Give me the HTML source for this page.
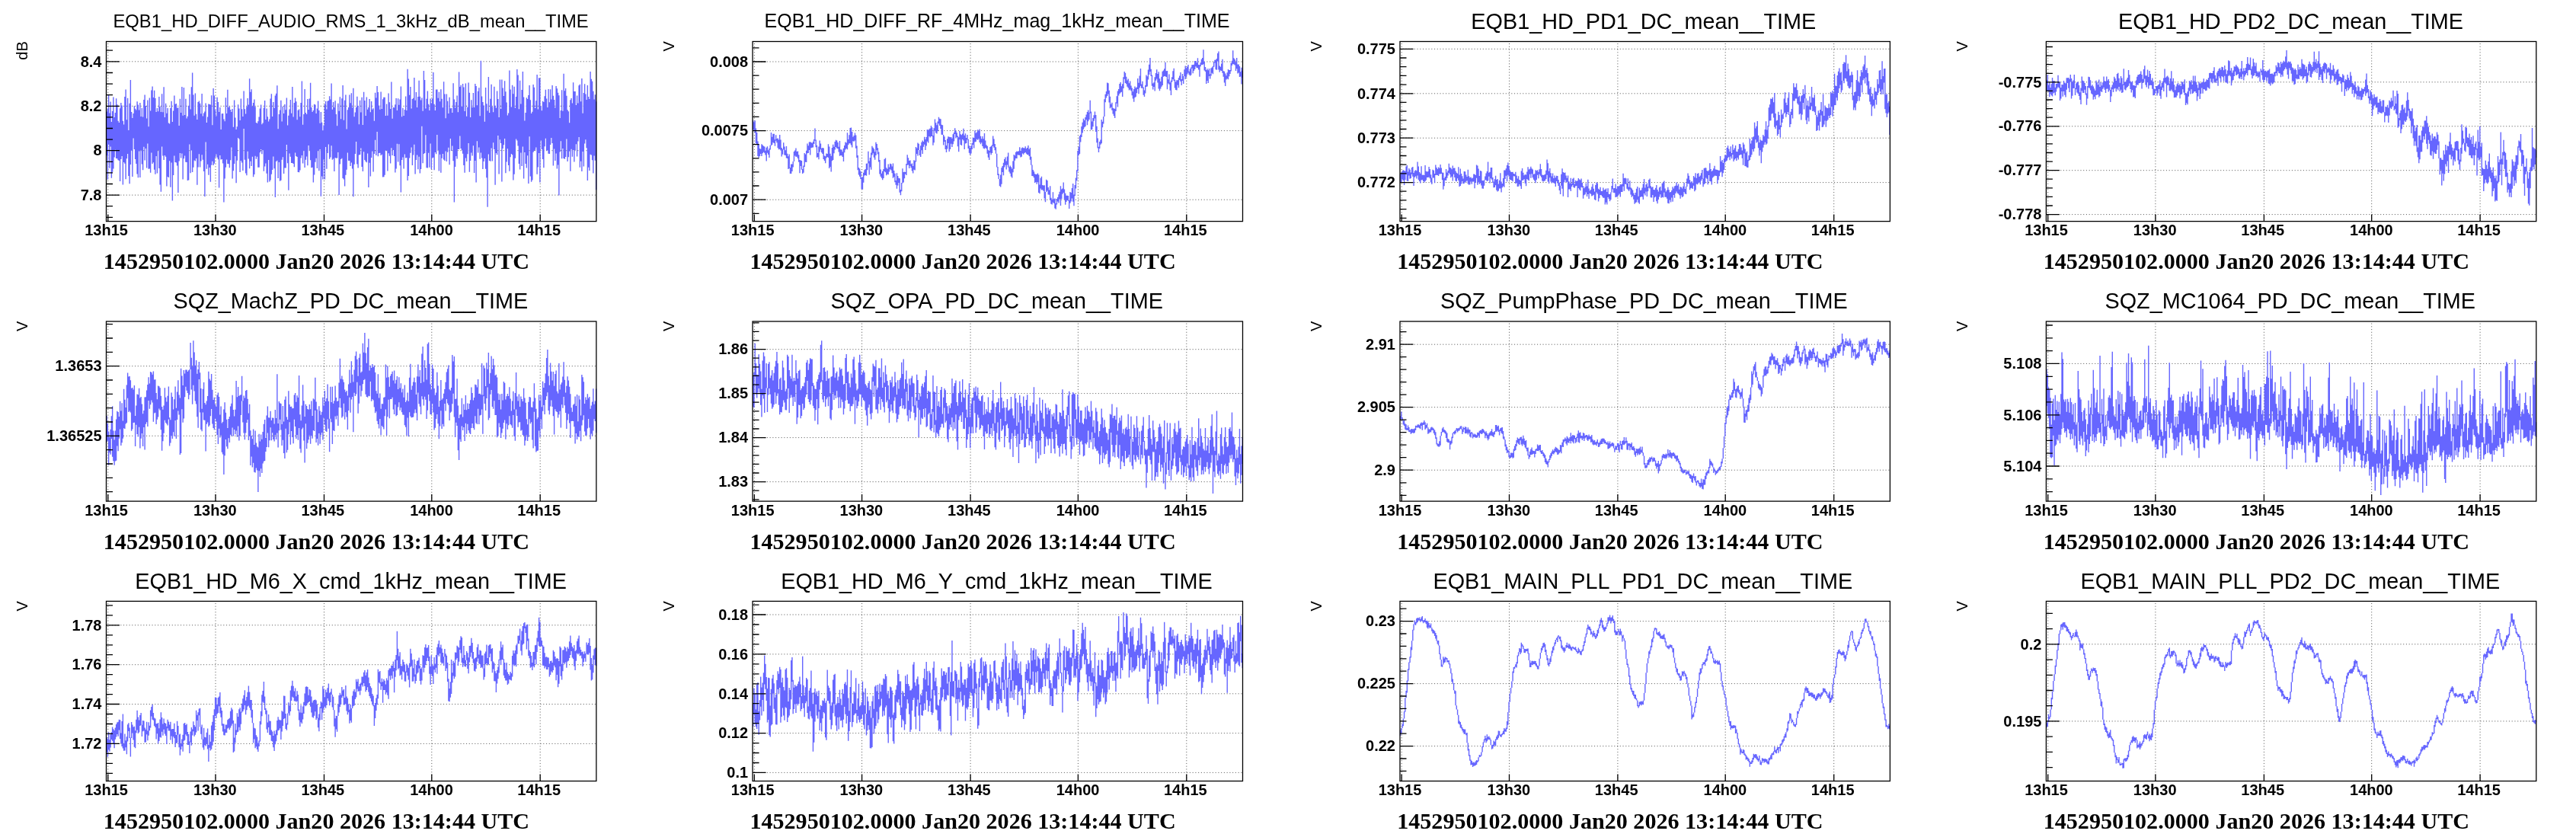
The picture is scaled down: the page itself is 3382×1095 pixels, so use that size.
<!DOCTYPE html>
<html><head><meta charset="utf-8"><title>plots</title>
<style>
html,body{margin:0;padding:0;background:#fff;}
body{width:3382px;height:1095px;overflow:hidden;}
svg{display:block;will-change:transform;opacity:0.999;filter:blur(0.45px);}
text{font-family:"Liberation Sans",sans-serif;fill:#000;}
.tt{text-anchor:middle;}
.tk{font-size:20px;font-weight:bold;}
.un{font-size:20px;text-anchor:end;}
.bt{font-family:"Liberation Serif",serif;font-weight:bold;font-size:30.1px;}
.fr{fill:none;stroke:#000;stroke-width:1.3;}
.gr{fill:none;stroke:#000;stroke-width:1;stroke-dasharray:1.1 2.65;stroke-opacity:.62;}
.ti{fill:none;stroke:#000;stroke-width:1.3;}
.cv{fill:none;stroke:#6666ff;stroke-width:1.4;}
</style></head><body>
<svg width="3382" height="1095" viewBox="0 0 3382 1095">
<rect x="0" y="0" width="3382" height="1095" fill="#fff"/>
<g>
<text class="tt" style="font-size:23.80px" x="460.6" y="35.9">EQB1_HD_DIFF_AUDIO_RMS_1_3kHz_dB_mean__TIME</text>
<text class="un" transform="translate(36.3 54.2) rotate(-90)">dB</text>
<path class="gr" d="M141.8 290.6 V54.5M283.0 290.6 V54.5M425.5 290.6 V54.5M566.8 290.6 V54.5M709.2 290.6 V54.5M139.5 80.8 H782.9M139.5 139.3 H782.9M139.5 197.7 H782.9M139.5 256.1 H782.9"/>
<path class="cv" d="M140.12 146.6V204.3M141.38 142.6V235.8M142.62 125.1V189.7M143.88 148.6V220.7M145.12 133.5V192.6M146.38 160.0V233.7M147.62 146.1V225.7M148.88 127.5V221.4M150.12 154.1V206.6M151.38 148.1V196.7M152.62 129.3V208.0M153.88 137.3V208.2M155.12 158.8V210.2M156.38 160.9V210.9M157.62 142.2V238.1M158.88 135.0V209.0M160.12 138.4V205.1M161.38 158.7V242.4M162.62 163.6V213.0M163.88 127.0V214.8M165.12 117.6V235.2M166.38 157.2V208.3M167.62 128.8V201.9M168.88 170.9V231.0M170.12 135.7V241.2M171.38 104.9V216.1M172.62 146.9V197.7M173.88 154.9V231.9M175.12 148.9V181.6M176.38 139.3V196.1M177.62 142.7V209.1M178.88 144.4V214.9M180.12 133.2V228.4M181.38 137.5V233.3M182.62 144.5V198.4M183.88 134.9V233.1M185.12 153.1V197.3M186.38 141.7V215.5M187.62 153.6V223.3M188.88 130.9V192.8M190.12 124.5V210.5M191.38 139.0V194.9M192.62 155.5V220.6M193.88 131.6V188.5M195.12 166.2V221.8M196.38 128.4V221.6M197.62 145.5V226.7M198.88 118.6V200.6M200.12 113.6V214.9M201.38 127.9V213.3M202.62 118.7V222.7M203.88 129.1V228.8M205.12 147.1V204.9M206.38 141.9V227.6M207.62 146.2V196.9M208.88 127.1V221.0M210.12 139.9V242.5M211.38 147.1V251.7M212.62 123.2V192.6M213.88 147.3V204.6M215.12 114.2V209.9M216.38 154.0V203.9M217.62 135.7V205.7M218.88 148.7V244.6M220.12 142.1V231.9M221.38 161.5V233.1M222.62 162.6V211.3M223.88 141.9V245.8M225.12 132.8V213.6M226.38 160.1V263.5M227.62 145.5V229.9M228.88 125.5V204.6M230.12 136.7V213.0M231.38 136.1V213.6M232.62 141.8V217.6M233.88 141.2V253.1M235.12 164.9V211.4M236.38 129.8V201.1M237.62 148.1V207.4M238.88 114.0V201.4M240.12 151.7V235.5M241.38 114.9V208.2M242.62 150.9V204.6M243.88 129.8V212.7M245.12 155.4V213.0M246.38 152.7V237.1M247.62 138.8V236.4M248.88 123.7V189.4M250.12 143.6V227.2M251.38 114.2V197.6M252.62 95.6V226.1M253.88 124.5V219.7M255.12 151.8V210.6M256.38 122.6V211.6M257.62 149.8V208.0M258.88 156.9V242.7M260.12 134.1V219.5M261.38 132.6V202.2M262.62 135.7V219.4M263.88 149.3V211.5M265.12 123.0V203.3M266.38 152.5V209.7M267.62 148.4V225.0M268.88 146.4V258.0M270.12 135.6V186.4M271.38 160.9V221.7M272.62 153.5V215.8M273.88 136.5V229.7M275.12 136.9V220.0M276.38 137.6V238.8M277.62 125.3V216.8M278.88 164.3V211.8M280.12 116.0V217.0M281.38 125.5V214.7M282.62 144.4V206.7M283.88 152.4V202.5M285.12 127.8V206.7M286.38 134.1V209.2M287.62 146.9V246.4M288.88 141.1V204.0M290.12 170.0V209.6M291.38 149.2V209.1M292.62 149.0V214.5M293.88 156.6V265.6M295.12 159.2V234.4M296.38 128.2V219.7M297.62 149.0V209.5M298.88 117.7V214.9M300.12 141.1V215.3M301.38 139.6V220.3M302.62 143.9V210.3M303.88 146.9V193.5M305.12 142.9V234.5M306.38 166.7V224.2M307.62 131.5V215.1M308.88 154.6V205.1M310.12 169.9V240.2M311.38 166.3V210.7M312.62 137.2V180.9M313.88 142.5V182.6M315.12 158.1V226.0M316.38 129.4V211.0M317.62 143.3V213.4M318.88 152.9V224.1M320.12 119.6V169.1M321.38 143.2V209.8M322.62 149.4V227.4M323.88 140.3V230.2M325.12 129.0V198.7M326.38 137.4V208.5M327.62 103.2V221.3M328.88 120.8V211.8M330.12 117.3V218.0M331.38 139.7V205.8M332.62 135.1V232.2M333.88 130.5V229.1M335.12 140.3V204.7M336.38 161.1V208.7M337.62 162.1V205.7M338.88 159.2V219.7M340.12 153.4V219.8M341.38 142.6V200.2M342.62 137.6V196.0M343.88 163.3V202.3M345.12 161.5V196.9M346.38 141.5V224.8M347.62 131.9V218.4M348.88 157.0V214.5M350.12 142.6V227.8M351.38 153.3V239.4M352.62 159.4V209.9M353.88 156.6V238.6M355.12 129.4V236.6M356.38 123.3V228.8M357.62 153.0V222.9M358.88 134.0V205.4M360.12 142.0V221.2M361.38 125.6V258.9M362.62 122.8V212.1M363.88 112.3V210.8M365.12 169.2V234.0M366.38 150.0V213.0M367.62 144.6V237.8M368.88 131.7V236.7M370.12 159.5V209.7M371.38 139.7V206.3M372.62 149.0V227.9M373.88 137.1V220.6M375.12 144.2V220.4M376.38 128.4V189.9M377.62 164.6V214.2M378.88 151.8V249.8M380.12 143.4V201.4M381.38 131.0V205.8M382.62 148.8V214.1M383.88 113.9V214.1M385.12 153.6V214.9M386.38 135.0V219.2M387.62 128.5V200.4M388.88 133.2V204.9M390.12 157.2V206.1M391.38 144.8V226.1M392.62 143.6V226.3M393.88 153.2V223.6M395.12 135.0V207.6M396.38 106.5V204.1M397.62 163.7V214.6M398.88 149.9V198.0M400.12 117.0V219.9M401.38 147.9V209.8M402.62 150.1V205.5M403.88 129.9V217.2M405.12 143.9V191.0M406.38 129.6V197.2M407.62 108.7V210.3M408.88 140.9V220.3M410.12 147.1V219.8M411.38 144.9V239.5M412.62 136.7V229.6M413.88 137.5V212.8M415.12 149.0V207.8M416.38 142.6V221.1M417.62 132.4V197.8M418.88 144.9V224.3M420.12 161.7V196.0M421.38 147.1V257.8M422.62 160.7V231.4M423.88 171.2V235.4M425.12 164.4V209.5M426.38 137.0V235.6M427.62 132.7V193.0M428.88 143.6V221.8M430.12 132.8V201.1M431.38 132.1V189.6M432.62 126.2V208.7M433.88 130.6V206.4M435.12 109.4V191.2M436.38 143.7V209.8M437.62 133.9V208.5M438.88 141.1V224.9M440.12 132.2V207.0M441.38 150.0V207.8M442.62 165.2V207.6M443.88 135.7V200.1M445.12 145.7V256.1M446.38 127.2V215.4M447.62 156.3V208.9M448.88 129.3V207.7M450.12 112.1V233.9M451.38 157.7V235.6M452.62 131.8V244.5M453.88 124.6V229.8M455.12 169.6V222.7M456.38 144.2V200.5M457.62 141.0V211.1M458.88 124.4V211.0M460.12 135.2V218.1M461.38 122.2V213.5M462.62 141.2V221.6M463.88 115.7V258.2M465.12 153.3V215.7M466.38 147.6V202.1M467.62 141.0V186.1M468.88 126.8V215.5M470.12 139.1V220.6M471.38 163.3V203.4M472.62 131.7V203.0M473.88 147.5V194.5M475.12 127.7V219.0M476.38 164.1V224.9M477.62 120.7V199.3M478.88 132.1V210.0M480.12 152.0V212.1M481.38 127.6V213.2M482.62 143.7V201.4M483.88 140.9V246.1M485.12 130.1V213.7M486.38 147.3V231.5M487.62 132.9V206.9M488.88 143.7V198.5M490.12 142.3V225.5M491.38 158.7V202.0M492.62 121.7V183.8M493.88 128.5V203.9M495.12 112.9V173.0M496.38 120.9V205.2M497.62 138.5V200.9M498.88 143.8V200.7M500.12 120.5V204.0M501.38 143.0V202.8M502.62 130.2V232.5M503.88 127.8V232.3M505.12 127.8V229.8M506.38 152.0V197.7M507.62 136.4V197.6M508.88 151.7V224.5M510.12 122.6V201.2M511.38 134.2V204.7M512.62 142.9V214.5M513.88 107.5V194.2M515.12 155.7V204.0M516.38 141.1V197.1M517.62 141.3V205.0M518.88 137.2V226.5M520.12 129.0V221.4M521.38 145.1V188.8M522.62 129.3V212.6M523.88 137.7V189.3M525.12 130.5V217.3M526.38 113.4V252.5M527.62 153.3V210.1M528.88 141.7V206.5M530.12 151.9V221.5M531.38 143.9V202.5M532.62 126.4V207.4M533.88 144.9V207.0M535.12 90.8V237.0M536.38 103.4V230.9M537.62 124.8V207.6M538.88 114.1V200.7M540.12 142.6V193.4M541.38 130.1V216.9M542.62 128.8V203.4M543.88 102.0V189.8M545.12 131.7V228.5M546.38 121.1V210.0M547.62 141.0V203.6M548.88 126.9V222.2M550.12 105.8V205.7M551.38 126.8V227.5M552.62 131.4V222.1M553.88 128.4V165.7M555.12 145.7V214.3M556.38 92.9V202.0M557.62 105.0V201.1M558.88 142.6V177.2M560.12 129.7V220.3M561.38 119.5V220.6M562.62 136.7V200.7M563.88 144.9V219.7M565.12 129.6V188.5M566.38 135.4V222.2M567.62 129.6V207.2M568.88 95.0V206.8M570.12 136.8V223.3M571.38 145.0V200.0M572.62 117.4V202.2M573.88 117.6V176.9M575.12 128.7V197.0M576.38 120.7V224.4M577.62 133.3V202.7M578.88 117.3V226.8M580.12 129.7V207.7M581.38 141.3V202.1M582.62 107.3V209.4M583.88 123.6V211.1M585.12 155.2V198.4M586.38 123.5V212.1M587.62 132.8V199.7M588.88 149.0V193.8M590.12 127.7V216.3M591.38 142.2V182.1M592.62 142.0V197.9M593.88 148.0V191.4M595.12 109.3V211.3M596.38 130.4V265.5M597.62 141.6V219.1M598.88 134.0V204.9M600.12 125.4V208.6M601.38 147.3V196.0M602.62 94.4V195.9M603.88 113.9V178.6M605.12 111.8V195.1M606.38 139.7V197.3M607.62 109.9V201.7M608.88 114.6V217.1M610.12 145.9V226.8M611.38 109.4V207.6M612.62 152.8V211.9M613.88 140.7V202.2M615.12 108.6V187.9M616.38 121.7V225.7M617.62 154.0V211.0M618.88 131.2V200.6M620.12 140.9V204.5M621.38 122.1V191.3M622.62 141.0V226.9M623.88 109.9V211.0M625.12 112.9V239.6M626.38 138.2V185.3M627.62 119.7V200.5M628.88 115.3V193.6M630.12 152.2V208.8M631.38 79.7V200.4M632.62 126.4V207.6M633.88 134.0V221.9M635.12 138.5V211.9M636.38 159.7V208.0M637.62 115.1V221.8M638.88 136.2V233.3M640.12 145.5V271.8M641.38 101.1V202.6M642.62 148.0V211.1M643.88 129.8V211.8M645.12 110.8V194.4M646.38 140.2V211.4M647.62 147.3V187.2M648.88 113.7V196.0M650.12 138.8V242.8M651.38 141.7V201.0M652.62 119.6V203.2M653.88 130.0V177.9M655.12 153.9V228.4M656.38 104.5V183.3M657.62 143.0V188.0M658.88 104.4V238.6M660.12 115.4V194.9M661.38 125.9V190.3M662.62 106.2V182.1M663.88 120.2V227.3M665.12 134.6V212.4M666.38 151.6V195.2M667.62 148.5V216.9M668.88 92.6V224.8M670.12 117.4V206.3M671.38 140.4V202.1M672.62 111.7V203.2M673.88 123.2V236.4M675.12 113.7V228.8M676.38 141.7V207.7M677.62 126.9V182.5M678.88 91.1V184.5M680.12 98.6V191.4M681.38 143.3V214.9M682.62 105.8V222.6M683.88 136.4V200.4M685.12 118.1V218.1M686.38 94.1V192.5M687.62 127.4V234.5M688.88 158.6V200.1M690.12 147.9V214.9M691.38 128.3V220.6M692.62 129.9V204.2M693.88 125.0V241.1M695.12 111.9V179.2M696.38 131.2V231.4M697.62 148.9V238.7M698.88 146.7V236.6M700.12 111.1V199.7M701.38 114.8V198.1M702.62 141.9V196.8M703.88 132.2V193.6M705.12 98.1V228.8M706.38 143.6V219.6M707.62 102.2V201.1M708.88 102.7V239.5M710.12 139.4V184.5M711.38 145.3V196.0M712.62 132.7V209.1M713.88 134.1V220.3M715.12 126.3V192.2M716.38 117.8V181.7M717.62 129.5V197.7M718.88 141.1V197.5M720.12 117.1V201.8M721.38 134.3V202.0M722.62 117.2V189.9M723.88 130.5V181.0M725.12 112.0V188.0M726.38 125.7V217.6M727.62 131.1V195.5M728.88 141.6V211.1M730.12 112.9V201.4M731.38 116.3V221.5M732.62 121.7V216.4M733.88 125.3V256.4M735.12 155.0V199.6M736.38 145.1V185.2M737.62 118.2V208.3M738.88 145.7V195.0M740.12 96.7V207.9M741.38 119.3V208.8M742.62 115.9V206.0M743.88 125.8V182.4M745.12 144.2V212.1M746.38 146.2V206.3M747.62 161.2V198.6M748.88 131.3V224.8M750.12 128.9V195.7M751.38 135.5V205.7M752.62 108.2V197.1M753.88 120.0V212.6M755.12 119.9V196.9M756.38 138.0V189.2M757.62 125.4V205.6M758.88 135.4V185.5M760.12 112.3V180.0M761.38 110.8V219.8M762.62 133.2V211.7M763.88 102.9V225.1M765.12 148.8V198.9M766.38 122.1V218.6M767.62 110.2V188.6M768.88 123.5V183.3M770.12 131.1V194.2M771.38 112.1V237.1M772.62 126.9V219.8M773.88 130.1V223.9M775.12 94.1V202.7M776.38 103.7V203.6M777.62 106.8V210.2M778.88 119.7V227.5M780.12 130.5V204.4M781.38 124.3V210.8M782.62 133.3V249.3"/>
<path class="ti" d="M141.8 290.6 V281.6M283.0 290.6 V281.6M425.5 290.6 V281.6M566.8 290.6 V281.6M709.2 290.6 V281.6M139.5 80.8 H157.0M139.5 139.3 H157.0M139.5 197.7 H157.0M139.5 256.1 H157.0M139.5 66.2 H148.0M139.5 95.5 H148.0M139.5 110.1 H148.0M139.5 124.7 H148.0M139.5 153.9 H148.0M139.5 168.5 H148.0M139.5 183.1 H148.0M139.5 212.3 H148.0M139.5 226.9 H148.0M139.5 241.5 H148.0M139.5 270.7 H148.0M139.5 285.4 H148.0"/>
<rect class="fr" x="139.5" y="54.5" width="643.4" height="236.1"/>
<text class="tk" text-anchor="middle" x="139.6" y="309.0">13h15</text>
<text class="tk" text-anchor="middle" x="282.3" y="309.0">13h30</text>
<text class="tk" text-anchor="middle" x="423.8" y="309.0">13h45</text>
<text class="tk" text-anchor="middle" x="566.5" y="309.0">14h00</text>
<text class="tk" text-anchor="middle" x="707.7" y="309.0">14h15</text>
<text class="tk" text-anchor="end" x="133.5" y="87.5">8.4</text>
<text class="tk" text-anchor="end" x="133.5" y="146.0">8.2</text>
<text class="tk" text-anchor="end" x="133.5" y="204.4">8</text>
<text class="tk" text-anchor="end" x="133.5" y="262.8">7.8</text>
<text class="bt" x="135.8" y="353.3">1452950102.0000 Jan20 2026 13:14:44 UTC</text>
</g>
<g>
<text class="tt" style="font-size:25.05px" x="1309.0" y="36.3">EQB1_HD_DIFF_RF_4MHz_mag_1kHz_mean__TIME</text>
<text class="un" transform="translate(884.9 54.2) rotate(-90)">V</text>
<path class="gr" d="M990.4 290.6 V54.5M1131.6 290.6 V54.5M1274.1 290.6 V54.5M1415.4 290.6 V54.5M1557.8 290.6 V54.5M988.1 81.0 H1631.5M988.1 171.6 H1631.5M988.1 262.2 H1631.5"/>
<path class="cv" d="M988.73 158.2V170.0M989.98 160.3V171.6M991.23 158.2V174.6M992.48 168.6V188.2M993.73 174.0V189.0M994.98 185.6V205.0M996.23 189.0V206.9M997.48 195.1V205.1M998.73 195.7V202.0M999.98 189.2V204.9M1001.23 190.5V201.3M1002.48 191.8V199.8M1003.73 192.5V200.8M1004.98 197.8V203.4M1006.23 193.8V211.6M1007.48 192.3V200.7M1008.73 197.2V203.0M1009.98 195.1V207.0M1011.23 190.7V196.6M1012.48 173.9V191.2M1013.73 179.7V189.9M1014.98 175.8V186.9M1016.23 175.8V188.0M1017.48 183.2V191.8M1018.73 177.3V184.7M1019.98 182.3V187.3M1021.23 181.5V194.2M1022.48 183.6V196.2M1023.73 176.9V195.7M1024.97 183.6V197.5M1026.22 193.9V205.4M1027.47 195.7V202.7M1028.72 187.3V196.4M1029.97 192.5V203.5M1031.22 197.3V204.1M1032.47 192.0V207.4M1033.72 201.8V208.1M1034.97 205.3V222.0M1036.22 202.4V220.9M1037.47 220.1V228.0M1038.72 215.6V227.9M1039.97 215.4V224.9M1041.22 211.9V219.6M1042.47 199.1V211.9M1043.72 197.6V204.6M1044.97 194.6V205.8M1046.22 199.0V205.7M1047.47 198.4V208.1M1048.72 203.2V212.7M1049.97 209.9V227.3M1051.22 210.6V218.0M1052.47 210.9V222.7M1053.72 221.9V228.1M1054.97 217.6V226.7M1056.22 201.0V218.9M1057.47 202.4V212.7M1058.72 197.8V213.0M1059.97 188.6V201.3M1061.22 191.2V200.9M1062.47 186.6V197.0M1063.72 186.3V203.5M1064.97 187.0V194.3M1066.22 188.1V193.7M1067.47 185.9V193.6M1068.72 183.1V188.9M1069.97 168.5V184.7M1071.22 183.4V193.3M1072.47 190.8V206.8M1073.72 201.0V206.2M1074.97 192.4V209.2M1076.22 184.4V199.6M1077.47 188.6V196.3M1078.72 194.7V200.3M1079.97 194.0V202.1M1081.22 194.5V208.9M1082.47 204.5V210.9M1083.72 205.2V214.2M1084.97 201.4V207.6M1086.22 202.0V206.1M1087.47 189.3V207.0M1088.72 192.5V220.9M1089.97 201.8V219.0M1091.22 204.8V225.4M1092.47 193.9V211.2M1093.72 189.8V209.9M1094.97 192.7V201.2M1096.22 186.0V196.6M1097.47 183.7V193.1M1098.72 184.5V194.7M1099.97 187.1V195.2M1101.22 192.7V199.5M1102.47 185.1V204.7M1103.72 196.2V204.1M1104.97 196.5V204.2M1106.22 199.3V206.0M1107.47 194.7V212.1M1108.72 191.1V200.2M1109.97 186.4V196.6M1111.22 187.5V195.1M1112.47 174.3V196.3M1113.72 182.9V190.2M1114.97 177.3V188.3M1116.22 168.1V188.2M1117.47 167.6V190.5M1118.72 173.0V193.6M1119.97 179.7V185.2M1121.22 177.9V185.7M1122.47 174.6V184.4M1123.72 177.4V194.8M1124.97 191.5V207.1M1126.22 204.0V223.2M1127.47 220.1V229.5M1128.72 221.4V231.8M1129.97 225.1V235.0M1131.22 233.1V248.2M1132.47 232.2V248.7M1133.72 226.7V239.8M1134.97 223.3V230.5M1136.22 222.1V230.0M1137.47 214.8V230.7M1138.72 214.5V223.3M1139.97 198.7V214.5M1141.22 211.6V229.6M1142.47 207.0V219.5M1143.72 200.5V222.7M1144.97 191.8V203.5M1146.22 193.7V201.3M1147.47 195.4V206.7M1148.72 199.3V209.7M1149.97 186.8V204.0M1151.22 189.0V197.3M1152.47 194.2V202.4M1153.72 199.5V212.4M1154.97 209.9V228.6M1156.22 222.5V231.7M1157.47 227.7V233.7M1158.72 224.8V236.3M1159.97 222.1V234.0M1161.22 209.1V225.1M1162.47 207.5V226.3M1163.72 220.3V230.3M1164.97 221.8V228.8M1166.22 215.6V229.3M1167.47 219.5V225.4M1168.72 214.8V222.3M1169.97 215.5V223.4M1171.22 218.4V227.2M1172.47 214.4V233.8M1173.72 224.0V232.2M1174.97 227.8V239.2M1176.22 237.1V242.7M1177.47 227.3V247.7M1178.72 230.9V243.6M1179.97 233.7V240.0M1181.22 234.3V252.7M1182.47 248.9V256.3M1183.72 240.1V251.3M1184.97 221.3V240.5M1186.22 226.1V239.6M1187.47 225.4V234.3M1188.72 225.9V228.4M1189.97 215.0V229.9M1191.22 203.2V216.8M1192.47 207.2V216.5M1193.72 211.1V220.9M1194.97 210.6V217.8M1196.22 215.5V220.2M1197.47 214.5V224.4M1198.72 218.0V227.5M1199.97 210.2V222.7M1201.22 211.3V223.5M1202.47 193.0V212.5M1203.72 194.4V201.9M1204.97 187.6V204.5M1206.22 188.8V196.9M1207.47 196.9V204.0M1208.72 191.3V205.9M1209.97 186.8V197.2M1211.22 184.4V202.0M1212.47 186.1V192.8M1213.72 179.8V189.7M1214.97 182.9V197.0M1216.22 180.0V191.6M1217.47 170.0V185.8M1218.72 170.7V187.6M1219.97 169.4V179.1M1221.22 168.6V180.5M1222.47 164.9V179.0M1223.72 167.2V179.0M1224.97 177.9V190.8M1226.22 168.3V187.3M1227.47 156.4V171.8M1228.72 161.2V174.5M1229.97 164.2V175.5M1231.22 159.4V172.3M1232.47 153.8V162.3M1233.72 155.8V165.1M1234.97 156.2V169.0M1236.22 163.7V176.7M1237.47 164.3V177.0M1238.72 177.0V190.4M1239.97 179.2V185.9M1241.22 184.0V196.0M1242.47 190.9V199.9M1243.72 182.3V195.5M1244.97 179.2V187.9M1246.22 179.8V199.1M1247.47 180.3V196.0M1248.72 180.1V188.8M1249.97 181.7V193.0M1251.22 176.2V189.2M1252.47 174.1V185.4M1253.72 168.3V176.1M1254.97 172.1V181.4M1256.22 174.3V180.1M1257.47 178.5V192.2M1258.72 180.3V199.3M1259.97 172.1V183.3M1261.22 176.2V190.0M1262.47 177.3V191.1M1263.72 175.6V182.9M1264.97 168.7V184.6M1266.22 177.8V196.1M1267.47 175.3V188.5M1268.72 181.1V188.1M1269.97 176.9V183.5M1271.22 182.8V195.1M1272.47 191.2V200.8M1273.72 193.9V203.4M1274.97 191.5V201.6M1276.22 188.1V195.9M1277.47 180.5V189.9M1278.72 181.0V194.5M1279.97 171.3V186.5M1281.22 174.8V185.9M1282.47 173.4V182.7M1283.72 170.2V183.7M1284.97 172.1V182.2M1286.22 169.5V187.1M1287.47 178.7V189.3M1288.72 182.2V187.3M1289.97 179.0V192.1M1291.22 182.3V194.8M1292.47 175.1V195.4M1293.72 184.4V194.0M1294.97 190.2V195.3M1296.22 191.8V201.8M1297.47 196.8V206.7M1298.72 198.1V210.0M1299.97 192.9V200.5M1301.22 191.9V203.2M1302.47 190.3V200.9M1303.72 178.6V191.7M1304.97 182.4V193.8M1306.22 189.0V197.2M1307.47 193.3V201.7M1308.72 201.7V219.4M1309.97 219.1V229.9M1311.22 228.2V235.1M1312.47 235.1V244.2M1313.72 229.5V245.5M1314.97 220.2V241.7M1316.22 218.0V226.0M1317.47 213.7V230.2M1318.72 209.0V219.5M1319.97 206.4V216.7M1321.22 211.6V222.5M1322.47 205.6V216.6M1323.72 200.4V219.7M1324.97 219.3V225.4M1326.22 217.6V227.7M1327.47 219.3V231.7M1328.72 221.4V233.5M1329.97 211.4V226.3M1331.22 203.0V221.7M1332.47 204.2V210.8M1333.72 199.7V208.1M1334.97 198.6V207.9M1336.22 199.1V203.3M1337.47 198.3V203.7M1338.72 193.3V203.8M1339.97 198.0V206.5M1341.22 194.6V205.7M1342.47 193.6V201.5M1343.72 194.3V202.7M1344.97 194.4V200.9M1346.22 192.3V200.1M1347.47 195.3V201.7M1348.72 194.1V202.9M1349.97 190.9V203.3M1351.22 195.9V205.0M1352.47 193.9V209.8M1353.72 205.8V216.8M1354.97 216.6V230.9M1356.22 222.9V231.2M1357.47 225.3V233.2M1358.72 228.3V240.0M1359.97 229.0V239.1M1361.22 228.8V241.8M1362.47 227.6V239.3M1363.72 229.6V253.0M1364.97 242.4V254.2M1366.22 233.7V247.6M1367.47 231.8V249.4M1368.72 242.9V249.2M1369.97 243.5V250.8M1371.22 243.2V260.6M1372.47 251.9V265.3M1373.72 235.8V251.9M1374.97 237.1V250.4M1376.22 246.0V255.4M1377.47 249.5V255.8M1378.72 244.2V263.0M1379.97 259.8V267.8M1381.22 261.7V268.6M1382.47 252.3V265.7M1383.72 261.2V267.1M1384.97 260.4V273.6M1386.22 266.9V274.8M1387.47 261.1V268.5M1388.72 258.9V264.4M1389.97 255.2V266.4M1391.22 251.7V261.4M1392.47 244.3V270.0M1393.72 248.6V261.0M1394.97 247.5V254.7M1396.22 239.5V253.1M1397.47 248.5V261.8M1398.72 253.8V268.7M1399.97 256.7V264.9M1401.22 256.7V263.1M1402.47 257.1V263.7M1403.72 263.1V273.9M1404.97 251.9V266.7M1406.22 253.0V264.5M1407.47 246.9V260.6M1408.72 240.9V264.7M1409.97 255.5V270.3M1411.22 243.1V257.3M1412.47 233.5V247.4M1413.72 223.3V237.3M1414.97 198.0V225.1M1416.22 192.8V204.0M1417.47 178.5V202.1M1418.72 176.8V186.4M1419.97 166.1V180.1M1421.22 160.7V174.6M1422.47 155.8V169.7M1423.72 158.1V167.2M1424.97 153.9V165.9M1426.22 150.5V157.3M1427.47 147.1V164.3M1428.72 144.6V159.3M1429.97 147.8V156.9M1431.22 131.8V148.7M1432.47 146.5V170.5M1433.72 159.6V170.1M1434.97 155.1V166.3M1436.22 151.3V158.8M1437.47 146.5V155.6M1438.72 151.1V173.0M1439.97 165.7V187.3M1441.22 181.6V194.5M1442.47 192.7V200.0M1443.72 185.9V194.9M1444.97 183.6V189.8M1446.22 157.0V188.3M1447.47 159.8V167.3M1448.72 153.0V162.6M1449.97 130.2V153.0M1451.22 123.8V134.3M1452.47 120.1V128.6M1453.72 108.6V125.9M1454.97 109.3V123.6M1456.22 118.7V134.5M1457.47 126.8V142.2M1458.72 136.8V140.7M1459.97 134.8V144.8M1461.22 141.7V149.5M1462.47 142.6V152.2M1463.72 142.8V155.0M1464.97 134.3V146.0M1466.22 126.2V135.7M1467.47 119.5V140.5M1468.72 116.9V125.4M1469.97 110.1V123.0M1471.22 108.1V121.4M1472.47 113.3V120.8M1473.72 110.3V127.0M1474.97 101.2V116.0M1476.22 93.9V103.8M1477.47 95.8V109.1M1478.72 100.7V110.2M1479.97 105.4V113.8M1481.22 103.5V115.5M1482.47 109.3V118.5M1483.72 106.6V117.4M1484.97 112.6V119.3M1486.22 115.4V125.3M1487.47 120.3V129.6M1488.72 117.0V133.8M1489.97 113.4V128.3M1491.22 115.4V127.0M1492.47 114.6V122.2M1493.72 103.1V117.1M1494.97 108.7V123.3M1496.22 99.4V115.3M1497.47 90.0V112.8M1498.72 110.4V115.8M1499.97 106.8V115.8M1501.22 114.6V124.8M1502.47 118.5V127.1M1503.72 111.9V122.5M1504.97 98.5V114.0M1506.22 100.2V113.4M1507.47 91.5V104.5M1508.72 84.8V97.9M1509.97 76.1V93.9M1511.22 90.7V100.1M1512.47 98.5V112.8M1513.72 109.6V117.6M1514.97 108.3V113.9M1516.22 101.3V119.6M1517.47 96.0V105.7M1518.72 91.3V103.4M1519.97 96.9V108.5M1521.22 94.2V116.5M1522.47 103.3V119.3M1523.72 106.9V116.4M1524.97 100.8V113.7M1526.22 93.7V111.9M1527.47 92.6V100.8M1528.72 90.2V99.9M1529.97 81.8V100.3M1531.22 93.3V101.1M1532.47 92.9V117.3M1533.72 104.3V109.5M1534.97 97.4V110.7M1536.22 108.2V118.8M1537.47 105.7V125.1M1538.72 101.3V107.6M1539.97 93.3V104.0M1541.22 89.8V106.1M1542.47 104.4V115.6M1543.72 107.6V118.1M1544.97 105.2V118.4M1546.22 105.3V111.8M1547.47 102.2V115.3M1548.72 99.6V105.1M1549.97 95.1V107.0M1551.22 103.9V112.0M1552.47 97.1V106.1M1553.72 100.0V109.9M1554.97 91.3V100.0M1556.22 86.6V103.9M1557.47 89.3V101.6M1558.72 87.6V97.6M1559.97 85.1V95.4M1561.22 93.8V97.9M1562.47 90.4V99.6M1563.72 88.5V98.6M1564.97 85.3V89.8M1566.22 85.1V96.2M1567.47 84.7V93.0M1568.72 80.1V91.0M1569.97 80.0V87.3M1571.22 82.2V89.1M1572.47 76.2V89.3M1573.72 84.9V91.5M1574.97 85.3V100.8M1576.22 82.2V87.2M1577.47 77.7V84.9M1578.72 76.1V85.3M1579.97 65.3V84.3M1581.22 81.0V92.6M1582.47 88.1V94.0M1583.72 92.0V109.9M1584.97 90.3V106.0M1586.22 92.3V109.0M1587.47 89.9V100.0M1588.72 97.2V103.6M1589.97 89.4V99.4M1591.22 88.5V95.8M1592.47 86.8V97.2M1593.72 81.3V87.8M1594.97 78.8V82.5M1596.22 78.4V91.2M1597.47 77.1V91.7M1598.72 70.1V80.4M1599.97 67.6V91.5M1601.22 86.6V94.8M1602.47 87.7V92.5M1603.72 83.6V93.0M1604.97 77.8V95.8M1606.22 93.2V100.7M1607.47 93.7V108.6M1608.72 96.6V112.9M1609.97 99.2V104.5M1611.22 95.3V103.2M1612.47 91.0V104.3M1613.72 92.0V100.2M1614.97 92.1V97.1M1616.22 82.7V93.6M1617.47 79.7V86.1M1618.72 66.2V83.9M1619.97 76.3V84.5M1621.22 78.1V85.5M1622.47 81.6V92.9M1623.72 76.1V90.3M1624.97 84.5V96.5M1626.22 84.4V95.6M1627.47 87.0V101.0M1628.72 94.3V100.5M1629.97 88.8V110.5M1631.22 92.9V102.1"/>
<path class="ti" d="M990.4 290.6 V281.6M1131.6 290.6 V281.6M1274.1 290.6 V281.6M1415.4 290.6 V281.6M1557.8 290.6 V281.6M988.1 81.0 H1005.6M988.1 171.6 H1005.6M988.1 262.2 H1005.6M988.1 62.8 H996.6M988.1 99.1 H996.6M988.1 117.2 H996.6M988.1 135.3 H996.6M988.1 153.4 H996.6M988.1 189.7 H996.6M988.1 207.8 H996.6M988.1 225.9 H996.6M988.1 244.0 H996.6M988.1 280.3 H996.6"/>
<rect class="fr" x="988.1" y="54.5" width="643.4" height="236.1"/>
<text class="tk" text-anchor="middle" x="988.2" y="309.0">13h15</text>
<text class="tk" text-anchor="middle" x="1130.9" y="309.0">13h30</text>
<text class="tk" text-anchor="middle" x="1272.4" y="309.0">13h45</text>
<text class="tk" text-anchor="middle" x="1415.1" y="309.0">14h00</text>
<text class="tk" text-anchor="middle" x="1556.3" y="309.0">14h15</text>
<text class="tk" text-anchor="end" x="982.1" y="87.7">0.008</text>
<text class="tk" text-anchor="end" x="982.1" y="178.2">0.0075</text>
<text class="tk" text-anchor="end" x="982.1" y="268.9">0.007</text>
<text class="bt" x="984.4" y="353.3">1452950102.0000 Jan20 2026 13:14:44 UTC</text>
</g>
<g>
<text class="tt" style="font-size:28.80px" x="2157.8" y="37.6">EQB1_HD_PD1_DC_mean__TIME</text>
<text class="un" transform="translate(1734.8 54.2) rotate(-90)">V</text>
<path class="gr" d="M1840.2 290.6 V54.5M1981.5 290.6 V54.5M2123.9 290.6 V54.5M2265.2 290.6 V54.5M2407.7 290.6 V54.5M1838.0 64.3 H2481.3M1838.0 122.8 H2481.3M1838.0 181.2 H2481.3M1838.0 239.6 H2481.3"/>
<path class="cv" d="M1838.58 228.9V238.7M1839.83 226.3V239.3M1841.08 224.4V235.6M1842.33 223.3V237.1M1843.58 224.0V242.9M1844.83 224.7V236.3M1846.08 218.4V228.9M1847.33 217.1V237.6M1848.58 225.6V238.1M1849.83 221.0V230.6M1851.08 222.7V234.7M1852.33 226.5V234.0M1853.58 219.9V228.8M1854.83 218.9V231.7M1856.08 227.0V244.1M1857.33 224.6V232.8M1858.58 223.2V231.6M1859.83 224.2V234.5M1861.08 212.4V230.4M1862.33 218.4V236.0M1863.58 226.1V238.1M1864.83 227.8V240.5M1866.08 218.3V236.4M1867.33 229.7V236.1M1868.58 229.5V238.0M1869.83 230.1V239.8M1871.08 217.0V238.1M1872.33 224.7V236.6M1873.58 225.4V232.9M1874.83 225.1V233.1M1876.08 219.0V232.5M1877.33 222.0V234.3M1878.58 229.3V239.5M1879.83 233.4V241.9M1881.08 222.7V233.4M1882.33 223.7V233.5M1883.58 228.1V240.2M1884.83 216.4V230.1M1886.08 220.0V229.8M1887.33 222.0V230.1M1888.58 219.5V230.9M1889.83 220.7V228.4M1891.08 216.1V228.6M1892.33 220.4V228.1M1893.58 226.5V236.3M1894.83 226.7V248.7M1896.08 234.0V244.2M1897.33 232.1V236.7M1898.58 222.0V237.1M1899.83 226.5V233.7M1901.08 224.0V230.4M1902.33 214.7V227.0M1903.58 219.7V229.1M1904.83 220.4V233.3M1906.08 222.3V231.7M1907.33 217.4V237.5M1908.58 220.8V228.7M1909.83 220.6V233.1M1911.08 224.6V237.4M1912.33 226.7V238.3M1913.58 227.8V234.3M1914.83 219.3V236.9M1916.08 229.6V245.1M1917.33 221.5V244.0M1918.58 227.9V241.5M1919.83 231.2V238.0M1921.08 234.4V241.3M1922.33 225.0V240.8M1923.58 225.2V239.3M1924.83 229.4V238.4M1926.08 232.1V237.2M1927.33 222.7V241.4M1928.58 231.2V242.8M1929.83 233.2V242.3M1931.08 232.4V238.6M1932.33 234.2V241.8M1933.58 233.5V238.5M1934.83 228.6V238.5M1936.08 228.7V247.3M1937.33 230.0V240.0M1938.58 216.4V233.7M1939.83 217.6V242.7M1941.08 221.6V239.3M1942.33 231.1V241.7M1943.58 223.9V240.6M1944.83 224.8V243.6M1946.08 237.0V247.5M1947.33 237.2V247.7M1948.58 236.2V243.7M1949.83 231.6V236.2M1951.08 227.6V236.4M1952.33 225.1V237.9M1953.58 212.4V237.2M1954.83 226.7V231.8M1956.08 225.8V240.5M1957.33 219.9V234.2M1958.58 219.9V235.7M1959.83 233.0V239.8M1961.08 238.6V246.3M1962.33 235.2V245.9M1963.58 230.8V243.3M1964.83 236.0V249.7M1966.08 235.1V251.6M1967.33 241.6V250.6M1968.58 236.8V247.6M1969.83 227.2V247.5M1971.08 238.6V252.4M1972.33 241.1V246.3M1973.58 233.9V244.4M1974.83 223.6V245.8M1976.08 223.5V235.0M1977.33 221.2V230.7M1978.58 216.9V238.3M1979.83 213.4V229.7M1981.08 217.7V231.8M1982.33 223.4V236.3M1983.58 225.6V236.0M1984.83 225.9V237.0M1986.08 225.8V238.2M1987.33 227.9V231.2M1988.58 228.6V231.5M1989.83 225.8V241.0M1991.08 230.5V240.3M1992.33 234.4V245.1M1993.58 231.2V244.8M1994.83 236.1V242.0M1996.08 237.0V244.3M1997.33 224.6V247.9M1998.58 221.0V237.0M1999.83 226.8V236.4M2001.08 230.3V235.3M2002.33 229.0V240.8M2003.58 229.5V244.2M2004.83 225.4V234.9M2006.08 219.2V236.3M2007.33 222.5V237.3M2008.58 221.4V228.7M2009.83 218.7V233.7M2011.08 221.2V228.2M2012.33 222.4V233.3M2013.58 228.8V235.7M2014.83 228.2V237.5M2016.08 223.2V240.2M2017.33 224.3V236.0M2018.58 223.3V229.7M2019.83 225.8V234.2M2021.08 222.2V228.7M2022.33 215.3V230.8M2023.58 222.0V232.8M2024.83 229.5V237.4M2026.08 229.9V238.4M2027.33 229.6V237.7M2028.58 228.7V237.3M2029.83 223.8V234.9M2031.08 209.6V229.7M2032.33 214.2V238.5M2033.58 224.7V241.1M2034.83 221.0V233.3M2036.08 227.2V238.6M2037.33 231.4V240.5M2038.58 227.4V239.6M2039.83 233.9V240.2M2041.08 230.6V241.0M2042.33 233.3V245.1M2043.58 230.7V237.9M2044.83 231.1V240.5M2046.08 236.1V243.9M2047.33 239.8V249.9M2048.57 243.7V255.1M2049.82 228.8V243.7M2051.07 221.2V247.8M2052.32 226.1V257.7M2053.57 227.0V239.4M2054.82 226.5V236.2M2056.07 230.5V239.2M2057.32 233.8V238.7M2058.57 230.5V258.9M2059.82 238.3V248.4M2061.07 240.8V248.4M2062.32 233.7V251.1M2063.57 240.9V245.1M2064.82 234.8V243.0M2066.07 233.6V246.1M2067.32 241.6V246.7M2068.57 236.8V244.6M2069.82 238.1V244.0M2071.07 237.3V259.0M2072.32 234.1V247.0M2073.57 235.4V248.7M2074.82 236.6V250.3M2076.07 234.5V245.8M2077.32 240.1V246.3M2078.57 244.2V260.7M2079.82 247.3V256.3M2081.07 245.4V255.3M2082.32 240.4V252.6M2083.57 244.6V258.1M2084.82 235.8V254.9M2086.07 247.6V261.0M2087.32 250.6V253.7M2088.57 249.0V254.8M2089.82 245.2V257.6M2091.07 241.4V256.7M2092.32 247.7V255.8M2093.57 251.5V262.1M2094.82 242.9V263.0M2096.07 239.4V252.4M2097.32 240.4V254.6M2098.57 247.7V264.6M2099.82 249.1V260.3M2101.07 245.8V255.9M2102.32 251.0V256.3M2103.57 251.0V258.0M2104.82 246.5V259.7M2106.07 249.6V259.8M2107.32 248.7V268.4M2108.57 247.4V265.7M2109.82 252.0V268.4M2111.07 247.3V259.1M2112.32 254.8V261.2M2113.57 255.0V264.3M2114.82 252.5V262.3M2116.07 244.0V252.5M2117.32 234.5V248.5M2118.57 247.3V252.9M2119.82 247.1V253.2M2121.07 241.6V259.1M2122.32 247.8V258.5M2123.57 244.4V258.6M2124.82 244.7V256.3M2126.07 243.9V254.5M2127.32 242.0V258.4M2128.57 242.3V252.0M2129.82 241.4V252.1M2131.07 227.8V244.8M2132.32 234.1V250.7M2133.57 233.5V241.5M2134.82 234.3V242.1M2136.07 241.0V247.7M2137.32 234.3V249.1M2138.57 245.6V251.1M2139.82 237.3V248.7M2141.07 246.2V255.4M2142.32 247.5V258.7M2143.57 249.5V257.2M2144.82 253.5V261.8M2146.07 255.9V267.8M2147.32 253.1V266.2M2148.57 247.8V265.6M2149.82 244.9V262.2M2151.07 257.7V266.0M2152.32 246.5V267.8M2153.57 250.1V258.9M2154.82 249.6V257.9M2156.07 246.4V258.5M2157.32 241.6V262.1M2158.57 235.0V254.0M2159.82 246.6V256.6M2161.07 242.3V251.5M2162.32 240.6V258.1M2163.57 244.9V251.2M2164.82 236.0V246.6M2166.07 234.6V247.4M2167.32 244.3V259.3M2168.57 246.1V259.4M2169.82 245.2V256.1M2171.07 248.9V265.0M2172.32 249.2V259.3M2173.57 246.7V258.2M2174.82 242.9V264.2M2176.07 248.9V267.2M2177.32 251.6V262.0M2178.57 246.3V258.5M2179.82 245.0V255.3M2181.07 250.2V259.7M2182.32 240.7V258.7M2183.57 239.6V259.2M2184.82 237.4V252.7M2186.07 247.4V258.7M2187.32 251.4V258.7M2188.57 249.4V260.8M2189.82 245.8V266.7M2191.07 249.3V267.2M2192.32 252.5V262.4M2193.57 252.1V265.4M2194.82 249.9V259.6M2196.07 245.3V264.7M2197.32 247.5V256.1M2198.57 244.6V259.8M2199.82 243.8V254.0M2201.07 239.4V251.6M2202.32 243.7V253.7M2203.57 241.5V254.4M2204.82 248.7V256.2M2206.07 245.3V260.7M2207.32 245.8V256.6M2208.57 247.4V259.1M2209.82 244.8V257.7M2211.07 239.7V252.0M2212.32 248.0V254.3M2213.57 244.7V255.1M2214.82 234.5V245.1M2216.07 227.6V240.9M2217.32 230.7V241.6M2218.57 236.2V249.2M2219.82 239.6V247.2M2221.07 237.9V246.8M2222.32 240.2V248.1M2223.57 230.9V243.7M2224.82 232.8V251.2M2226.07 227.2V249.4M2227.32 233.8V241.4M2228.57 228.0V242.3M2229.82 227.3V240.4M2231.07 232.0V239.5M2232.32 230.4V242.2M2233.57 227.3V237.2M2234.82 223.0V235.1M2236.07 234.4V245.3M2237.32 221.0V241.9M2238.57 220.2V240.8M2239.82 220.5V233.6M2241.07 224.1V234.7M2242.32 224.9V242.2M2243.57 223.6V229.9M2244.82 214.2V238.1M2246.07 221.9V238.2M2247.32 225.1V242.4M2248.57 223.7V233.4M2249.82 221.2V232.1M2251.07 217.7V230.7M2252.32 222.4V230.8M2253.57 222.7V231.0M2254.82 223.0V241.3M2256.07 223.8V236.3M2257.32 223.8V231.3M2258.57 204.9V226.6M2259.82 212.0V225.4M2261.07 210.0V232.2M2262.32 214.0V227.2M2263.57 208.2V222.9M2264.82 203.5V213.3M2266.07 204.1V211.8M2267.32 194.1V210.7M2268.57 191.2V207.4M2269.82 195.6V206.1M2271.07 199.0V210.2M2272.32 192.2V205.6M2273.57 201.0V208.2M2274.82 189.8V203.1M2276.07 196.7V212.1M2277.32 194.6V209.5M2278.57 191.0V208.1M2279.82 198.9V211.1M2281.07 199.3V207.0M2282.32 195.8V209.5M2283.57 189.0V204.1M2284.82 189.2V203.1M2286.07 193.6V202.9M2287.32 197.5V207.7M2288.57 187.3V216.7M2289.82 189.7V201.4M2291.07 195.4V218.1M2292.32 200.4V218.5M2293.57 198.7V219.7M2294.82 209.7V220.1M2296.07 204.0V211.3M2297.32 181.9V210.0M2298.57 188.6V206.3M2299.82 184.5V203.2M2301.07 180.3V196.0M2302.32 179.2V199.1M2303.57 160.7V194.9M2304.82 168.6V183.3M2306.07 165.8V187.4M2307.32 159.0V186.3M2308.57 177.7V194.3M2309.82 187.1V204.6M2311.07 182.9V197.2M2312.32 184.5V214.3M2313.57 184.8V199.6M2314.82 177.0V193.8M2316.07 179.0V190.1M2317.32 170.1V186.8M2318.57 159.3V190.0M2319.82 170.4V188.6M2321.07 165.0V182.1M2322.32 141.3V166.2M2323.57 137.3V158.4M2324.82 129.4V158.2M2326.07 130.1V149.5M2327.32 127.7V148.8M2328.57 134.3V154.6M2329.82 121.9V166.8M2331.07 149.1V169.1M2332.32 158.5V164.7M2333.57 157.8V178.2M2334.82 146.7V176.1M2336.07 151.0V170.1M2337.32 164.5V180.4M2338.57 143.7V167.1M2339.82 150.6V161.1M2341.07 148.7V155.9M2342.32 129.6V149.2M2343.57 121.3V147.8M2344.82 134.8V153.7M2346.07 138.1V149.9M2347.32 128.4V147.0M2348.57 121.3V151.1M2349.82 150.4V166.9M2351.07 146.8V163.0M2352.32 143.1V150.9M2353.57 122.7V155.6M2354.82 109.2V132.4M2356.07 114.4V132.5M2357.32 114.6V129.6M2358.57 109.6V129.6M2359.82 118.3V135.8M2361.07 127.2V137.5M2362.32 125.7V150.2M2363.57 133.2V149.2M2364.82 126.3V157.5M2366.07 125.1V150.5M2367.32 117.1V135.0M2368.57 123.3V143.5M2369.82 111.7V129.2M2371.07 129.2V157.7M2372.32 138.4V162.9M2373.57 131.9V154.6M2374.82 139.6V159.5M2376.07 126.4V143.7M2377.32 134.8V144.6M2378.57 113.9V139.5M2379.82 128.1V146.0M2381.07 128.5V145.6M2382.32 124.3V147.2M2383.57 139.5V151.0M2384.82 151.0V172.0M2386.07 153.5V171.1M2387.32 145.2V164.8M2388.57 148.5V171.5M2389.82 143.9V159.8M2391.07 134.0V151.4M2392.32 145.9V166.9M2393.57 123.5V166.6M2394.82 152.1V163.6M2396.07 138.6V158.4M2397.32 140.7V166.8M2398.57 141.8V158.8M2399.82 142.0V157.3M2401.07 136.3V152.1M2402.32 141.6V155.1M2403.57 120.7V151.0M2404.82 122.7V139.9M2406.07 119.1V152.8M2407.32 122.5V144.2M2408.57 96.7V138.2M2409.82 112.5V137.9M2411.07 113.0V128.3M2412.32 99.1V132.0M2413.57 93.7V121.9M2414.82 89.5V116.0M2416.07 95.7V111.6M2417.32 94.6V121.6M2418.57 105.9V118.6M2419.82 84.0V105.9M2421.07 81.6V109.2M2422.32 82.3V102.8M2423.57 72.3V103.3M2424.82 93.4V106.9M2426.07 83.5V112.8M2427.32 90.6V115.5M2428.57 99.2V116.3M2429.82 98.8V114.3M2431.07 94.2V108.0M2432.32 98.2V131.6M2433.57 125.4V144.6M2434.82 121.1V141.3M2436.07 120.3V144.7M2437.32 105.1V135.7M2438.57 92.3V133.0M2439.82 106.7V125.9M2441.07 108.6V132.5M2442.32 100.2V126.9M2443.57 92.1V111.8M2444.82 94.9V121.6M2446.07 87.2V105.2M2447.32 84.6V102.9M2448.57 73.0V109.5M2449.82 92.1V101.6M2451.07 89.3V112.3M2452.32 96.0V123.7M2453.57 106.4V124.4M2454.82 116.5V133.4M2456.07 114.1V137.2M2457.32 126.2V152.2M2458.57 123.1V139.7M2459.82 130.4V138.6M2461.07 115.2V142.4M2462.32 120.0V131.1M2463.57 120.5V137.6M2464.82 104.0V125.0M2466.07 110.5V121.7M2467.32 92.7V115.8M2468.57 92.1V120.2M2469.82 104.1V124.1M2471.07 80.2V117.5M2472.32 100.1V123.7M2473.57 90.3V108.4M2474.82 90.1V143.3M2476.07 124.2V148.5M2477.32 123.5V154.1M2478.57 135.3V149.3M2479.82 132.9V147.6M2481.07 139.8V176.9"/>
<path class="ti" d="M1840.2 290.6 V281.6M1981.5 290.6 V281.6M2123.9 290.6 V281.6M2265.2 290.6 V281.6M2407.7 290.6 V281.6M1838.0 64.3 H1855.5M1838.0 122.8 H1855.5M1838.0 181.2 H1855.5M1838.0 239.6 H1855.5M1838.0 76.0 H1846.5M1838.0 87.7 H1846.5M1838.0 99.4 H1846.5M1838.0 111.1 H1846.5M1838.0 134.4 H1846.5M1838.0 146.1 H1846.5M1838.0 157.8 H1846.5M1838.0 169.5 H1846.5M1838.0 192.8 H1846.5M1838.0 204.5 H1846.5M1838.0 216.2 H1846.5M1838.0 227.9 H1846.5M1838.0 251.2 H1846.5M1838.0 262.9 H1846.5M1838.0 274.6 H1846.5M1838.0 286.3 H1846.5"/>
<rect class="fr" x="1838.0" y="54.5" width="643.4" height="236.1"/>
<text class="tk" text-anchor="middle" x="1838.0" y="309.0">13h15</text>
<text class="tk" text-anchor="middle" x="1980.8" y="309.0">13h30</text>
<text class="tk" text-anchor="middle" x="2122.2" y="309.0">13h45</text>
<text class="tk" text-anchor="middle" x="2264.9" y="309.0">14h00</text>
<text class="tk" text-anchor="middle" x="2406.2" y="309.0">14h15</text>
<text class="tk" text-anchor="end" x="1832.0" y="71.0">0.775</text>
<text class="tk" text-anchor="end" x="1832.0" y="129.5">0.774</text>
<text class="tk" text-anchor="end" x="1832.0" y="187.8">0.773</text>
<text class="tk" text-anchor="end" x="1832.0" y="246.2">0.772</text>
<text class="bt" x="1834.2" y="353.3">1452950102.0000 Jan20 2026 13:14:44 UTC</text>
</g>
<g>
<text class="tt" style="font-size:28.80px" x="3007.6" y="37.6">EQB1_HD_PD2_DC_mean__TIME</text>
<text class="un" transform="translate(2583.2 54.2) rotate(-90)">V</text>
<path class="gr" d="M2688.7 290.6 V54.5M2829.9 290.6 V54.5M2972.4 290.6 V54.5M3113.7 290.6 V54.5M3256.1 290.6 V54.5M2686.4 107.8 H3329.8M2686.4 165.8 H3329.8M2686.4 223.7 H3329.8M2686.4 281.6 H3329.8"/>
<path class="cv" d="M2687.03 105.0V119.3M2688.28 98.1V119.5M2689.53 111.4V120.4M2690.78 108.3V127.2M2692.03 114.9V123.2M2693.28 110.3V125.2M2694.53 102.0V126.5M2695.78 106.2V122.6M2697.03 106.0V121.5M2698.28 114.7V125.3M2699.53 110.1V120.4M2700.78 109.8V116.3M2702.03 98.7V114.2M2703.28 107.4V115.5M2704.53 107.5V132.0M2705.78 115.1V129.4M2707.03 110.9V120.1M2708.28 111.2V126.8M2709.53 106.1V120.0M2710.78 108.6V124.7M2712.03 109.6V127.5M2713.28 102.3V117.7M2714.53 102.2V108.9M2715.78 102.0V115.7M2717.03 103.8V121.1M2718.28 97.9V107.6M2719.53 102.9V129.4M2720.78 107.6V125.8M2722.03 105.5V116.0M2723.28 98.1V115.8M2724.53 115.5V124.9M2725.78 109.6V117.3M2727.03 108.1V121.4M2728.28 107.6V123.0M2729.53 112.0V126.1M2730.78 121.2V131.1M2732.03 115.4V137.1M2733.28 100.6V119.2M2734.53 105.7V121.8M2735.78 106.5V122.1M2737.03 108.9V117.7M2738.28 112.9V124.5M2739.53 122.6V137.7M2740.78 113.1V129.4M2742.03 100.8V115.1M2743.28 101.3V115.7M2744.53 105.2V118.6M2745.78 112.8V122.7M2747.03 111.3V124.1M2748.28 113.6V130.7M2749.53 116.2V126.9M2750.78 118.8V130.3M2752.03 105.8V125.1M2753.28 108.2V124.4M2754.53 111.3V124.2M2755.78 104.4V127.7M2757.03 114.0V126.0M2758.28 107.9V119.8M2759.53 112.3V121.1M2760.78 108.2V116.7M2762.03 100.4V114.7M2763.28 106.2V117.8M2764.53 106.8V122.0M2765.78 100.5V116.8M2767.03 105.7V116.5M2768.28 104.1V120.5M2769.53 111.2V118.4M2770.78 118.1V133.9M2772.03 114.5V126.4M2773.28 111.6V117.2M2774.53 108.2V120.9M2775.78 100.7V116.4M2777.03 102.9V115.7M2778.28 106.1V120.3M2779.53 97.0V116.5M2780.78 95.8V118.6M2782.03 102.7V114.1M2783.28 108.7V119.9M2784.53 99.9V117.8M2785.78 102.5V122.0M2787.03 110.6V121.3M2788.28 90.3V111.9M2789.53 107.5V117.6M2790.78 107.2V118.6M2792.03 104.5V115.5M2793.28 101.9V113.9M2794.53 92.1V112.7M2795.78 98.3V109.4M2797.03 106.6V116.9M2798.28 107.9V121.5M2799.53 106.4V118.2M2800.78 111.9V127.4M2802.03 112.1V127.0M2803.28 113.1V129.0M2804.53 105.4V115.3M2805.78 100.8V111.3M2807.03 98.3V111.7M2808.28 98.1V109.3M2809.53 97.1V109.1M2810.78 93.4V107.3M2812.03 98.1V116.6M2813.28 103.8V108.9M2814.53 90.9V107.4M2815.78 86.3V103.6M2817.03 99.3V111.6M2818.28 99.3V114.4M2819.53 91.4V108.2M2820.78 101.1V116.5M2822.03 92.9V112.2M2823.28 96.9V111.7M2824.53 105.4V111.9M2825.78 102.6V116.8M2827.03 107.2V125.2M2828.28 116.4V124.9M2829.53 117.5V122.8M2830.78 112.9V118.9M2832.03 113.1V125.5M2833.28 111.7V122.6M2834.53 110.5V117.1M2835.78 105.2V125.8M2837.03 113.6V129.8M2838.28 109.1V118.1M2839.53 106.8V115.0M2840.78 102.6V120.0M2842.03 90.5V108.3M2843.28 101.9V109.7M2844.53 100.4V127.4M2845.78 99.4V112.1M2847.03 101.4V111.6M2848.28 109.4V119.3M2849.53 102.9V119.5M2850.78 93.3V117.4M2852.03 106.7V119.4M2853.28 102.8V121.3M2854.53 111.2V128.3M2855.78 118.3V127.8M2857.03 113.5V128.1M2858.28 110.6V125.5M2859.53 109.0V121.6M2860.78 112.0V121.3M2862.03 110.3V129.3M2863.28 113.1V124.3M2864.53 107.3V123.6M2865.78 107.8V117.3M2867.03 110.6V121.5M2868.28 104.3V124.8M2869.53 122.1V137.9M2870.78 122.7V135.2M2872.03 120.2V137.3M2873.28 115.3V126.8M2874.53 106.1V119.5M2875.78 107.4V123.4M2877.03 105.3V117.3M2878.28 111.0V123.0M2879.53 99.5V122.2M2880.78 106.5V120.3M2882.03 99.5V120.1M2883.28 107.4V121.9M2884.53 111.2V132.6M2885.78 115.5V126.6M2887.03 107.5V118.2M2888.28 109.4V130.1M2889.53 109.3V122.9M2890.78 108.3V115.5M2892.03 107.6V122.7M2893.28 103.2V116.9M2894.53 108.1V117.4M2895.78 106.9V119.3M2897.03 104.3V118.7M2898.28 105.0V114.5M2899.53 102.2V115.4M2900.78 96.0V116.5M2902.03 95.6V103.3M2903.28 96.0V107.8M2904.53 96.0V109.3M2905.78 92.9V103.4M2907.03 88.2V108.5M2908.28 98.7V107.1M2909.53 103.2V108.9M2910.78 95.3V105.7M2912.03 93.1V112.8M2913.28 90.4V100.2M2914.53 89.2V102.7M2915.78 91.7V107.5M2917.03 87.7V99.9M2918.28 88.3V101.2M2919.53 92.2V106.4M2920.78 85.9V99.8M2922.03 91.1V108.3M2923.28 97.2V108.6M2924.53 92.6V109.7M2925.78 79.3V99.8M2927.03 80.2V98.5M2928.28 92.8V100.3M2929.53 89.3V112.3M2930.78 95.5V106.5M2932.03 92.4V105.1M2933.28 87.3V100.1M2934.53 87.5V93.9M2935.78 85.1V99.0M2937.03 87.0V98.3M2938.28 88.6V97.1M2939.53 90.4V102.7M2940.78 94.6V103.6M2942.03 90.0V100.8M2943.28 80.0V103.9M2944.53 93.6V97.5M2945.78 89.5V105.5M2947.03 92.9V100.5M2948.28 88.9V98.1M2949.53 84.1V95.9M2950.78 75.1V98.9M2952.03 83.6V92.2M2953.28 84.9V91.8M2954.53 75.6V92.3M2955.78 90.6V98.3M2957.03 87.3V103.1M2958.28 77.0V99.7M2959.53 82.1V98.9M2960.78 86.8V96.1M2962.03 82.6V100.4M2963.28 93.4V100.0M2964.53 95.2V102.3M2965.78 93.6V100.7M2967.03 94.8V107.3M2968.28 90.3V95.0M2969.53 92.5V98.7M2970.78 78.9V104.8M2972.03 91.2V108.0M2973.28 93.2V105.1M2974.53 92.8V101.2M2975.78 94.2V106.6M2977.03 92.8V101.8M2978.28 92.2V109.5M2979.53 90.4V110.3M2980.78 97.1V112.6M2982.03 96.7V108.6M2983.28 96.5V110.6M2984.53 97.8V109.5M2985.78 94.9V107.9M2987.03 94.1V100.3M2988.28 85.8V96.1M2989.53 88.3V99.5M2990.78 81.9V93.4M2992.03 83.1V96.0M2993.28 88.2V96.4M2994.53 81.1V101.3M2995.78 83.7V98.1M2997.03 81.9V100.4M2998.28 79.7V92.8M2999.53 81.2V91.0M3000.78 74.3V88.4M3002.03 66.1V90.7M3003.28 82.2V98.1M3004.53 80.4V103.5M3005.78 81.5V89.6M3007.03 80.7V92.2M3008.28 83.6V96.7M3009.53 88.5V106.5M3010.78 89.4V106.8M3012.03 91.7V111.3M3013.28 90.0V110.2M3014.53 92.1V103.1M3015.78 97.7V104.3M3017.03 84.7V103.3M3018.28 91.3V104.0M3019.53 87.9V99.0M3020.78 90.2V100.4M3022.03 77.7V100.1M3023.28 83.4V104.6M3024.53 84.4V102.5M3025.78 85.3V100.2M3027.03 90.9V99.9M3028.28 87.5V109.3M3029.53 95.4V107.4M3030.78 84.2V98.9M3032.03 80.7V93.1M3033.28 83.7V100.9M3034.53 85.4V101.7M3035.78 88.1V96.7M3037.03 81.2V94.1M3038.28 67.7V92.2M3039.53 81.4V94.7M3040.78 77.6V90.4M3042.03 83.6V95.9M3043.28 80.3V88.9M3044.53 67.3V105.1M3045.78 83.6V100.9M3047.03 87.9V98.0M3048.28 90.7V105.2M3049.53 86.7V109.0M3050.78 83.4V94.0M3052.03 81.9V96.2M3053.28 83.1V90.7M3054.53 84.2V103.7M3055.78 90.2V95.4M3057.03 88.3V94.7M3058.28 89.8V99.1M3059.53 82.8V109.7M3060.78 91.5V104.4M3062.03 91.8V98.9M3063.28 85.5V99.7M3064.53 90.2V107.2M3065.78 96.7V105.5M3067.03 94.1V103.7M3068.28 91.7V111.7M3069.53 90.7V111.0M3070.78 96.7V107.0M3072.03 100.4V105.9M3073.28 100.9V109.7M3074.53 101.9V120.5M3075.78 97.2V108.1M3077.03 98.9V108.1M3078.28 106.4V125.9M3079.53 104.1V117.0M3080.78 105.0V119.7M3082.03 98.1V114.9M3083.28 102.2V118.4M3084.53 105.3V116.3M3085.78 94.6V114.5M3087.03 99.6V113.9M3088.28 109.1V123.3M3089.53 109.5V118.0M3090.78 111.7V127.4M3092.03 107.1V122.6M3093.28 114.3V123.7M3094.53 119.2V130.5M3095.78 112.4V126.1M3097.03 114.3V130.7M3098.28 119.4V126.8M3099.53 118.9V131.6M3100.78 115.6V131.1M3102.03 117.1V127.5M3103.28 116.7V123.6M3104.53 114.2V120.0M3105.78 104.5V125.8M3107.03 96.5V122.6M3108.28 111.8V121.2M3109.53 117.1V128.9M3110.78 126.5V136.2M3112.03 118.4V131.8M3113.28 121.3V136.6M3114.53 124.3V152.2M3115.78 129.0V143.7M3117.03 123.8V139.3M3118.28 127.6V137.6M3119.53 127.8V141.5M3120.78 126.8V141.2M3122.03 134.7V149.9M3123.28 134.7V147.1M3124.53 130.0V148.2M3125.78 132.7V148.2M3127.03 139.6V148.9M3128.28 131.4V147.2M3129.53 131.6V147.6M3130.78 147.3V160.5M3132.03 139.9V152.3M3133.28 140.5V151.4M3134.53 137.7V152.2M3135.78 141.4V161.1M3137.03 131.7V151.4M3138.28 133.5V141.4M3139.53 128.5V142.9M3140.78 132.3V140.4M3142.03 118.7V138.9M3143.28 138.9V145.0M3144.53 126.2V143.3M3145.78 136.0V149.1M3147.03 119.0V150.5M3148.28 123.1V167.7M3149.53 154.9V166.2M3150.78 148.3V158.0M3152.03 144.9V174.9M3153.28 138.0V169.4M3154.53 137.2V163.4M3155.78 143.5V163.8M3157.03 141.3V158.5M3158.28 148.2V159.9M3159.53 132.2V157.8M3160.78 121.3V152.8M3162.03 130.9V145.2M3163.28 142.7V155.6M3164.53 145.6V158.4M3165.78 145.9V175.0M3167.03 142.3V165.4M3168.28 155.8V181.4M3169.53 164.5V191.6M3170.78 172.2V185.5M3172.03 167.5V191.4M3173.28 163.9V199.6M3174.53 193.4V206.4M3175.78 178.1V214.3M3177.03 177.8V209.3M3178.28 183.8V199.6M3179.53 171.4V199.2M3180.78 165.9V187.3M3182.03 167.1V179.1M3183.28 158.4V183.3M3184.53 158.3V175.6M3185.78 152.3V188.7M3187.03 161.4V195.8M3188.28 166.5V183.7M3189.53 173.3V188.8M3190.78 177.6V203.5M3192.03 184.8V204.5M3193.28 175.4V198.4M3194.53 181.5V208.8M3195.78 179.0V199.8M3197.03 179.2V201.7M3198.28 182.6V201.9M3199.53 173.5V196.7M3200.78 176.8V190.4M3202.03 185.4V208.1M3203.28 207.8V229.2M3204.53 206.9V222.8M3205.78 209.5V243.5M3207.03 209.9V227.8M3208.28 197.5V237.6M3209.53 202.7V228.5M3210.78 189.9V215.6M3212.03 197.3V218.6M3213.28 191.4V211.4M3214.53 191.9V226.9M3215.78 185.8V203.3M3217.03 174.2V203.2M3218.28 189.4V209.3M3219.53 193.8V205.6M3220.78 197.7V217.3M3222.03 194.8V209.5M3223.28 186.3V212.0M3224.53 185.4V197.1M3225.78 185.0V197.9M3227.03 185.5V210.5M3228.28 195.7V215.7M3229.53 209.6V223.0M3230.78 193.9V212.2M3232.03 163.2V201.7M3233.28 171.4V189.8M3234.53 182.1V187.8M3235.78 187.8V197.7M3237.03 166.6V199.6M3238.28 167.6V188.2M3239.53 180.3V192.2M3240.78 181.0V193.3M3242.03 175.6V203.9M3243.28 183.5V203.9M3244.53 180.0V207.2M3245.78 188.9V207.9M3247.03 178.3V203.7M3248.28 192.9V217.1M3249.53 188.6V204.0M3250.78 185.7V196.6M3252.03 195.0V230.5M3253.28 170.4V207.3M3254.53 186.3V210.4M3255.78 165.7V209.5M3257.03 192.8V206.5M3258.28 187.6V231.1M3259.53 220.4V230.0M3260.78 222.0V251.1M3262.03 221.9V240.8M3263.28 210.8V235.7M3264.53 216.4V239.7M3265.78 221.8V241.3M3267.03 212.1V239.5M3268.28 201.4V231.7M3269.53 219.4V234.2M3270.78 223.5V239.3M3272.03 226.5V257.7M3273.28 219.8V251.0M3274.53 230.8V247.3M3275.78 234.0V264.6M3277.03 230.4V262.8M3278.28 237.6V263.7M3279.53 205.1V240.7M3280.78 212.9V238.8M3282.03 209.4V230.1M3283.28 173.4V215.7M3284.53 208.6V243.2M3285.78 199.8V216.0M3287.03 183.8V204.3M3288.28 199.0V221.7M3289.53 200.7V232.3M3290.78 209.7V231.9M3292.03 226.7V252.7M3293.28 240.0V248.7M3294.53 241.6V258.5M3295.78 240.9V253.0M3297.03 224.7V258.9M3298.28 209.3V247.8M3299.53 211.9V232.3M3300.78 217.5V244.0M3302.03 212.5V236.7M3303.28 203.7V240.4M3304.53 203.8V222.1M3305.78 192.3V216.4M3307.03 184.5V193.7M3308.28 185.7V197.8M3309.53 175.9V200.2M3310.78 196.4V218.2M3312.03 196.9V215.1M3313.28 203.8V240.9M3314.53 219.0V256.9M3315.78 218.7V228.8M3317.03 208.0V225.3M3318.28 225.3V246.7M3319.53 234.6V267.4M3320.78 226.3V269.8M3322.03 219.6V247.2M3323.28 208.2V224.8M3324.53 168.1V223.4M3325.78 193.2V219.1M3327.03 194.6V222.5M3328.28 195.4V216.0M3329.53 197.3V207.1"/>
<path class="ti" d="M2688.7 290.6 V281.6M2829.9 290.6 V281.6M2972.4 290.6 V281.6M3113.7 290.6 V281.6M3256.1 290.6 V281.6M2686.4 107.8 H2703.9M2686.4 165.8 H2703.9M2686.4 223.7 H2703.9M2686.4 281.6 H2703.9M2686.4 61.5 H2694.9M2686.4 73.1 H2694.9M2686.4 84.7 H2694.9M2686.4 96.3 H2694.9M2686.4 119.4 H2694.9M2686.4 131.0 H2694.9M2686.4 142.6 H2694.9M2686.4 154.2 H2694.9M2686.4 177.3 H2694.9M2686.4 188.9 H2694.9M2686.4 200.5 H2694.9M2686.4 212.1 H2694.9M2686.4 235.2 H2694.9M2686.4 246.8 H2694.9M2686.4 258.4 H2694.9M2686.4 270.0 H2694.9"/>
<rect class="fr" x="2686.4" y="54.5" width="643.4" height="236.1"/>
<text class="tk" text-anchor="middle" x="2686.5" y="309.0">13h15</text>
<text class="tk" text-anchor="middle" x="2829.2" y="309.0">13h30</text>
<text class="tk" text-anchor="middle" x="2970.7" y="309.0">13h45</text>
<text class="tk" text-anchor="middle" x="3113.4" y="309.0">14h00</text>
<text class="tk" text-anchor="middle" x="3254.6" y="309.0">14h15</text>
<text class="tk" text-anchor="end" x="2680.4" y="114.5">-0.775</text>
<text class="tk" text-anchor="end" x="2680.4" y="172.4">-0.776</text>
<text class="tk" text-anchor="end" x="2680.4" y="230.3">-0.777</text>
<text class="tk" text-anchor="end" x="2680.4" y="288.2">-0.778</text>
<text class="bt" x="2682.7" y="353.3">1452950102.0000 Jan20 2026 13:14:44 UTC</text>
</g>
<g>
<text class="tt" style="font-size:28.80px" x="460.4" y="405.1">SQZ_MachZ_PD_DC_mean__TIME</text>
<text class="un" transform="translate(36.3 421.7) rotate(-90)">V</text>
<path class="gr" d="M141.8 658.1 V422.0M283.0 658.1 V422.0M425.5 658.1 V422.0M566.8 658.1 V422.0M709.2 658.1 V422.0M139.5 480.7 H782.9M139.5 572.3 H782.9"/>
<path class="cv" d="M140.12 545.9V580.6M141.38 556.3V578.6M142.62 566.5V610.8M143.88 573.9V594.3M145.12 563.7V596.7M146.38 546.3V575.9M147.62 533.3V599.8M148.88 565.4V605.2M150.12 577.4V610.7M151.38 565.6V605.4M152.62 550.6V604.7M153.88 539.8V585.4M155.12 541.0V592.2M156.38 547.1V575.7M157.62 526.8V563.6M158.88 539.5V584.9M160.12 529.3V581.3M161.38 552.5V575.8M162.62 510.7V562.2M163.88 524.8V563.1M165.12 534.9V556.4M166.38 505.6V555.0M167.62 489.5V522.7M168.88 494.4V541.1M170.12 494.0V539.5M171.38 499.2V541.5M172.62 509.8V565.8M173.88 509.0V563.5M175.12 511.6V555.0M176.38 505.9V554.8M177.62 545.9V586.0M178.88 532.4V557.8M180.12 517.6V570.1M181.38 518.3V573.5M182.62 509.8V560.8M183.88 522.6V588.6M185.12 520.9V575.8M186.38 530.4V569.1M187.62 543.2V585.9M188.88 539.0V561.0M190.12 521.6V590.6M191.38 521.3V556.7M192.62 512.6V554.3M193.88 504.9V560.0M195.12 495.2V525.9M196.38 503.6V536.8M197.62 487.9V531.3M198.88 489.0V525.6M200.12 491.8V528.5M201.38 487.6V553.8M202.62 498.5V542.4M203.88 498.2V541.8M205.12 516.1V557.0M206.38 524.2V550.8M207.62 506.5V547.4M208.88 507.3V536.6M210.12 509.3V538.5M211.38 519.7V564.3M212.62 534.0V591.7M213.88 537.7V579.2M215.12 532.4V568.8M216.38 509.3V551.7M217.62 521.7V555.1M218.88 527.5V556.5M220.12 519.8V558.4M221.38 507.5V550.5M222.62 548.2V585.4M223.88 551.3V581.5M225.12 515.4V572.2M226.38 521.1V576.0M227.62 537.5V567.3M228.88 524.2V572.8M230.12 507.4V552.0M231.38 535.7V576.1M232.62 514.6V551.1M233.88 499.3V539.5M235.12 518.4V544.4M236.38 522.4V597.0M237.62 483.7V595.1M238.88 493.4V537.2M240.12 506.1V554.8M241.38 486.0V549.4M242.62 490.4V521.2M243.88 485.4V507.7M245.12 485.4V512.8M246.38 488.0V516.0M247.62 486.2V524.3M248.88 485.1V518.6M250.12 449.9V485.1M251.38 469.8V511.6M252.62 481.3V530.7M253.88 447.3V505.8M255.12 462.5V513.4M256.38 479.7V526.5M257.62 472.9V530.5M258.88 490.8V547.2M260.12 485.1V561.8M261.38 474.9V498.0M262.62 489.2V541.5M263.88 510.1V564.1M265.12 536.8V566.3M266.38 510.7V541.4M267.62 502.0V551.6M268.88 528.9V551.7M270.12 531.2V592.5M271.38 526.6V556.7M272.62 520.0V554.4M273.88 487.8V560.2M275.12 497.4V558.4M276.38 499.7V546.2M277.62 490.9V536.9M278.88 511.7V556.6M280.12 524.9V562.1M281.38 521.8V564.3M282.62 530.9V549.8M283.88 534.1V553.5M285.12 518.6V571.0M286.38 515.4V583.1M287.62 521.0V562.7M288.88 544.6V574.4M290.12 533.4V571.6M291.38 555.4V593.8M292.62 553.8V596.4M293.88 537.5V623.1M295.12 528.2V598.2M296.38 541.7V576.9M297.62 550.8V586.2M298.88 562.1V589.2M300.12 550.0V575.2M301.38 547.1V581.0M302.62 533.6V570.7M303.88 529.7V572.7M305.12 518.8V561.6M306.38 538.0V572.4M307.62 546.5V564.1M308.88 537.7V570.2M310.12 500.0V565.6M311.38 521.3V573.8M312.62 507.9V559.6M313.88 520.1V578.6M315.12 518.8V572.0M316.38 518.2V545.1M317.62 493.8V526.6M318.88 526.2V554.4M320.12 519.6V568.5M321.38 522.4V577.2M322.62 512.9V568.6M323.88 511.9V555.1M325.12 523.8V551.1M326.38 542.6V577.9M327.62 530.7V572.3M328.88 565.3V611.0M330.12 572.0V599.5M331.38 576.2V613.6M332.62 563.4V607.7M333.88 584.1V619.7M335.12 565.6V620.6M336.38 581.5V614.6M337.62 586.3V617.6M338.88 587.6V645.9M340.12 569.7V618.3M341.38 579.6V626.1M342.62 570.6V615.3M343.88 576.8V620.9M345.12 566.9V608.6M346.38 556.7V605.8M347.62 550.9V605.1M348.88 575.1V593.1M350.12 545.5V587.1M351.38 533.6V568.6M352.62 548.3V587.2M353.88 548.6V578.3M355.12 539.7V561.3M356.38 551.9V578.3M357.62 548.6V568.3M358.88 548.7V576.9M360.12 556.5V579.5M361.38 538.1V571.0M362.62 549.0V576.9M363.88 491.2V568.6M365.12 555.9V587.6M366.38 526.9V565.3M367.62 529.2V550.8M368.88 529.9V564.4M370.12 557.0V584.9M371.38 533.0V577.8M372.62 553.5V595.1M373.88 524.7V602.0M375.12 520.6V562.7M376.38 547.5V594.2M377.62 550.9V590.8M378.88 513.3V570.3M380.12 531.0V554.3M381.38 533.9V583.8M382.62 533.8V566.1M383.88 536.2V574.0M385.12 536.1V582.2M386.38 518.4V550.8M387.62 516.1V560.1M388.88 527.7V576.0M390.12 519.2V570.9M391.38 522.1V577.7M392.62 492.9V562.0M393.88 544.3V589.3M395.12 552.2V594.4M396.38 532.6V563.5M397.62 505.3V561.5M398.88 526.2V578.4M400.12 546.9V607.4M401.38 530.8V556.3M402.62 533.1V589.2M403.88 536.9V581.7M405.12 537.7V577.3M406.38 531.0V571.4M407.62 537.2V582.8M408.88 526.6V571.9M410.12 546.1V575.8M411.38 523.2V564.9M412.62 524.6V566.0M413.88 495.8V539.1M415.12 527.5V581.1M416.38 537.6V575.9M417.62 554.2V584.8M418.88 533.3V568.9M420.12 539.4V582.7M421.38 544.7V571.0M422.62 540.7V567.9M423.88 521.7V577.4M425.12 532.5V548.6M426.38 512.9V557.7M427.62 526.9V565.7M428.88 523.1V567.1M430.12 504.6V550.5M431.38 526.7V562.8M432.62 549.8V593.2M433.88 507.7V549.8M435.12 528.0V554.3M436.38 507.8V583.1M437.62 529.7V564.9M438.88 526.2V565.9M440.12 506.4V546.4M441.38 521.9V550.6M442.62 526.9V545.7M443.88 526.2V559.0M445.12 502.4V535.0M446.38 470.7V523.0M447.62 497.5V535.6M448.88 493.5V548.5M450.12 498.3V546.8M451.38 501.7V529.8M452.62 511.5V550.7M453.88 514.8V541.3M455.12 513.1V547.4M456.38 519.6V563.9M457.62 504.6V539.0M458.88 485.6V521.8M460.12 502.7V541.8M461.38 474.3V524.5M462.62 491.7V520.9M463.88 501.6V567.2M465.12 485.4V515.7M466.38 467.3V519.9M467.62 461.4V517.5M468.88 471.7V501.7M470.12 493.8V542.7M471.38 469.7V529.7M472.62 464.6V506.3M473.88 489.2V520.4M475.12 487.7V513.3M476.38 450.8V504.3M477.62 462.8V498.9M478.88 436.9V497.7M480.12 463.4V517.8M481.38 476.7V521.1M482.62 456.1V521.8M483.88 444.8V519.7M485.12 486.4V520.3M486.38 479.8V501.1M487.62 483.0V526.7M488.88 478.0V523.9M490.12 481.9V525.6M491.38 479.8V534.6M492.62 489.0V542.2M493.88 513.3V540.2M495.12 516.8V552.8M496.38 491.3V556.9M497.62 522.5V562.4M498.88 516.4V550.1M500.12 536.8V571.3M501.38 530.2V558.9M502.62 530.2V560.7M503.88 521.9V563.4M505.12 521.3V546.3M506.38 478.4V537.4M507.62 495.8V571.7M508.88 480.5V547.3M510.12 495.3V524.8M511.38 507.8V549.2M512.62 493.5V524.0M513.88 490.9V523.9M515.12 487.8V521.7M516.38 499.4V537.4M517.62 486.5V544.0M518.88 503.5V531.2M520.12 498.7V546.3M521.38 494.0V544.9M522.62 511.1V534.4M523.88 495.2V528.2M525.12 509.6V538.8M526.38 503.2V535.3M527.62 515.3V541.3M528.88 510.5V544.4M530.12 521.8V544.8M531.38 505.4V558.2M532.62 527.9V560.8M533.88 525.7V571.8M535.12 515.6V548.6M536.38 526.8V573.3M537.62 495.8V541.2M538.88 477.8V546.5M540.12 511.7V548.2M541.38 506.5V547.9M542.62 501.5V547.5M543.88 495.7V542.6M545.12 502.1V537.6M546.38 517.9V542.3M547.62 494.2V551.9M548.88 478.4V515.5M550.12 494.5V530.3M551.38 485.9V533.8M552.62 503.0V543.9M553.88 464.6V520.3M555.12 455.0V524.3M556.38 501.4V532.6M557.62 473.0V520.7M558.88 483.0V524.8M560.12 498.6V549.9M561.38 451.6V538.7M562.62 449.5V517.9M563.88 477.8V526.5M565.12 504.4V543.9M566.38 511.8V544.3M567.62 478.8V529.9M568.88 484.0V541.6M570.12 509.9V564.4M571.38 518.8V561.7M572.62 515.5V550.1M573.88 488.8V543.9M575.12 506.5V556.3M576.38 534.0V576.2M577.62 526.1V559.5M578.88 498.9V539.2M580.12 524.8V563.0M581.38 523.1V556.8M582.62 516.7V560.0M583.88 511.0V529.9M585.12 501.7V539.4M586.38 488.6V524.0M587.62 484.3V529.4M588.88 479.6V531.7M590.12 511.2V552.0M591.38 512.7V541.7M592.62 509.0V540.4M593.88 466.1V530.3M595.12 474.5V516.7M596.38 467.9V547.5M597.62 523.9V573.9M598.88 523.6V554.7M600.12 497.2V559.1M601.38 532.4V591.3M602.62 549.1V604.1M603.88 544.6V576.8M605.12 543.9V580.0M606.38 522.8V559.5M607.62 547.4V565.0M608.88 530.4V561.0M610.12 537.9V578.9M611.38 518.9V555.7M612.62 538.3V569.8M613.88 529.6V556.7M615.12 536.9V565.1M616.38 530.0V568.5M617.62 525.2V570.0M618.88 508.6V562.0M620.12 516.0V556.0M621.38 525.4V562.0M622.62 522.0V564.2M623.88 504.8V546.2M625.12 505.5V555.5M626.38 508.5V556.9M627.62 497.9V536.8M628.88 517.0V556.9M630.12 516.8V545.5M631.38 518.2V544.7M632.62 477.1V537.5M633.88 518.4V569.7M635.12 479.7V520.3M636.38 483.6V530.1M637.62 507.0V539.0M638.88 476.3V523.0M640.12 484.7V508.5M641.38 462.9V551.6M642.62 503.8V548.8M643.88 489.7V517.8M645.12 467.6V512.1M646.38 484.5V533.9M647.62 471.1V536.7M648.88 479.5V526.3M650.12 493.1V544.9M651.38 491.8V545.1M652.62 495.4V574.2M653.88 516.5V572.0M655.12 525.0V555.5M656.38 517.5V561.1M657.62 537.4V574.9M658.88 517.0V568.6M660.12 525.4V562.8M661.38 501.1V555.1M662.62 502.8V551.4M663.88 524.4V576.8M665.12 520.2V556.2M666.38 516.9V563.8M667.62 519.9V558.2M668.88 508.2V546.3M670.12 523.6V556.9M671.38 539.5V558.6M672.62 526.4V561.7M673.88 513.8V545.0M675.12 537.4V573.0M676.38 516.0V578.7M677.62 488.9V537.5M678.88 520.4V546.1M680.12 526.5V560.7M681.38 517.5V554.6M682.62 534.1V554.3M683.88 520.5V565.6M685.12 524.0V564.6M686.38 527.1V570.9M687.62 509.8V571.9M688.88 522.4V584.9M690.12 528.7V578.5M691.38 550.3V571.2M692.62 557.2V578.9M693.88 527.8V573.8M695.12 521.0V550.2M696.38 521.8V556.2M697.62 534.5V554.3M698.88 535.0V577.6M700.12 527.3V588.5M701.38 503.2V540.7M702.62 522.4V585.8M703.88 536.7V593.5M705.12 550.3V591.9M706.38 548.1V591.5M707.62 518.4V565.4M708.88 525.9V574.2M710.12 518.7V550.6M711.38 534.3V563.3M712.62 500.7V539.7M713.88 508.9V532.0M715.12 502.9V544.0M716.38 490.4V525.0M717.62 470.0V520.3M718.88 459.1V515.2M720.12 493.8V538.9M721.38 505.7V544.3M722.62 476.5V533.5M723.88 487.8V525.6M725.12 499.6V534.1M726.38 488.1V546.3M727.62 506.7V570.4M728.88 491.1V537.2M730.12 486.5V540.1M731.38 513.7V541.0M732.62 516.6V548.6M733.88 476.9V544.2M735.12 511.4V539.7M736.38 504.8V561.6M737.62 502.3V531.3M738.88 494.6V535.7M740.12 475.3V520.9M741.38 498.8V532.3M742.62 515.5V542.0M743.88 506.8V563.1M745.12 494.2V551.5M746.38 499.6V543.4M747.62 507.8V555.6M748.88 517.2V574.9M750.12 535.2V553.0M751.38 540.7V552.8M752.62 531.5V553.1M753.88 530.2V560.2M755.12 520.6V582.6M756.38 533.0V569.0M757.62 517.9V576.9M758.88 553.3V573.1M760.12 519.6V574.1M761.38 524.5V565.7M762.62 545.5V579.3M763.88 492.0V558.5M765.12 495.3V551.4M766.38 501.3V545.2M767.62 529.9V566.5M768.88 521.5V572.1M770.12 525.0V571.5M771.38 517.2V562.5M772.62 522.8V550.1M773.88 521.1V561.6M775.12 536.8V576.8M776.38 532.6V569.6M777.62 527.4V572.2M778.88 510.2V565.4M780.12 530.7V550.2M781.38 526.5V553.0M782.62 510.6V568.2"/>
<path class="ti" d="M141.8 658.1 V649.1M283.0 658.1 V649.1M425.5 658.1 V649.1M566.8 658.1 V649.1M709.2 658.1 V649.1M139.5 480.7 H157.0M139.5 572.3 H157.0M139.5 425.6 H148.0M139.5 444.0 H148.0M139.5 462.3 H148.0M139.5 499.0 H148.0M139.5 517.3 H148.0M139.5 535.7 H148.0M139.5 554.0 H148.0M139.5 590.7 H148.0M139.5 609.0 H148.0M139.5 627.4 H148.0M139.5 645.7 H148.0"/>
<rect class="fr" x="139.5" y="422.0" width="643.4" height="236.1"/>
<text class="tk" text-anchor="middle" x="139.6" y="676.5">13h15</text>
<text class="tk" text-anchor="middle" x="282.3" y="676.5">13h30</text>
<text class="tk" text-anchor="middle" x="423.8" y="676.5">13h45</text>
<text class="tk" text-anchor="middle" x="566.5" y="676.5">14h00</text>
<text class="tk" text-anchor="middle" x="707.7" y="676.5">14h15</text>
<text class="tk" text-anchor="end" x="133.5" y="487.4">1.3653</text>
<text class="tk" text-anchor="end" x="133.5" y="579.0">1.36525</text>
<text class="bt" x="135.8" y="720.8">1452950102.0000 Jan20 2026 13:14:44 UTC</text>
</g>
<g>
<text class="tt" style="font-size:28.80px" x="1308.7" y="405.1">SQZ_OPA_PD_DC_mean__TIME</text>
<text class="un" transform="translate(884.9 421.7) rotate(-90)">V</text>
<path class="gr" d="M990.4 658.1 V422.0M1131.6 658.1 V422.0M1274.1 658.1 V422.0M1415.4 658.1 V422.0M1557.8 658.1 V422.0M988.1 458.7 H1631.5M988.1 516.6 H1631.5M988.1 574.6 H1631.5M988.1 632.6 H1631.5"/>
<path class="cv" d="M988.73 493.6V534.1M989.98 489.1V535.3M991.23 450.7V494.5M992.48 477.1V517.2M993.73 491.7V522.4M994.98 492.4V515.4M996.23 465.3V510.0M997.48 477.7V515.6M998.73 487.5V531.7M999.98 510.7V547.5M1001.23 473.6V519.1M1002.48 462.6V523.5M1003.73 467.8V541.9M1004.98 495.4V515.7M1006.23 477.1V509.6M1007.48 509.6V540.9M1008.73 477.7V518.6M1009.98 475.2V510.0M1011.23 496.2V517.8M1012.48 492.9V529.7M1013.73 485.9V536.7M1014.98 499.4V534.4M1016.23 489.7V531.3M1017.48 481.3V515.2M1018.73 473.7V530.3M1019.98 461.9V519.8M1021.23 477.1V516.4M1022.48 511.0V531.8M1023.73 497.4V544.3M1024.97 495.8V541.0M1026.22 511.9V541.4M1027.47 473.4V534.0M1028.72 482.6V525.4M1029.97 499.6V528.5M1031.22 513.7V538.3M1032.47 510.4V538.6M1033.72 465.7V523.7M1034.97 468.0V510.1M1036.22 486.0V541.9M1037.47 493.9V522.6M1038.72 497.2V518.6M1039.97 465.7V521.8M1041.22 500.4V533.1M1042.47 496.1V521.0M1043.72 499.9V527.8M1044.97 472.9V504.9M1046.22 490.1V556.7M1047.47 497.0V548.3M1048.72 487.1V531.6M1049.97 485.4V531.9M1051.22 512.2V549.3M1052.47 509.8V546.1M1053.72 507.1V530.0M1054.97 507.2V538.1M1056.22 502.4V535.7M1057.47 495.1V521.6M1058.72 475.9V518.0M1059.97 472.7V499.9M1061.22 485.8V524.1M1062.47 477.4V528.1M1063.72 470.2V530.9M1064.97 471.6V525.4M1066.22 471.6V507.0M1067.47 502.7V532.7M1068.72 506.2V535.9M1069.97 510.5V552.5M1071.22 511.0V538.2M1072.47 500.9V523.9M1073.72 497.9V557.3M1074.97 492.1V535.9M1076.22 488.7V511.6M1077.47 452.8V502.3M1078.72 447.2V500.8M1079.97 499.2V524.5M1081.22 483.0V528.3M1082.47 482.3V520.0M1083.72 488.1V534.1M1084.97 500.1V524.2M1086.22 486.4V521.8M1087.47 497.2V533.3M1088.72 496.6V520.7M1089.97 517.0V549.4M1091.22 494.7V551.6M1092.47 494.1V538.2M1093.72 466.4V515.5M1094.97 482.6V525.0M1096.22 495.7V519.3M1097.47 489.9V523.0M1098.72 487.8V513.3M1099.97 499.6V521.8M1101.22 494.6V535.9M1102.47 482.6V521.5M1103.72 485.2V535.6M1104.97 484.0V524.4M1106.22 493.2V527.7M1107.47 504.7V544.2M1108.72 504.0V536.6M1109.97 469.9V526.0M1111.22 465.1V503.0M1112.47 488.5V525.3M1113.72 487.7V529.9M1114.97 503.2V529.9M1116.22 508.6V540.1M1117.47 490.5V533.2M1118.72 495.7V533.3M1119.97 471.8V530.5M1121.22 468.6V521.2M1122.47 485.7V556.7M1123.72 503.4V525.6M1124.97 512.5V536.3M1126.22 510.5V533.0M1127.47 475.9V527.2M1128.72 465.7V517.6M1129.97 476.3V518.0M1131.22 492.0V533.4M1132.47 489.3V522.0M1133.72 486.4V525.2M1134.97 489.0V526.7M1136.22 504.2V538.5M1137.47 506.2V545.6M1138.72 508.9V558.8M1139.97 502.9V535.3M1141.22 500.2V531.3M1142.47 510.8V543.4M1143.72 512.2V550.6M1144.97 495.3V542.3M1146.22 477.4V501.0M1147.47 480.2V521.0M1148.72 481.6V506.6M1149.97 472.7V537.5M1151.22 511.6V537.6M1152.47 508.7V542.8M1153.72 483.3V530.4M1154.97 483.6V520.9M1156.22 495.2V537.9M1157.47 470.4V523.9M1158.72 509.1V527.8M1159.97 488.6V534.3M1161.22 502.6V541.5M1162.47 479.7V507.9M1163.72 491.4V528.3M1164.97 500.1V525.8M1166.22 506.1V535.9M1167.47 524.4V555.3M1168.72 499.1V540.4M1169.97 502.2V531.1M1171.22 494.4V539.0M1172.47 508.5V542.2M1173.72 507.0V526.3M1174.97 488.3V521.6M1176.22 502.0V542.8M1177.47 517.9V554.4M1178.72 499.2V550.0M1179.97 510.5V544.5M1181.22 498.8V533.9M1182.47 496.2V532.9M1183.72 475.8V523.1M1184.97 491.1V536.3M1186.22 471.4V532.3M1187.47 510.4V537.3M1188.72 498.1V536.4M1189.97 486.6V514.6M1191.22 503.5V545.4M1192.47 526.3V553.3M1193.72 497.2V538.2M1194.97 505.6V549.3M1196.22 496.5V540.5M1197.47 493.4V521.1M1198.72 502.7V533.4M1199.97 503.4V541.9M1201.22 532.2V551.7M1202.47 521.6V547.8M1203.72 491.7V526.3M1204.97 499.0V535.6M1206.22 525.0V574.1M1207.47 516.6V538.3M1208.72 520.6V557.6M1209.97 506.8V548.5M1211.22 503.8V549.9M1212.47 508.4V536.9M1213.72 502.1V547.8M1214.97 493.7V535.9M1216.22 485.9V560.8M1217.47 523.3V559.6M1218.72 512.9V544.1M1219.97 514.6V542.1M1221.22 514.4V564.0M1222.47 543.8V565.9M1223.72 536.9V561.9M1224.97 492.9V540.8M1226.22 514.2V567.8M1227.47 514.8V557.8M1228.72 551.6V574.2M1229.97 507.0V567.9M1231.22 533.1V569.8M1232.47 526.9V573.1M1233.72 534.2V564.5M1234.97 512.1V561.0M1236.22 508.1V556.5M1237.47 543.5V556.4M1238.72 521.7V561.6M1239.97 510.0V535.5M1241.22 512.2V554.7M1242.47 529.0V552.4M1243.72 533.3V576.5M1244.97 543.1V580.4M1246.22 532.2V563.7M1247.47 535.8V557.6M1248.72 529.5V560.9M1249.97 497.0V548.2M1251.22 516.4V565.5M1252.47 506.8V554.2M1253.72 502.9V563.1M1254.97 499.6V544.3M1256.22 527.9V579.4M1257.47 532.7V590.4M1258.72 516.3V551.5M1259.97 500.6V546.7M1261.22 514.0V545.2M1262.47 527.7V554.0M1263.72 498.1V541.3M1264.97 521.6V562.9M1266.22 522.6V563.2M1267.47 511.5V548.7M1268.72 537.8V588.1M1269.97 548.1V576.9M1271.22 518.1V570.1M1272.47 503.2V560.6M1273.72 547.6V588.3M1274.97 530.3V569.1M1276.22 522.5V560.6M1277.47 521.7V568.9M1278.72 509.2V526.1M1279.97 514.6V542.2M1281.22 507.4V568.3M1282.47 519.5V561.2M1283.72 508.8V544.4M1284.97 523.4V548.4M1286.22 525.9V564.2M1287.47 526.5V562.3M1288.72 520.2V557.7M1289.97 518.7V558.9M1291.22 544.7V573.0M1292.47 527.7V590.0M1293.72 543.4V566.5M1294.97 537.2V569.5M1296.22 540.5V569.0M1297.47 521.5V557.3M1298.72 541.4V574.2M1299.97 542.4V570.1M1301.22 538.1V562.0M1302.47 526.3V572.4M1303.72 511.9V556.2M1304.97 529.6V565.8M1306.22 555.4V587.3M1307.47 534.2V590.5M1308.72 528.6V568.4M1309.97 527.9V554.5M1311.22 522.8V577.2M1312.47 541.5V580.1M1313.72 501.5V550.0M1314.97 522.0V565.8M1316.22 536.1V563.7M1317.47 526.8V558.8M1318.72 535.2V587.3M1319.97 552.9V572.7M1321.22 534.9V558.2M1322.47 524.1V556.4M1323.72 539.3V562.2M1324.97 538.5V581.1M1326.22 536.7V589.8M1327.47 520.9V576.4M1328.72 536.2V568.7M1329.97 545.5V599.9M1331.22 549.2V572.8M1332.47 516.6V564.3M1333.72 523.0V572.5M1334.97 558.9V586.7M1336.22 528.4V569.8M1337.47 554.4V607.9M1338.72 519.0V582.9M1339.97 529.2V551.5M1341.22 533.9V578.0M1342.47 542.7V577.2M1343.72 520.5V569.3M1344.97 532.9V587.6M1346.22 568.6V587.0M1347.47 524.9V576.2M1348.72 518.2V563.0M1349.97 538.9V570.1M1351.22 561.8V584.8M1352.47 532.7V578.5M1353.72 546.5V580.3M1354.97 543.1V588.9M1356.22 528.6V572.4M1357.47 508.2V555.0M1358.72 543.8V570.6M1359.97 558.8V608.3M1361.22 530.8V579.1M1362.47 552.8V593.8M1363.72 567.9V601.9M1364.97 522.0V578.3M1366.22 539.2V597.4M1367.47 542.1V565.1M1368.72 524.8V566.6M1369.97 549.4V569.6M1371.22 560.2V596.1M1372.47 529.6V586.2M1373.72 535.5V573.4M1374.97 543.9V576.6M1376.22 535.3V584.8M1377.47 538.9V575.8M1378.72 536.9V576.3M1379.97 561.9V595.0M1381.22 544.0V566.9M1382.47 546.8V576.6M1383.72 542.3V589.1M1384.97 550.4V595.5M1386.22 530.5V564.0M1387.47 531.5V570.2M1388.72 553.5V585.1M1389.97 557.1V588.0M1391.22 541.2V599.5M1392.47 542.1V586.0M1393.72 546.3V582.7M1394.97 511.2V595.4M1396.22 539.0V582.9M1397.47 550.1V582.5M1398.72 559.7V590.3M1399.97 545.0V598.0M1401.22 534.0V563.4M1402.47 519.3V545.1M1403.72 513.8V559.6M1404.97 557.0V580.3M1406.22 573.0V602.4M1407.47 518.0V589.9M1408.72 515.0V572.3M1409.97 516.7V586.6M1411.22 517.5V550.1M1412.47 537.4V574.7M1413.72 550.5V583.7M1414.97 518.0V574.7M1416.22 533.6V576.9M1417.47 554.7V597.1M1418.72 539.0V580.0M1419.97 539.1V578.6M1421.22 555.3V583.6M1422.47 556.9V599.3M1423.72 549.5V598.0M1424.97 534.5V582.1M1426.22 550.2V583.5M1427.47 532.7V580.7M1428.72 539.3V565.6M1429.97 540.7V588.0M1431.22 547.0V577.2M1432.47 526.5V580.4M1433.72 539.4V567.4M1434.97 560.3V589.9M1436.22 551.7V574.9M1437.47 568.3V586.5M1438.72 535.5V589.1M1439.97 540.4V592.3M1441.22 553.3V591.4M1442.47 573.4V595.4M1443.72 565.9V609.6M1444.97 556.9V597.5M1446.22 536.6V586.0M1447.47 548.2V607.9M1448.72 561.8V594.5M1449.97 551.3V602.4M1451.22 560.7V597.2M1452.47 568.1V595.9M1453.72 569.2V591.5M1454.97 577.6V609.3M1456.22 562.9V613.5M1457.47 543.5V606.6M1458.72 544.5V567.9M1459.97 530.5V584.1M1461.22 549.0V599.2M1462.47 546.0V593.8M1463.72 545.7V600.6M1464.97 550.9V584.3M1466.22 534.8V570.7M1467.47 565.4V600.0M1468.72 555.5V602.1M1469.97 548.6V584.3M1471.22 552.6V616.1M1472.47 545.4V605.7M1473.72 568.7V598.7M1474.97 563.3V607.2M1476.22 570.5V612.1M1477.47 562.5V591.9M1478.72 560.5V602.2M1479.97 564.1V601.1M1481.22 543.8V600.3M1482.47 562.9V596.9M1483.72 573.1V606.7M1484.97 546.8V576.2M1486.22 576.2V611.4M1487.47 580.0V616.3M1488.72 557.4V597.3M1489.97 562.0V603.4M1491.22 574.5V606.4M1492.47 546.2V597.8M1493.72 561.6V600.3M1494.97 585.0V603.5M1496.22 566.4V585.1M1497.47 584.4V609.6M1498.72 565.4V597.0M1499.97 558.8V601.7M1501.22 547.4V580.1M1502.47 578.8V598.1M1503.72 589.2V609.5M1504.97 591.1V640.4M1506.22 589.4V620.7M1507.47 563.3V598.6M1508.72 545.1V598.5M1509.97 562.0V603.7M1511.22 576.0V609.5M1512.47 583.8V631.1M1513.72 552.2V593.2M1514.97 564.4V593.5M1516.22 574.5V631.1M1517.47 589.8V625.8M1518.72 580.1V620.1M1519.97 579.2V626.0M1521.22 560.9V607.7M1522.47 556.6V597.4M1523.72 560.2V619.2M1524.97 569.4V610.0M1526.22 588.3V614.0M1527.47 573.0V634.7M1528.72 552.1V607.2M1529.97 607.2V642.6M1531.22 593.9V622.8M1532.47 555.2V595.8M1533.72 579.4V617.1M1534.97 577.1V624.9M1536.22 555.6V604.8M1537.47 604.8V630.8M1538.72 574.6V616.1M1539.97 583.2V611.5M1541.22 563.2V602.0M1542.47 555.5V594.3M1543.72 566.5V612.2M1544.97 570.8V623.0M1546.22 567.6V620.6M1547.47 552.6V618.9M1548.72 562.7V601.0M1549.97 561.8V606.4M1551.22 597.2V623.4M1552.47 590.1V610.7M1553.72 586.0V626.5M1554.97 587.1V620.4M1556.22 579.8V612.4M1557.47 576.2V625.1M1558.72 571.1V608.6M1559.97 582.8V614.8M1561.22 611.1V630.2M1562.47 577.7V626.7M1563.72 596.4V632.3M1564.97 560.8V614.6M1566.22 584.3V626.6M1567.47 583.9V631.7M1568.72 578.8V603.2M1569.97 580.6V613.5M1571.22 597.4V618.3M1572.47 575.0V624.8M1573.72 549.3V604.3M1574.97 586.1V611.0M1576.22 562.5V600.8M1577.47 572.5V623.1M1578.72 580.9V617.6M1579.97 589.2V622.8M1581.22 591.4V613.0M1582.47 562.1V619.4M1583.72 591.5V613.1M1584.97 584.9V606.7M1586.22 574.7V615.7M1587.47 595.0V622.6M1588.72 577.4V613.9M1589.97 559.3V607.6M1591.22 544.1V597.5M1592.47 574.8V648.1M1593.72 586.5V619.3M1594.97 591.9V626.5M1596.22 566.4V597.4M1597.47 539.6V611.3M1598.72 604.6V622.1M1599.97 595.4V624.5M1601.22 598.3V618.4M1602.47 570.0V628.7M1603.72 561.6V608.9M1604.97 585.7V620.9M1606.22 596.6V622.8M1607.47 574.5V611.1M1608.72 561.0V608.7M1609.97 580.2V621.9M1611.22 586.9V612.0M1612.47 585.5V620.8M1613.72 562.9V607.5M1614.97 561.0V597.7M1616.22 566.3V602.2M1617.47 541.4V596.9M1618.72 573.0V606.8M1619.97 573.9V603.0M1621.22 583.4V625.4M1622.47 601.7V637.0M1623.72 590.6V620.5M1624.97 601.0V628.2M1626.22 586.4V621.6M1627.47 562.9V610.0M1628.72 596.3V634.7M1629.97 585.4V623.8M1631.22 574.2V609.1"/>
<path class="ti" d="M990.4 658.1 V649.1M1131.6 658.1 V649.1M1274.1 658.1 V649.1M1415.4 658.1 V649.1M1557.8 658.1 V649.1M988.1 458.7 H1005.6M988.1 516.6 H1005.6M988.1 574.6 H1005.6M988.1 632.6 H1005.6M988.1 423.9 H996.6M988.1 435.4 H996.6M988.1 447.1 H996.6M988.1 470.2 H996.6M988.1 481.9 H996.6M988.1 493.4 H996.6M988.1 505.1 H996.6M988.1 528.2 H996.6M988.1 539.8 H996.6M988.1 551.4 H996.6M988.1 563.0 H996.6M988.1 586.2 H996.6M988.1 597.8 H996.6M988.1 609.4 H996.6M988.1 621.0 H996.6M988.1 644.2 H996.6M988.1 655.8 H996.6"/>
<rect class="fr" x="988.1" y="422.0" width="643.4" height="236.1"/>
<text class="tk" text-anchor="middle" x="988.2" y="676.5">13h15</text>
<text class="tk" text-anchor="middle" x="1130.9" y="676.5">13h30</text>
<text class="tk" text-anchor="middle" x="1272.4" y="676.5">13h45</text>
<text class="tk" text-anchor="middle" x="1415.1" y="676.5">14h00</text>
<text class="tk" text-anchor="middle" x="1556.3" y="676.5">14h15</text>
<text class="tk" text-anchor="end" x="982.1" y="465.4">1.86</text>
<text class="tk" text-anchor="end" x="982.1" y="523.4">1.85</text>
<text class="tk" text-anchor="end" x="982.1" y="581.4">1.84</text>
<text class="tk" text-anchor="end" x="982.1" y="639.4">1.83</text>
<text class="bt" x="984.4" y="720.8">1452950102.0000 Jan20 2026 13:14:44 UTC</text>
</g>
<g>
<text class="tt" style="font-size:28.80px" x="2158.3" y="405.1">SQZ_PumpPhase_PD_DC_mean__TIME</text>
<text class="un" transform="translate(1734.8 421.7) rotate(-90)">V</text>
<path class="gr" d="M1840.2 658.1 V422.0M1981.5 658.1 V422.0M2123.9 658.1 V422.0M2265.2 658.1 V422.0M2407.7 658.1 V422.0M1838.0 452.2 H2481.3M1838.0 534.7 H2481.3M1838.0 617.2 H2481.3"/>
<path class="cv" d="M1838.58 546.2V551.2M1839.83 540.4V549.8M1841.08 548.0V552.3M1842.33 552.2V557.4M1843.58 551.9V559.0M1844.83 556.3V563.8M1846.08 557.3V564.8M1847.33 562.1V564.7M1848.58 558.4V564.9M1849.83 561.0V567.0M1851.08 564.7V567.3M1852.33 563.6V569.8M1853.58 562.9V568.8M1854.83 563.6V568.1M1856.08 563.2V568.9M1857.33 562.5V568.1M1858.58 558.7V565.0M1859.83 559.3V561.2M1861.08 557.5V561.5M1862.33 557.2V561.3M1863.58 558.2V562.2M1864.83 556.0V563.3M1866.08 554.5V558.9M1867.33 555.3V564.7M1868.58 554.5V558.1M1869.83 552.1V557.6M1871.08 554.4V564.1M1872.33 557.9V562.4M1873.58 555.8V561.4M1874.83 561.2V569.8M1876.08 563.5V568.7M1877.33 563.5V567.6M1878.58 561.3V567.4M1879.83 560.6V565.1M1881.08 561.4V564.7M1882.33 562.7V568.8M1883.58 564.4V571.2M1884.83 567.3V576.1M1886.08 574.2V583.5M1887.33 582.2V585.7M1888.58 582.8V586.5M1889.83 579.2V586.6M1891.08 572.2V584.7M1892.33 567.1V572.2M1893.58 562.6V567.7M1894.83 560.7V567.1M1896.08 563.9V568.1M1897.33 564.9V569.4M1898.58 566.5V575.0M1899.83 568.6V580.0M1901.08 576.1V581.3M1902.33 577.1V580.9M1903.58 579.2V590.2M1904.83 578.4V583.7M1906.08 573.5V582.2M1907.33 568.6V575.3M1908.58 566.9V569.3M1909.83 565.7V570.4M1911.08 564.6V568.9M1912.33 561.9V565.4M1913.58 562.4V567.6M1914.83 562.2V565.8M1916.08 561.6V565.2M1917.33 559.4V562.9M1918.58 559.2V563.8M1919.83 563.4V570.1M1921.08 560.6V567.3M1922.33 561.9V563.8M1923.58 560.3V569.0M1924.83 560.7V569.3M1926.08 563.8V568.6M1927.33 561.2V570.6M1928.58 563.7V568.6M1929.83 564.3V573.3M1931.08 567.9V574.5M1932.33 567.0V569.5M1933.58 568.7V575.5M1934.83 570.4V573.7M1936.08 569.6V573.8M1937.33 570.4V574.8M1938.58 571.2V574.8M1939.83 567.8V574.3M1941.08 568.1V572.0M1942.33 565.7V574.8M1943.58 564.7V568.9M1944.83 564.8V569.9M1946.08 562.9V569.6M1947.33 563.5V568.0M1948.58 565.3V569.2M1949.83 567.5V575.3M1951.08 566.2V571.9M1952.33 568.8V575.4M1953.58 571.0V578.3M1954.83 569.1V576.3M1956.08 567.5V572.4M1957.33 565.9V571.6M1958.58 563.3V572.3M1959.83 567.3V572.8M1961.08 567.6V573.9M1962.33 566.1V570.5M1963.58 558.0V566.7M1964.83 558.0V566.8M1966.08 559.9V565.5M1967.33 558.8V567.0M1968.58 564.3V571.4M1969.83 562.2V566.1M1971.08 561.6V568.6M1972.33 561.0V569.8M1973.58 565.9V576.0M1974.83 573.2V577.6M1976.08 577.2V586.3M1977.33 583.6V591.3M1978.58 586.7V595.0M1979.83 590.5V593.8M1981.08 591.7V600.2M1982.33 597.7V602.0M1983.58 594.6V601.0M1984.83 594.4V600.1M1986.08 594.7V601.7M1987.33 589.4V600.8M1988.58 585.5V592.1M1989.83 582.9V591.0M1991.08 577.9V586.0M1992.33 574.6V581.2M1993.58 576.0V582.7M1994.83 575.8V583.9M1996.08 573.9V578.3M1997.33 573.5V583.5M1998.58 576.3V585.4M1999.83 571.7V582.8M2001.08 575.8V584.3M2002.33 579.1V587.5M2003.58 578.0V589.3M2004.83 588.1V592.4M2006.08 587.6V598.0M2007.33 597.3V602.7M2008.58 592.7V600.3M2009.83 589.8V597.0M2011.08 587.4V597.0M2012.33 591.6V596.2M2013.58 592.0V595.8M2014.83 592.3V600.6M2016.08 589.8V596.0M2017.33 589.0V591.7M2018.58 583.5V592.1M2019.83 585.2V592.2M2021.08 584.3V591.1M2022.33 583.9V593.8M2023.58 591.7V595.9M2024.83 591.0V595.8M2026.08 593.8V598.9M2027.33 595.4V601.3M2028.58 597.2V607.0M2029.83 601.9V609.0M2031.08 604.8V609.9M2032.33 605.9V613.6M2033.58 602.8V607.2M2034.83 597.8V604.0M2036.08 595.0V601.6M2037.33 592.7V598.7M2038.58 590.3V595.7M2039.83 591.7V596.6M2041.08 588.9V594.5M2042.33 586.8V593.1M2043.58 587.7V593.9M2044.83 588.7V596.9M2046.08 590.2V596.4M2047.33 591.0V594.7M2048.57 583.9V593.3M2049.82 584.7V595.2M2051.07 580.8V586.5M2052.32 576.9V586.9M2053.57 576.8V580.7M2054.82 574.6V579.0M2056.07 576.2V582.6M2057.32 572.7V584.8M2058.57 574.5V580.9M2059.82 576.0V581.7M2061.07 574.1V579.1M2062.32 568.2V582.2M2063.57 572.8V579.0M2064.82 571.1V580.4M2066.07 571.5V582.2M2067.32 571.7V576.5M2068.57 575.1V581.7M2069.82 573.8V580.3M2071.07 569.6V575.1M2072.32 565.2V580.5M2073.57 568.2V581.6M2074.82 567.6V575.4M2076.07 571.9V575.6M2077.32 572.3V577.9M2078.57 567.9V575.7M2079.82 568.9V578.9M2081.07 572.0V575.6M2082.32 571.1V574.3M2083.57 571.1V577.6M2084.82 572.4V579.0M2086.07 570.5V576.9M2087.32 572.7V576.4M2088.57 573.0V580.7M2089.82 570.9V580.4M2091.07 576.8V583.4M2092.32 578.6V584.4M2093.57 577.8V583.7M2094.82 580.4V583.7M2096.07 579.7V585.3M2097.32 577.0V582.5M2098.57 581.2V587.0M2099.82 581.1V586.6M2101.07 578.4V583.8M2102.32 576.3V583.0M2103.57 575.7V582.9M2104.82 575.4V580.0M2106.07 575.9V582.5M2107.32 578.0V582.0M2108.57 580.1V583.6M2109.82 581.5V583.7M2111.07 579.4V589.5M2112.32 582.1V588.9M2113.57 579.4V587.9M2114.82 582.9V586.4M2116.07 581.4V585.4M2117.32 580.9V586.0M2118.57 582.3V588.4M2119.82 588.4V593.8M2121.07 585.3V590.4M2122.32 585.7V590.7M2123.57 581.8V587.2M2124.82 581.9V591.3M2126.07 584.0V593.9M2127.32 578.7V584.8M2128.57 583.1V590.1M2129.82 578.9V590.4M2131.07 578.3V583.8M2132.32 574.0V584.2M2133.57 579.3V582.7M2134.82 574.2V581.2M2136.07 578.7V590.6M2137.32 582.2V590.8M2138.57 582.1V585.5M2139.82 582.3V591.2M2141.07 582.9V587.2M2142.32 581.1V590.5M2143.57 586.5V591.1M2144.82 585.8V591.6M2146.07 588.3V597.2M2147.32 592.5V599.8M2148.57 588.9V595.0M2149.82 589.5V597.8M2151.07 589.3V595.4M2152.32 588.6V597.3M2153.57 586.5V596.3M2154.82 590.6V594.1M2156.07 586.4V594.8M2157.32 594.2V598.6M2158.57 598.6V610.0M2159.82 608.0V614.6M2161.07 611.0V614.8M2162.32 607.8V613.7M2163.57 604.1V610.5M2164.82 602.4V610.6M2166.07 600.2V607.1M2167.32 601.1V605.7M2168.57 599.6V602.9M2169.82 601.8V606.5M2171.07 600.5V605.8M2172.32 601.3V605.7M2173.57 604.4V611.8M2174.82 608.4V615.6M2176.07 608.3V613.0M2177.32 604.9V621.5M2178.57 609.4V618.6M2179.82 608.5V612.1M2181.07 604.3V609.4M2182.32 598.1V604.4M2183.57 596.1V600.9M2184.82 596.6V602.0M2186.07 596.9V601.5M2187.32 595.5V602.4M2188.57 596.5V600.7M2189.82 590.1V598.1M2191.07 595.2V600.8M2192.32 591.1V599.6M2193.57 593.7V601.0M2194.82 595.0V602.3M2196.07 594.6V598.7M2197.32 594.1V599.0M2198.57 595.6V601.7M2199.82 597.7V602.5M2201.07 598.4V606.0M2202.32 598.1V604.7M2203.57 602.3V607.4M2204.82 605.0V609.8M2206.07 607.7V615.1M2207.32 612.7V619.4M2208.57 614.8V620.5M2209.82 617.7V621.7M2211.07 616.4V620.9M2212.32 616.8V620.2M2213.57 619.8V623.4M2214.82 617.4V622.6M2216.07 619.2V622.2M2217.32 617.9V624.4M2218.57 622.2V627.9M2219.82 623.0V628.8M2221.07 624.6V632.7M2222.32 624.7V633.9M2223.57 621.6V627.8M2224.82 625.6V630.7M2226.07 625.0V633.5M2227.32 632.0V637.6M2228.57 630.4V633.3M2229.82 630.7V635.0M2231.07 633.7V638.5M2232.32 633.9V640.3M2233.57 628.4V638.7M2234.82 633.7V641.7M2236.07 629.3V642.6M2237.32 629.7V636.7M2238.57 624.8V636.6M2239.82 620.6V629.1M2241.07 618.9V624.2M2242.32 617.3V621.5M2243.57 613.1V621.5M2244.82 602.5V614.4M2246.07 605.1V610.4M2247.32 606.7V611.5M2248.57 608.6V613.4M2249.82 613.4V621.1M2251.07 615.5V619.1M2252.32 617.7V623.8M2253.57 618.3V621.9M2254.82 616.9V621.1M2256.07 614.9V619.1M2257.32 613.1V617.5M2258.57 612.2V616.7M2259.82 606.0V613.0M2261.07 602.2V608.5M2262.32 588.3V602.2M2263.57 573.0V588.3M2264.82 554.9V573.0M2266.07 545.7V556.8M2267.32 535.2V548.3M2268.57 533.0V545.3M2269.82 524.6V539.7M2271.07 517.9V525.3M2272.32 519.4V524.9M2273.57 515.2V521.9M2274.82 512.0V521.9M2276.07 497.3V516.7M2277.32 501.6V513.1M2278.57 511.2V521.7M2279.82 510.3V522.6M2281.07 507.0V514.2M2282.32 505.9V515.8M2283.57 511.8V517.7M2284.82 515.4V523.8M2286.07 514.6V520.7M2287.32 510.1V523.3M2288.57 523.3V533.7M2289.82 533.7V554.7M2291.07 543.0V555.1M2292.32 538.5V547.1M2293.57 537.8V551.5M2294.82 531.7V540.9M2296.07 522.5V540.2M2297.32 518.3V529.3M2298.57 508.5V525.2M2299.82 487.5V508.5M2301.07 490.8V505.0M2302.32 481.1V491.6M2303.57 478.2V486.4M2304.82 475.3V495.6M2306.07 488.2V495.5M2307.32 495.3V500.0M2308.57 500.0V509.7M2309.82 503.8V511.5M2311.07 505.0V512.6M2312.32 507.6V520.6M2313.57 509.0V517.5M2314.82 493.1V509.0M2316.07 484.4V494.3M2317.32 481.4V493.0M2318.57 481.1V493.4M2319.82 485.3V491.2M2321.07 481.4V490.2M2322.32 473.8V482.9M2323.57 468.5V478.6M2324.82 467.8V479.4M2326.07 463.2V473.3M2327.32 465.2V472.4M2328.57 468.0V478.8M2329.82 467.7V477.9M2331.07 472.7V484.5M2332.32 473.0V479.0M2333.57 470.2V480.1M2334.82 475.7V490.9M2336.07 478.9V489.8M2337.32 478.9V484.7M2338.57 483.8V493.0M2339.82 477.9V487.3M2341.07 471.2V480.9M2342.32 468.9V476.4M2343.57 474.4V486.8M2344.82 466.8V475.9M2346.07 464.4V477.8M2347.32 469.0V478.2M2348.57 467.1V478.7M2349.82 472.7V480.8M2351.07 472.6V478.7M2352.32 470.2V476.9M2353.57 469.6V477.5M2354.82 465.6V476.5M2356.07 458.6V468.3M2357.32 454.0V460.2M2358.57 448.6V460.2M2359.82 454.0V470.6M2361.07 454.4V465.3M2362.32 461.3V475.9M2363.57 468.4V480.4M2364.82 469.3V477.4M2366.07 462.6V474.3M2367.32 459.5V464.6M2368.57 453.7V460.2M2369.82 457.8V478.6M2371.07 465.3V475.6M2372.32 468.6V484.2M2373.57 468.4V479.6M2374.82 461.4V472.4M2376.07 458.7V473.8M2377.32 460.3V469.9M2378.57 461.8V473.1M2379.82 458.0V470.3M2381.07 456.4V465.0M2382.32 463.1V470.2M2383.57 468.1V475.0M2384.82 466.5V474.9M2386.07 461.6V470.5M2387.32 469.8V482.3M2388.57 470.9V476.7M2389.82 470.9V477.5M2391.07 472.2V478.8M2392.32 473.3V481.2M2393.57 469.7V476.9M2394.82 473.7V481.5M2396.07 473.0V488.8M2397.32 464.6V475.3M2398.57 465.1V479.4M2399.82 471.5V482.5M2401.07 466.5V473.4M2402.32 467.3V469.0M2403.57 463.2V470.9M2404.82 464.3V471.2M2406.07 457.5V470.3M2407.32 455.7V468.5M2408.57 457.5V464.5M2409.82 460.1V469.9M2411.07 462.2V466.7M2412.32 453.8V462.8M2413.57 453.4V463.9M2414.82 453.0V463.9M2416.07 452.7V461.3M2417.32 449.9V455.1M2418.57 438.1V451.4M2419.82 445.2V467.1M2421.07 452.6V460.5M2422.32 448.3V456.1M2423.57 444.3V451.4M2424.82 448.7V454.1M2426.07 447.3V453.9M2427.32 450.3V454.4M2428.57 444.5V453.7M2429.82 447.3V455.6M2431.07 455.6V469.7M2432.32 451.3V462.5M2433.57 458.5V467.5M2434.82 458.0V462.3M2436.07 458.5V472.3M2437.32 465.3V470.5M2438.57 463.6V469.6M2439.82 462.2V470.5M2441.07 447.6V468.0M2442.32 449.3V455.6M2443.57 446.4V460.4M2444.82 449.5V458.9M2446.07 446.1V453.4M2447.32 444.8V450.9M2448.57 446.4V456.8M2449.82 444.8V451.9M2451.07 443.4V462.4M2452.32 455.8V460.5M2453.57 452.2V460.6M2454.82 458.9V468.8M2456.07 463.7V472.5M2457.32 465.5V479.1M2458.57 462.6V480.1M2459.82 470.7V476.9M2461.07 466.3V472.7M2462.32 462.3V473.7M2463.57 456.9V465.5M2464.82 448.2V462.3M2466.07 445.6V457.4M2467.32 449.4V461.8M2468.57 448.8V455.3M2469.82 453.4V457.8M2471.07 453.9V465.4M2472.32 449.0V457.8M2473.57 448.2V460.1M2474.82 448.9V462.2M2476.07 457.5V462.8M2477.32 457.1V465.3M2478.57 460.6V466.6M2479.82 463.1V470.1M2481.07 459.4V468.3"/>
<path class="ti" d="M1840.2 658.1 V649.1M1981.5 658.1 V649.1M2123.9 658.1 V649.1M2265.2 658.1 V649.1M2407.7 658.1 V649.1M1838.0 452.2 H1855.5M1838.0 534.7 H1855.5M1838.0 617.2 H1855.5M1838.0 435.6 H1846.5M1838.0 468.7 H1846.5M1838.0 485.2 H1846.5M1838.0 501.7 H1846.5M1838.0 518.2 H1846.5M1838.0 551.2 H1846.5M1838.0 567.7 H1846.5M1838.0 584.2 H1846.5M1838.0 600.7 H1846.5M1838.0 633.8 H1846.5M1838.0 650.3 H1846.5"/>
<rect class="fr" x="1838.0" y="422.0" width="643.4" height="236.1"/>
<text class="tk" text-anchor="middle" x="1838.0" y="676.5">13h15</text>
<text class="tk" text-anchor="middle" x="1980.8" y="676.5">13h30</text>
<text class="tk" text-anchor="middle" x="2122.2" y="676.5">13h45</text>
<text class="tk" text-anchor="middle" x="2264.9" y="676.5">14h00</text>
<text class="tk" text-anchor="middle" x="2406.2" y="676.5">14h15</text>
<text class="tk" text-anchor="end" x="1832.0" y="458.9">2.91</text>
<text class="tk" text-anchor="end" x="1832.0" y="541.4">2.905</text>
<text class="tk" text-anchor="end" x="1832.0" y="624.0">2.9</text>
<text class="bt" x="1834.2" y="720.8">1452950102.0000 Jan20 2026 13:14:44 UTC</text>
</g>
<g>
<text class="tt" style="font-size:28.80px" x="3006.8" y="405.1">SQZ_MC1064_PD_DC_mean__TIME</text>
<text class="un" transform="translate(2583.2 421.7) rotate(-90)">V</text>
<path class="gr" d="M2688.7 658.1 V422.0M2829.9 658.1 V422.0M2972.4 658.1 V422.0M3113.7 658.1 V422.0M3256.1 658.1 V422.0M2686.4 477.4 H3329.8M2686.4 544.8 H3329.8M2686.4 612.0 H3329.8"/>
<path class="cv" d="M2687.03 484.8V532.9M2688.28 491.3V543.2M2689.53 508.5V548.6M2690.78 511.9V563.3M2692.03 522.3V600.3M2693.28 557.6V601.5M2694.53 529.6V600.2M2695.78 523.5V571.8M2697.03 551.4V611.0M2698.28 518.8V585.6M2699.53 537.9V583.7M2700.78 526.5V576.7M2702.03 541.0V578.4M2703.28 527.5V570.8M2704.53 543.7V581.9M2705.78 517.2V570.8M2707.03 462.5V563.0M2708.28 471.3V554.4M2709.53 524.4V562.1M2710.78 527.4V568.1M2712.03 524.2V565.9M2713.28 540.8V574.3M2714.53 523.8V562.7M2715.78 527.8V564.0M2717.03 541.8V568.9M2718.28 522.4V577.0M2719.53 528.1V569.8M2720.78 544.6V576.1M2722.03 530.5V563.7M2723.28 554.3V584.8M2724.53 528.9V572.5M2725.78 557.5V589.1M2727.03 554.4V593.8M2728.28 487.0V554.4M2729.53 510.9V579.1M2730.78 521.7V583.8M2732.03 524.5V572.4M2733.28 541.0V575.7M2734.53 552.7V584.8M2735.78 538.7V566.9M2737.03 535.8V579.9M2738.28 550.6V599.0M2739.53 570.7V591.6M2740.78 556.7V577.0M2742.03 525.7V593.9M2743.28 543.5V583.0M2744.53 535.0V573.0M2745.78 516.9V544.4M2747.03 544.1V579.0M2748.28 485.8V570.2M2749.53 509.6V580.7M2750.78 535.5V574.3M2752.03 528.6V579.1M2753.28 511.8V569.8M2754.53 541.1V562.0M2755.78 543.1V568.3M2757.03 466.9V567.4M2758.28 555.1V581.9M2759.53 523.7V555.9M2760.78 544.2V572.7M2762.03 510.3V586.1M2763.28 560.0V583.1M2764.53 544.9V572.7M2765.78 559.2V578.0M2767.03 539.5V560.1M2768.28 521.8V552.4M2769.53 519.0V561.8M2770.78 522.7V563.7M2772.03 482.1V561.0M2773.28 461.8V559.4M2774.53 533.6V564.5M2775.78 545.6V568.6M2777.03 547.2V577.8M2778.28 524.2V563.3M2779.53 552.5V575.2M2780.78 513.0V574.4M2782.03 530.7V563.7M2783.28 514.8V576.1M2784.53 564.8V586.5M2785.78 517.3V571.7M2787.03 538.1V572.9M2788.28 545.7V574.6M2789.53 540.7V576.5M2790.78 528.2V567.1M2792.03 476.3V569.6M2793.28 501.1V551.3M2794.53 464.1V547.5M2795.78 506.6V549.9M2797.03 520.8V567.8M2798.28 469.2V554.5M2799.53 475.8V580.2M2800.78 526.5V561.1M2802.03 520.1V563.7M2803.28 525.1V574.2M2804.53 549.4V578.3M2805.78 527.8V582.0M2807.03 554.7V569.1M2808.28 546.1V576.3M2809.53 540.1V564.8M2810.78 538.9V576.3M2812.03 551.5V564.1M2813.28 532.5V562.7M2814.53 522.6V560.9M2815.78 471.7V541.7M2817.03 523.0V555.0M2818.28 520.3V540.9M2819.53 540.9V572.8M2820.78 453.8V557.3M2822.03 528.3V565.0M2823.28 523.1V573.8M2824.53 542.5V571.1M2825.78 550.6V579.4M2827.03 532.9V577.5M2828.28 538.6V577.4M2829.53 550.9V587.3M2830.78 525.2V583.5M2832.03 544.4V590.0M2833.28 571.8V589.8M2834.53 538.6V578.0M2835.78 540.6V573.6M2837.03 563.9V584.9M2838.28 566.8V585.7M2839.53 572.2V601.2M2840.78 533.6V578.2M2842.03 525.6V576.1M2843.28 565.9V601.2M2844.53 548.0V595.4M2845.78 525.8V553.8M2847.03 508.9V557.1M2848.28 476.2V574.8M2849.53 522.0V562.4M2850.78 518.3V555.6M2852.03 526.0V568.4M2853.28 525.5V576.2M2854.53 558.8V591.1M2855.78 547.1V578.2M2857.03 561.2V588.9M2858.28 546.8V574.2M2859.53 556.9V585.8M2860.78 538.9V580.4M2862.03 521.1V568.2M2863.28 539.2V567.2M2864.53 528.6V597.7M2865.78 520.3V573.2M2867.03 517.3V556.4M2868.28 540.4V564.0M2869.53 525.7V569.9M2870.78 529.0V573.1M2872.03 517.9V572.3M2873.28 513.9V562.4M2874.53 527.0V578.2M2875.78 533.5V583.2M2877.03 514.3V571.1M2878.28 521.7V580.0M2879.53 545.2V582.1M2880.78 541.8V591.6M2882.03 527.4V571.6M2883.28 533.9V571.6M2884.53 519.5V576.9M2885.78 566.0V588.3M2887.03 534.6V601.2M2888.28 510.0V543.2M2889.53 473.4V546.4M2890.78 527.0V551.5M2892.03 484.2V572.0M2893.28 557.4V587.4M2894.53 555.4V588.6M2895.78 542.0V573.3M2897.03 541.2V577.0M2898.28 556.4V577.5M2899.53 548.8V578.5M2900.78 507.5V548.8M2902.03 521.4V563.7M2903.28 527.6V563.1M2904.53 517.6V564.3M2905.78 525.4V569.2M2907.03 496.9V557.1M2908.28 538.8V568.5M2909.53 527.7V561.8M2910.78 495.2V546.5M2912.03 523.1V557.5M2913.28 532.8V583.6M2914.53 558.2V581.6M2915.78 531.5V560.2M2917.03 506.5V549.3M2918.28 498.1V554.7M2919.53 500.0V560.2M2920.78 480.5V540.1M2922.03 472.8V532.0M2923.28 494.1V557.6M2924.53 534.2V577.7M2925.78 539.4V569.8M2927.03 519.2V548.0M2928.28 523.4V551.3M2929.53 532.3V556.4M2930.78 522.2V559.7M2932.03 514.9V565.7M2933.28 515.1V561.4M2934.53 533.9V572.8M2935.78 540.3V560.2M2937.03 524.9V561.9M2938.28 496.0V553.7M2939.53 531.9V577.2M2940.78 542.6V576.4M2942.03 542.7V564.9M2943.28 535.7V570.6M2944.53 479.1V561.3M2945.78 494.9V571.6M2947.03 488.4V563.9M2948.28 510.8V562.3M2949.53 514.7V566.7M2950.78 540.3V575.9M2952.03 485.9V568.4M2953.28 523.9V575.6M2954.53 542.6V602.4M2955.78 518.7V570.9M2957.03 512.4V558.9M2958.28 519.7V561.2M2959.53 511.8V553.3M2960.78 519.1V565.2M2962.03 520.8V592.6M2963.28 553.9V605.2M2964.53 536.9V575.1M2965.78 531.5V578.3M2967.03 518.5V570.1M2968.28 508.1V566.3M2969.53 543.7V571.4M2970.78 538.6V575.4M2972.03 552.4V571.4M2973.28 504.2V584.7M2974.53 503.9V557.8M2975.78 494.6V557.9M2977.03 461.3V568.0M2978.28 496.0V568.0M2979.53 549.3V577.5M2980.78 460.4V559.7M2982.03 497.2V555.9M2983.28 480.0V540.3M2984.53 516.7V553.8M2985.78 514.0V565.0M2987.03 501.8V551.2M2988.28 530.3V571.7M2989.53 535.5V567.3M2990.78 551.0V574.3M2992.03 517.7V560.1M2993.28 539.2V573.3M2994.53 494.6V552.4M2995.78 544.9V578.7M2997.03 507.1V586.3M2998.28 511.7V572.3M2999.53 510.6V551.4M3000.78 512.5V596.3M3002.03 554.2V616.0M3003.28 560.3V587.9M3004.53 535.5V580.3M3005.78 523.5V578.9M3007.03 488.1V573.3M3008.28 537.0V584.1M3009.53 560.2V602.4M3010.78 557.1V584.2M3012.03 566.9V590.7M3013.28 542.9V580.0M3014.53 545.6V581.9M3015.78 548.1V590.7M3017.03 533.4V579.5M3018.28 522.8V581.8M3019.53 538.8V582.8M3020.78 540.3V580.0M3022.03 570.8V589.7M3023.28 543.3V584.4M3024.53 477.0V560.0M3025.78 512.0V594.5M3027.03 536.3V607.5M3028.28 507.4V566.8M3029.53 513.8V547.7M3030.78 521.1V585.1M3032.03 551.2V580.7M3033.28 494.6V580.5M3034.53 539.5V573.7M3035.78 525.0V578.6M3037.03 568.9V594.6M3038.28 572.5V585.8M3039.53 573.5V582.7M3040.78 564.6V607.2M3042.03 569.4V607.0M3043.28 570.4V599.5M3044.53 559.2V600.3M3045.78 535.5V574.5M3047.03 543.3V569.4M3048.28 532.4V569.1M3049.53 530.5V572.3M3050.78 561.5V588.8M3052.03 548.4V574.1M3053.28 558.7V587.1M3054.53 543.4V585.5M3055.78 545.0V582.1M3057.03 495.7V592.0M3058.28 476.0V568.3M3059.53 538.0V579.9M3060.78 540.8V577.7M3062.03 539.2V572.6M3063.28 555.0V587.0M3064.53 529.9V582.2M3065.78 547.7V574.2M3067.03 553.8V587.6M3068.28 547.0V592.6M3069.53 537.5V581.2M3070.78 561.3V593.7M3072.03 574.6V619.1M3073.28 562.6V591.0M3074.53 559.7V589.9M3075.78 570.3V587.2M3077.03 577.4V609.2M3078.28 567.2V597.0M3079.53 558.1V598.5M3080.78 523.3V601.0M3082.03 520.0V579.4M3083.28 551.8V591.6M3084.53 555.6V594.8M3085.78 494.4V593.5M3087.03 531.6V601.9M3088.28 523.2V585.2M3089.53 538.9V592.9M3090.78 502.2V612.8M3092.03 575.7V605.6M3093.28 537.1V593.0M3094.53 511.4V586.6M3095.78 545.9V594.2M3097.03 559.2V594.2M3098.28 558.9V596.4M3099.53 552.1V604.2M3100.78 550.3V614.4M3102.03 580.8V605.1M3103.28 501.9V597.9M3104.53 595.7V614.6M3105.78 591.7V609.4M3107.03 574.6V606.6M3108.28 564.9V595.8M3109.53 565.4V605.2M3110.78 578.9V624.6M3112.03 543.7V615.9M3113.28 571.0V631.5M3114.53 572.4V612.6M3115.78 593.6V612.7M3117.03 588.5V620.8M3118.28 595.7V644.2M3119.53 591.0V626.3M3120.78 512.5V608.8M3122.03 577.4V614.6M3123.28 545.9V620.6M3124.53 547.5V608.5M3125.78 595.6V650.1M3127.03 591.4V636.1M3128.28 564.0V615.3M3129.53 614.6V635.6M3130.78 565.4V626.1M3132.03 581.6V611.7M3133.28 571.7V625.7M3134.53 603.5V640.6M3135.78 602.3V618.9M3137.03 550.7V608.8M3138.28 552.8V595.7M3139.53 558.4V597.9M3140.78 578.2V625.0M3142.03 572.0V618.4M3143.28 537.4V629.4M3144.53 596.1V638.3M3145.78 577.4V628.9M3147.03 561.6V618.6M3148.28 567.4V616.8M3149.53 604.0V626.3M3150.78 612.3V640.4M3152.03 576.4V628.1M3153.28 571.0V623.3M3154.53 596.0V630.7M3155.78 603.6V620.5M3157.03 532.8V619.2M3158.28 598.7V625.0M3159.53 607.0V630.2M3160.78 598.1V628.7M3162.03 549.7V622.0M3163.28 562.9V609.2M3164.53 595.2V611.3M3165.78 596.5V616.4M3167.03 586.1V613.5M3168.28 572.6V606.7M3169.53 590.5V632.1M3170.78 552.4V616.4M3172.03 546.1V620.8M3173.28 595.7V621.4M3174.53 578.2V633.2M3175.78 549.2V614.4M3177.03 549.8V609.6M3178.28 530.3V609.8M3179.53 514.3V618.5M3180.78 596.9V646.7M3182.03 565.3V620.9M3183.28 511.3V606.7M3184.53 580.6V617.8M3185.78 594.2V638.1M3187.03 571.3V604.3M3188.28 532.9V588.2M3189.53 544.9V592.5M3190.78 562.8V597.7M3192.03 543.4V593.2M3193.28 529.0V604.3M3194.53 509.6V585.3M3195.78 565.9V595.4M3197.03 539.7V590.4M3198.28 516.5V593.4M3199.53 492.9V585.7M3200.78 550.6V584.4M3202.03 534.0V583.6M3203.28 549.2V600.3M3204.53 573.1V598.2M3205.78 572.4V605.2M3207.03 551.6V594.0M3208.28 546.5V591.5M3209.53 570.2V628.9M3210.78 561.0V634.0M3212.03 514.6V596.9M3213.28 535.7V603.0M3214.53 553.3V600.1M3215.78 524.8V596.7M3217.03 556.7V600.4M3218.28 579.3V598.3M3219.53 561.9V606.4M3220.78 543.3V572.9M3222.03 557.3V603.5M3223.28 526.5V591.2M3224.53 563.3V597.8M3225.78 509.6V587.8M3227.03 558.5V600.2M3228.28 544.1V593.4M3229.53 531.1V587.6M3230.78 534.5V572.5M3232.03 499.4V563.2M3233.28 530.5V586.4M3234.53 566.7V603.0M3235.78 556.2V587.2M3237.03 542.9V600.8M3238.28 541.7V591.7M3239.53 577.8V593.7M3240.78 561.8V601.0M3242.03 539.3V584.2M3243.28 518.4V583.5M3244.53 545.1V594.3M3245.78 541.3V584.5M3247.03 520.1V563.6M3248.28 483.4V570.9M3249.53 511.0V573.2M3250.78 550.5V586.7M3252.03 559.5V589.0M3253.28 568.4V602.8M3254.53 570.4V588.6M3255.78 513.0V587.0M3257.03 555.8V604.0M3258.28 530.6V580.9M3259.53 523.5V580.9M3260.78 573.9V602.8M3262.03 582.6V597.5M3263.28 554.7V596.0M3264.53 545.0V584.3M3265.78 550.0V594.7M3267.03 555.8V582.5M3268.28 559.0V594.4M3269.53 560.0V596.6M3270.78 564.6V596.3M3272.03 581.5V606.3M3273.28 533.2V591.4M3274.53 570.9V596.9M3275.78 529.3V590.9M3277.03 534.1V588.0M3278.28 553.2V592.2M3279.53 541.6V585.2M3280.78 539.0V586.9M3282.03 538.9V575.1M3283.28 487.6V583.6M3284.53 575.2V589.2M3285.78 535.6V588.5M3287.03 567.2V600.0M3288.28 542.7V580.7M3289.53 480.4V548.0M3290.78 475.2V540.7M3292.03 477.4V581.7M3293.28 537.4V578.8M3294.53 499.1V569.7M3295.78 538.5V578.6M3297.03 535.2V568.2M3298.28 500.3V572.9M3299.53 510.9V582.5M3300.78 493.5V558.5M3302.03 471.8V564.8M3303.28 520.9V569.0M3304.53 530.1V563.9M3305.78 525.5V570.6M3307.03 533.1V564.1M3308.28 516.5V551.8M3309.53 546.5V581.0M3310.78 540.5V563.6M3312.03 537.4V564.3M3313.28 543.2V575.8M3314.53 529.0V575.0M3315.78 515.2V574.4M3317.03 532.0V573.5M3318.28 537.5V579.0M3319.53 542.0V580.4M3320.78 543.9V578.6M3322.03 519.9V565.1M3323.28 548.5V585.4M3324.53 558.5V576.2M3325.78 495.7V571.6M3327.03 505.2V566.7M3328.28 473.9V572.4M3329.53 554.2V574.1"/>
<path class="ti" d="M2688.7 658.1 V649.1M2829.9 658.1 V649.1M2972.4 658.1 V649.1M3113.7 658.1 V649.1M3256.1 658.1 V649.1M2686.4 477.4 H2703.9M2686.4 544.8 H2703.9M2686.4 612.0 H2703.9M2686.4 427.0 H2694.9M2686.4 443.8 H2694.9M2686.4 460.6 H2694.9M2686.4 494.3 H2694.9M2686.4 511.1 H2694.9M2686.4 527.9 H2694.9M2686.4 561.6 H2694.9M2686.4 578.4 H2694.9M2686.4 595.2 H2694.9M2686.4 628.9 H2694.9M2686.4 645.7 H2694.9"/>
<rect class="fr" x="2686.4" y="422.0" width="643.4" height="236.1"/>
<text class="tk" text-anchor="middle" x="2686.5" y="676.5">13h15</text>
<text class="tk" text-anchor="middle" x="2829.2" y="676.5">13h30</text>
<text class="tk" text-anchor="middle" x="2970.7" y="676.5">13h45</text>
<text class="tk" text-anchor="middle" x="3113.4" y="676.5">14h00</text>
<text class="tk" text-anchor="middle" x="3254.6" y="676.5">14h15</text>
<text class="tk" text-anchor="end" x="2680.4" y="484.1">5.108</text>
<text class="tk" text-anchor="end" x="2680.4" y="551.5">5.106</text>
<text class="tk" text-anchor="end" x="2680.4" y="618.8">5.104</text>
<text class="bt" x="2682.7" y="720.8">1452950102.0000 Jan20 2026 13:14:44 UTC</text>
</g>
<g>
<text class="tt" style="font-size:28.80px" x="460.6" y="772.5">EQB1_HD_M6_X_cmd_1kHz_mean__TIME</text>
<text class="un" transform="translate(36.3 789.1) rotate(-90)">V</text>
<path class="gr" d="M141.8 1025.5 V789.4M283.0 1025.5 V789.4M425.5 1025.5 V789.4M566.8 1025.5 V789.4M709.2 1025.5 V789.4M139.5 820.8 H782.9M139.5 872.7 H782.9M139.5 924.5 H782.9M139.5 976.4 H782.9"/>
<path class="cv" d="M140.12 967.9V987.4M141.38 970.3V993.7M142.62 961.2V984.6M143.88 971.3V986.7M145.12 964.2V981.4M146.38 961.2V971.0M147.62 954.4V972.7M148.88 957.3V976.5M150.12 959.1V982.2M151.38 955.5V970.7M152.62 951.1V967.6M153.88 948.4V964.1M155.12 947.7V966.8M156.38 944.7V958.5M157.62 945.3V970.1M158.88 962.4V976.1M160.12 946.9V980.1M161.38 937.5V982.5M162.62 976.3V985.8M163.88 963.4V985.4M165.12 972.3V981.3M166.38 967.3V990.2M167.62 951.2V973.5M168.88 949.2V959.9M170.12 955.4V969.0M171.38 968.6V993.5M172.62 947.9V968.9M173.88 951.5V962.4M175.12 954.6V971.5M176.38 953.7V980.7M177.62 959.2V982.2M178.88 944.7V962.3M180.12 932.7V958.6M181.38 941.5V963.0M182.62 945.5V961.6M183.88 939.0V953.0M185.12 936.1V952.0M186.38 951.7V966.9M187.62 945.9V960.2M188.88 946.5V959.4M190.12 955.6V974.7M191.38 957.8V974.6M192.62 947.7V964.2M193.88 959.6V972.2M195.12 948.2V965.8M196.38 952.8V959.3M197.62 932.5V955.6M198.88 927.9V940.5M200.12 925.0V944.8M201.38 936.1V945.7M202.62 942.5V952.9M203.88 943.4V955.1M205.12 950.2V970.4M206.38 949.9V963.3M207.62 948.9V976.3M208.88 956.2V973.1M210.12 944.4V967.8M211.38 935.3V968.6M212.62 942.0V960.8M213.88 950.6V965.7M215.12 943.6V957.7M216.38 949.0V963.6M217.62 950.0V966.0M218.88 953.8V977.0M220.12 944.7V956.3M221.38 947.6V959.4M222.62 951.4V959.5M223.88 947.7V971.4M225.12 957.4V966.5M226.38 957.0V975.7M227.62 957.1V967.3M228.88 949.7V969.3M230.12 961.1V981.1M231.38 964.9V975.9M232.62 946.8V975.2M233.88 953.0V964.5M235.12 964.5V981.2M236.38 963.6V991.7M237.62 976.4V983.9M238.88 970.6V979.9M240.12 964.7V986.7M241.38 950.0V972.8M242.62 949.1V971.7M243.88 952.0V964.3M245.12 950.4V966.3M246.38 960.9V977.9M247.62 964.0V978.0M248.88 973.6V989.0M250.12 960.5V974.5M251.38 955.1V978.8M252.62 957.4V965.4M253.88 947.3V960.3M255.12 952.0V966.8M256.38 954.3V964.8M257.62 932.7V961.5M258.88 938.7V945.9M260.12 935.2V959.6M261.38 930.5V939.3M262.62 929.8V954.5M263.88 954.5V963.8M265.12 951.4V970.7M266.38 970.4V981.4M267.62 955.8V984.5M268.88 967.8V978.3M270.12 968.3V979.6M271.38 961.8V976.5M272.62 956.6V983.6M273.88 978.1V999.9M275.12 964.7V981.8M276.38 973.7V985.6M277.62 952.4V983.7M278.88 947.7V978.8M280.12 938.9V973.7M281.38 931.2V958.9M282.62 915.5V940.1M283.88 916.1V943.0M285.12 924.9V937.4M286.38 916.1V936.0M287.62 914.6V927.3M288.88 909.1V936.6M290.12 928.9V941.8M291.38 933.0V952.8M292.62 950.3V960.6M293.88 950.6V965.2M295.12 957.2V965.6M296.38 951.6V962.0M297.62 951.4V961.9M298.88 945.2V956.4M300.12 943.9V955.6M301.38 942.8V958.1M302.62 933.7V955.4M303.88 929.2V952.7M305.12 931.4V950.2M306.38 946.1V988.1M307.62 968.5V986.6M308.88 950.0V975.3M310.12 958.4V964.9M311.38 936.3V961.5M312.62 941.0V960.7M313.88 931.3V954.8M315.12 929.3V958.9M316.38 934.5V950.7M317.62 923.8V935.5M318.88 917.3V934.1M320.12 912.8V931.6M321.38 906.3V926.0M322.62 919.7V938.3M323.88 915.0V932.2M325.12 908.7V927.6M326.38 900.6V926.4M327.62 908.4V929.2M328.88 919.1V932.5M330.12 918.9V942.2M331.38 931.7V949.3M332.62 949.3V975.5M333.88 955.7V970.4M335.12 956.4V982.2M336.38 965.2V980.2M337.62 967.6V983.9M338.88 975.4V987.1M340.12 972.6V980.1M341.38 947.1V973.5M342.62 933.8V951.3M343.88 912.2V940.2M345.12 906.9V921.6M346.38 894.9V923.0M347.62 914.4V931.9M348.88 930.0V937.8M350.12 932.7V957.5M351.38 948.6V961.9M352.62 937.9V954.9M353.88 946.5V964.7M355.12 946.8V965.3M356.38 958.5V972.7M357.62 960.6V973.5M358.88 966.1V981.2M360.12 959.4V986.0M361.38 963.8V977.3M362.62 958.6V973.3M363.88 946.0V965.3M365.12 941.2V959.3M366.38 944.8V958.6M367.62 945.4V956.3M368.88 945.6V971.0M370.12 933.2V960.6M371.38 934.4V952.9M372.62 913.4V943.9M373.88 913.7V942.9M375.12 937.1V957.1M376.38 949.6V958.8M377.62 936.6V951.6M378.88 922.3V936.6M380.12 926.2V939.4M381.38 906.6V934.0M382.62 900.6V920.1M383.88 893.7V914.7M385.12 900.7V915.9M386.38 907.6V920.6M387.62 903.4V920.6M388.88 914.2V921.6M390.12 907.2V920.6M391.38 912.1V932.9M392.62 931.5V945.5M393.88 935.6V954.0M395.12 925.7V948.3M396.38 935.8V950.1M397.62 927.5V944.6M398.88 921.8V937.0M400.12 910.6V926.1M401.38 901.8V927.2M402.62 901.3V925.9M403.88 901.9V923.6M405.12 912.8V922.0M406.38 905.1V921.1M407.62 906.2V927.7M408.88 914.4V935.6M410.12 922.6V941.5M411.38 919.7V942.6M412.62 919.0V939.8M413.88 918.5V934.3M415.12 919.6V945.0M416.38 924.7V943.0M417.62 942.6V955.3M418.88 937.6V960.3M420.12 928.3V945.5M421.38 920.9V930.0M422.62 922.6V945.0M423.88 900.7V935.8M425.12 905.0V930.2M426.38 915.2V927.7M427.62 905.5V929.7M428.88 908.9V926.0M430.12 903.3V917.1M431.38 897.6V920.3M432.62 909.8V926.3M433.88 908.4V922.0M435.12 904.2V911.9M436.38 911.9V928.5M437.62 914.7V932.3M438.88 932.3V953.8M440.12 943.2V967.8M441.38 939.7V957.5M442.62 939.9V960.8M443.88 924.7V939.9M445.12 913.1V935.5M446.38 909.7V927.9M447.62 912.3V924.8M448.88 902.0V915.9M450.12 906.4V913.7M451.38 905.1V925.5M452.62 915.9V925.5M453.88 900.0V924.1M455.12 914.6V933.5M456.38 916.7V938.2M457.62 924.4V935.3M458.88 931.7V949.8M460.12 924.9V945.9M461.38 929.9V948.7M462.62 913.6V929.9M463.88 907.6V927.2M465.12 904.9V926.2M466.38 908.4V918.1M467.62 891.8V915.6M468.88 894.9V904.6M470.12 891.6V907.9M471.38 901.2V907.2M472.62 898.1V912.6M473.88 896.4V906.7M475.12 888.6V899.2M476.38 888.5V901.5M477.62 882.7V897.1M478.88 879.9V901.1M480.12 886.8V908.2M481.38 882.8V906.0M482.62 879.1V902.3M483.88 889.4V908.4M485.12 897.1V914.1M486.38 901.0V916.8M487.62 903.2V921.1M488.88 911.1V925.2M490.12 913.6V927.3M491.38 925.9V953.0M492.62 922.9V942.9M493.88 916.5V933.0M495.12 912.1V925.3M496.38 878.8V917.3M497.62 882.2V896.2M498.88 881.1V897.5M500.12 895.7V905.7M501.38 890.7V900.9M502.62 895.3V922.7M503.88 891.7V906.0M505.12 893.8V906.1M506.38 898.5V911.8M507.62 890.5V909.2M508.88 893.2V912.8M510.12 879.7V917.8M511.38 877.5V887.6M512.62 877.5V892.8M513.88 873.7V886.9M515.12 874.0V891.0M516.38 868.6V881.5M517.62 877.1V909.2M518.88 866.1V888.7M520.12 859.9V880.3M521.38 828.7V867.1M522.62 851.7V878.8M523.88 861.4V877.2M525.12 856.3V887.2M526.38 873.7V885.7M527.62 874.5V892.2M528.88 866.0V881.5M530.12 869.1V882.5M531.38 872.5V894.4M532.62 881.4V894.8M533.88 871.6V882.7M535.12 873.5V887.2M536.38 876.8V892.5M537.62 870.8V902.6M538.88 851.8V875.7M540.12 858.1V874.4M541.38 866.3V894.8M542.62 877.2V894.4M543.88 865.8V888.5M545.12 885.4V897.4M546.38 873.2V894.1M547.62 867.9V884.6M548.88 867.1V882.9M550.12 863.6V877.4M551.38 874.3V893.9M552.62 877.9V898.8M553.88 876.3V893.5M555.12 860.3V876.6M556.38 861.0V882.7M557.62 850.1V876.7M558.88 845.9V872.9M560.12 850.7V868.1M561.38 850.3V863.8M562.62 847.1V867.9M563.88 862.0V884.7M565.12 874.9V899.1M566.38 860.3V885.1M567.62 872.4V887.7M568.88 874.4V897.9M570.12 862.9V879.3M571.38 871.5V883.0M572.62 860.0V876.8M573.88 849.7V884.8M575.12 845.6V859.7M576.38 841.1V861.8M577.62 850.0V857.9M578.88 846.5V869.5M580.12 851.5V871.6M581.38 857.1V870.5M582.62 862.3V874.0M583.88 852.1V862.3M585.12 858.2V881.1M586.38 860.8V877.5M587.62 870.1V894.9M588.88 891.2V920.4M590.12 903.9V921.3M591.38 895.3V915.7M592.62 866.0V911.0M593.88 883.2V896.2M595.12 867.8V887.4M596.38 870.3V891.2M597.62 856.4V888.6M598.88 856.8V866.0M600.12 847.8V863.9M601.38 849.3V874.1M602.62 850.4V868.7M603.88 840.4V853.1M605.12 835.2V857.4M606.38 837.1V870.0M607.62 863.7V875.7M608.88 848.1V871.3M610.12 860.0V874.9M611.38 866.8V875.5M612.62 855.0V866.8M613.88 857.2V878.0M615.12 863.2V884.3M616.38 847.9V869.5M617.62 847.8V862.5M618.88 837.8V856.7M620.12 844.0V864.8M621.38 856.1V870.5M622.62 865.2V880.7M623.88 863.9V881.8M625.12 863.1V878.0M626.38 849.8V868.7M627.62 845.8V864.5M628.88 859.4V871.2M630.12 853.5V871.9M631.38 854.4V876.9M632.62 860.4V875.8M633.88 860.4V877.5M635.12 877.5V892.5M636.38 858.1V888.8M637.62 855.4V872.2M638.88 846.4V870.9M640.12 864.0V873.5M641.38 847.7V872.4M642.62 846.6V862.9M643.88 845.9V858.3M645.12 852.1V868.3M646.38 851.1V883.3M647.62 868.5V878.5M648.88 870.4V894.3M650.12 881.3V894.6M651.38 884.0V909.0M652.62 880.1V897.6M653.88 875.5V891.3M655.12 865.8V883.4M656.38 854.4V866.8M657.62 842.3V873.0M658.88 850.0V866.2M660.12 846.6V866.0M661.38 865.2V886.8M662.62 869.9V890.3M663.88 879.3V893.4M665.12 869.9V893.6M666.38 882.6V899.1M667.62 885.1V897.6M668.88 887.1V891.9M670.12 882.1V892.8M671.38 884.1V893.5M672.62 861.0V888.4M673.88 854.0V872.5M675.12 857.7V874.5M676.38 854.0V873.0M677.62 847.2V875.3M678.88 844.9V858.8M680.12 834.8V844.9M681.38 834.4V845.4M682.62 825.4V840.9M683.88 840.7V854.6M685.12 828.5V860.5M686.38 822.1V846.5M687.62 818.3V844.9M688.88 816.9V825.0M690.12 822.4V831.0M691.38 820.5V852.5M692.62 819.7V841.5M693.88 838.6V860.9M695.12 854.0V864.2M696.38 856.1V876.8M697.62 861.0V875.5M698.88 870.0V879.9M700.12 855.9V874.5M701.38 855.7V876.3M702.62 847.3V865.7M703.88 846.7V872.2M705.12 837.5V856.0M706.38 828.3V842.6M707.62 810.7V848.0M708.88 816.6V849.3M710.12 836.9V848.8M711.38 841.1V848.6M712.62 847.3V873.7M713.88 848.9V874.1M715.12 857.3V877.5M716.38 862.7V875.3M717.62 862.3V878.9M718.88 863.3V879.0M720.12 863.4V876.1M721.38 871.6V888.5M722.62 868.1V886.1M723.88 867.4V881.5M725.12 869.9V883.0M726.38 853.8V880.0M727.62 855.7V873.8M728.88 862.1V876.2M730.12 865.2V893.3M731.38 863.9V886.1M732.62 865.0V902.3M733.88 868.0V897.8M735.12 848.8V874.9M736.38 850.4V887.8M737.62 871.8V892.5M738.88 853.5V881.3M740.12 853.2V870.2M741.38 848.8V871.7M742.62 850.6V869.6M743.88 855.2V876.7M745.12 849.4V868.5M746.38 851.8V867.5M747.62 842.3V864.1M748.88 834.4V859.9M750.12 844.3V854.9M751.38 848.9V863.6M752.62 851.3V865.3M753.88 847.1V874.7M755.12 854.9V879.9M756.38 853.4V867.7M757.62 842.0V857.8M758.88 838.4V859.3M760.12 834.6V857.7M761.38 849.4V861.3M762.62 852.9V860.5M763.88 856.3V864.5M765.12 855.4V875.0M766.38 858.7V869.2M767.62 855.3V864.3M768.88 858.0V868.7M770.12 843.5V858.4M771.38 846.6V859.6M772.62 844.1V859.4M773.88 837.9V857.2M775.12 847.9V879.5M776.38 864.1V893.6M777.62 873.3V892.3M778.88 860.4V883.3M780.12 852.2V866.1M781.38 850.4V873.2M782.62 850.5V874.3"/>
<path class="ti" d="M141.8 1025.5 V1016.5M283.0 1025.5 V1016.5M425.5 1025.5 V1016.5M566.8 1025.5 V1016.5M709.2 1025.5 V1016.5M139.5 820.8 H157.0M139.5 872.7 H157.0M139.5 924.5 H157.0M139.5 976.4 H157.0M139.5 794.9 H148.0M139.5 807.9 H148.0M139.5 833.8 H148.0M139.5 846.8 H148.0M139.5 859.7 H148.0M139.5 885.7 H148.0M139.5 898.6 H148.0M139.5 911.6 H148.0M139.5 937.5 H148.0M139.5 950.5 H148.0M139.5 963.4 H148.0M139.5 989.4 H148.0M139.5 1002.3 H148.0M139.5 1015.3 H148.0"/>
<rect class="fr" x="139.5" y="789.4" width="643.4" height="236.1"/>
<text class="tk" text-anchor="middle" x="139.6" y="1043.9">13h15</text>
<text class="tk" text-anchor="middle" x="282.3" y="1043.9">13h30</text>
<text class="tk" text-anchor="middle" x="423.8" y="1043.9">13h45</text>
<text class="tk" text-anchor="middle" x="566.5" y="1043.9">14h00</text>
<text class="tk" text-anchor="middle" x="707.7" y="1043.9">14h15</text>
<text class="tk" text-anchor="end" x="133.5" y="827.5">1.78</text>
<text class="tk" text-anchor="end" x="133.5" y="879.4">1.76</text>
<text class="tk" text-anchor="end" x="133.5" y="931.2">1.74</text>
<text class="tk" text-anchor="end" x="133.5" y="983.1">1.72</text>
<text class="bt" x="135.8" y="1088.2">1452950102.0000 Jan20 2026 13:14:44 UTC</text>
</g>
<g>
<text class="tt" style="font-size:28.80px" x="1308.5" y="772.5">EQB1_HD_M6_Y_cmd_1kHz_mean__TIME</text>
<text class="un" transform="translate(884.9 789.1) rotate(-90)">V</text>
<path class="gr" d="M990.4 1025.5 V789.4M1131.6 1025.5 V789.4M1274.1 1025.5 V789.4M1415.4 1025.5 V789.4M1557.8 1025.5 V789.4M988.1 807.0 H1631.5M988.1 858.9 H1631.5M988.1 910.8 H1631.5M988.1 962.6 H1631.5M988.1 1014.4 H1631.5"/>
<path class="cv" d="M988.73 922.8V953.7M989.98 903.4V937.8M991.23 910.9V950.4M992.48 931.4V954.3M993.73 898.7V957.1M994.98 896.0V950.0M996.23 934.1V964.7M997.48 919.3V945.6M998.73 888.6V927.7M999.98 902.6V939.5M1001.23 896.4V919.1M1002.48 883.2V934.1M1003.73 860.6V898.5M1004.98 871.8V904.7M1006.23 889.1V920.0M1007.48 904.1V948.4M1008.73 889.8V945.0M1009.98 890.3V965.2M1011.23 926.4V967.6M1012.48 904.7V952.4M1013.73 890.7V951.0M1014.98 885.9V910.3M1016.23 897.2V930.8M1017.48 915.7V936.1M1018.73 911.9V951.2M1019.98 892.9V951.5M1021.23 881.3V905.0M1022.48 884.8V910.5M1023.73 875.7V903.0M1024.97 879.0V948.7M1026.22 896.0V940.9M1027.47 889.8V929.6M1028.72 901.9V939.5M1029.97 906.4V945.8M1031.22 878.9V928.5M1032.47 877.3V929.5M1033.72 889.7V948.1M1034.97 921.1V942.1M1036.22 902.9V939.4M1037.47 906.0V931.3M1038.72 867.0V918.2M1039.97 863.0V895.0M1041.22 892.8V937.2M1042.47 902.8V931.1M1043.72 898.9V924.6M1044.97 901.2V936.1M1046.22 900.5V924.1M1047.47 897.8V926.3M1048.72 894.7V924.1M1049.97 888.4V915.5M1051.22 898.6V933.7M1052.47 914.0V930.9M1053.72 861.8V923.3M1054.97 899.8V929.8M1056.22 913.1V941.2M1057.47 902.3V923.3M1058.72 890.0V920.8M1059.97 891.9V936.1M1061.22 927.4V943.5M1062.47 906.8V944.5M1063.72 903.3V933.7M1064.97 880.5V940.6M1066.22 909.6V943.3M1067.47 924.3V986.7M1068.72 909.1V974.8M1069.97 904.1V947.4M1071.22 911.4V925.0M1072.47 907.8V939.6M1073.72 913.9V943.4M1074.97 906.7V934.5M1076.22 931.7V959.0M1077.47 925.8V949.3M1078.72 927.1V960.5M1079.97 919.4V943.3M1081.22 920.3V935.0M1082.47 916.7V936.4M1083.72 922.8V968.2M1084.97 919.9V971.7M1086.22 879.6V919.9M1087.47 900.3V920.2M1088.72 903.0V923.7M1089.97 907.5V945.0M1091.22 926.4V957.4M1092.47 922.2V952.2M1093.72 892.5V936.2M1094.97 885.9V924.3M1096.22 884.8V940.5M1097.47 925.6V952.5M1098.72 923.6V959.7M1099.97 915.1V942.0M1101.22 923.0V957.5M1102.47 905.8V941.4M1103.72 917.6V946.6M1104.97 925.8V945.8M1106.22 904.8V955.1M1107.47 910.7V944.7M1108.72 897.7V928.1M1109.97 895.4V937.8M1111.22 899.5V949.9M1112.47 879.1V939.9M1113.72 916.4V972.7M1114.97 933.3V960.1M1116.22 902.1V947.9M1117.47 880.2V923.2M1118.72 923.2V954.6M1119.97 923.9V948.0M1121.22 907.7V939.0M1122.47 909.4V937.1M1123.72 890.3V936.4M1124.97 931.9V949.6M1126.22 917.1V939.9M1127.47 897.7V944.9M1128.72 927.5V948.4M1129.97 925.9V944.5M1131.22 922.1V943.7M1132.47 894.7V938.3M1133.72 908.4V951.7M1134.97 925.9V957.6M1136.22 903.8V937.1M1137.47 937.1V965.4M1138.72 914.5V959.3M1139.97 920.7V952.2M1141.22 932.4V957.9M1142.47 927.1V982.3M1143.72 942.5V982.6M1144.97 920.7V980.9M1146.22 913.6V942.7M1147.47 930.8V963.6M1148.72 901.5V956.7M1149.97 899.8V952.9M1151.22 907.4V934.4M1152.47 898.9V949.6M1153.72 918.0V944.5M1154.97 897.4V928.6M1156.22 908.1V926.5M1157.47 899.0V917.5M1158.72 899.3V940.7M1159.97 890.8V933.6M1161.22 891.8V939.6M1162.47 885.0V928.7M1163.72 887.7V926.3M1164.97 911.4V964.1M1166.22 906.9V975.5M1167.47 916.7V941.3M1168.72 901.5V944.6M1169.97 902.6V955.3M1171.22 906.7V942.5M1172.47 938.5V973.3M1173.72 935.5V976.5M1174.97 912.4V945.2M1176.22 905.6V943.1M1177.47 899.8V921.5M1178.72 879.4V922.5M1179.97 884.9V918.3M1181.22 894.4V926.1M1182.47 894.5V938.9M1183.72 928.8V954.9M1184.97 907.2V944.4M1186.22 909.6V946.6M1187.47 913.9V958.4M1188.72 887.2V950.9M1189.97 898.1V930.4M1191.22 885.5V918.3M1192.47 897.9V923.5M1193.72 900.8V937.8M1194.97 906.5V961.1M1196.22 906.3V958.0M1197.47 903.9V933.1M1198.72 872.6V918.9M1199.97 869.2V916.3M1201.22 896.1V941.0M1202.47 900.5V957.4M1203.72 891.4V927.4M1204.97 888.3V918.5M1206.22 898.4V939.5M1207.47 922.8V959.9M1208.72 911.5V925.3M1209.97 913.2V939.0M1211.22 905.5V939.7M1212.47 890.3V932.9M1213.72 878.0V923.4M1214.97 892.2V932.0M1216.22 869.0V908.1M1217.47 881.2V919.2M1218.72 900.0V934.2M1219.97 880.7V926.8M1221.22 883.4V920.6M1222.47 917.0V934.9M1223.72 905.3V938.8M1224.97 876.7V935.8M1226.22 868.4V906.2M1227.47 894.4V913.2M1228.72 889.8V931.6M1229.97 901.1V932.5M1231.22 925.4V945.8M1232.47 926.5V959.4M1233.72 918.5V957.2M1234.97 902.6V960.6M1236.22 877.5V919.5M1237.47 887.2V915.4M1238.72 881.2V905.0M1239.97 881.6V921.1M1241.22 886.1V918.1M1242.47 883.0V919.5M1243.72 897.5V912.4M1244.97 876.1V913.2M1246.22 875.8V895.0M1247.47 895.0V940.0M1248.72 882.5V965.5M1249.97 841.1V914.1M1251.22 894.5V914.6M1252.47 894.1V915.8M1253.72 880.1V894.1M1254.97 881.4V923.5M1256.22 884.7V918.1M1257.47 902.8V946.3M1258.72 892.5V917.8M1259.97 903.0V922.3M1261.22 868.9V908.2M1262.47 875.3V919.5M1263.72 896.5V927.7M1264.97 899.1V925.8M1266.22 891.9V912.7M1267.47 892.1V946.6M1268.72 903.1V929.4M1269.97 890.2V931.5M1271.22 871.4V928.3M1272.47 876.0V917.3M1273.72 874.0V908.6M1274.97 867.4V909.9M1276.22 877.8V913.5M1277.47 904.4V941.6M1278.72 870.4V929.8M1279.97 866.1V909.9M1281.22 881.9V904.0M1282.47 897.4V930.1M1283.72 930.1V956.8M1284.97 890.5V952.4M1286.22 881.9V902.3M1287.47 864.6V883.8M1288.72 863.1V919.2M1289.97 886.8V906.0M1291.22 868.6V907.5M1292.47 874.2V910.4M1293.72 868.5V897.1M1294.97 872.2V896.6M1296.22 891.0V930.1M1297.47 901.1V932.3M1298.72 896.9V932.4M1299.97 872.6V919.8M1301.22 881.6V919.7M1302.47 894.7V922.7M1303.72 889.5V917.8M1304.97 868.1V889.5M1306.22 867.1V891.0M1307.47 883.6V908.0M1308.72 896.4V932.8M1309.97 898.8V923.7M1311.22 886.7V931.0M1312.47 889.3V918.1M1313.72 904.4V920.3M1314.97 875.7V923.0M1316.22 869.1V896.0M1317.47 865.6V906.0M1318.72 892.5V917.8M1319.97 844.4V892.5M1321.22 861.7V927.2M1322.47 902.7V935.4M1323.72 889.8V940.9M1324.97 870.3V891.1M1326.22 879.9V916.6M1327.47 892.9V907.7M1328.72 864.4V916.2M1329.97 842.0V893.8M1331.22 879.3V919.0M1332.47 853.5V905.6M1333.72 867.7V899.7M1334.97 858.4V900.0M1336.22 877.5V925.7M1337.47 870.7V908.4M1338.72 884.1V907.6M1339.97 868.4V904.9M1341.22 886.3V913.2M1342.47 903.2V931.6M1343.72 926.7V944.1M1344.97 918.6V938.4M1346.22 882.0V935.9M1347.47 871.7V893.1M1348.72 878.3V896.9M1349.97 866.9V894.5M1351.22 870.2V911.4M1352.47 891.1V905.3M1353.72 850.7V899.3M1354.97 867.2V899.1M1356.22 854.0V881.7M1357.47 851.1V900.6M1358.72 866.0V910.6M1359.97 852.6V882.5M1361.22 874.6V896.3M1362.47 861.4V881.3M1363.72 863.8V909.1M1364.97 865.6V908.5M1366.22 877.4V904.2M1367.47 881.4V909.8M1368.72 865.1V901.9M1369.97 863.4V884.1M1371.22 871.9V891.5M1372.47 856.0V901.0M1373.72 844.6V880.4M1374.97 864.3V891.4M1376.22 850.5V881.2M1377.47 846.1V903.8M1378.72 893.0V925.4M1379.97 896.9V914.1M1381.22 903.5V927.0M1382.47 887.7V926.9M1383.72 880.3V903.2M1384.97 881.5V904.7M1386.22 878.8V903.7M1387.47 867.5V912.0M1388.72 856.7V887.6M1389.97 862.2V892.1M1391.22 838.2V862.2M1392.47 856.8V884.1M1393.72 883.0V900.9M1394.97 900.9V935.4M1396.22 854.2V908.0M1397.47 848.3V880.1M1398.72 876.3V897.3M1399.97 849.4V891.9M1401.22 854.8V881.0M1402.47 854.6V885.5M1403.72 851.2V898.9M1404.97 863.1V900.1M1406.22 863.6V894.9M1407.47 856.9V874.8M1408.72 826.4V863.6M1409.97 827.1V889.7M1411.22 865.0V886.9M1412.47 861.1V889.6M1413.72 845.6V877.9M1414.97 856.5V920.2M1416.22 878.3V909.3M1417.47 859.2V896.1M1418.72 852.6V879.8M1419.97 831.4V877.4M1421.22 817.8V861.4M1422.47 826.9V858.8M1423.72 838.7V872.3M1424.97 823.1V866.3M1426.22 852.4V885.4M1427.47 865.1V896.1M1428.72 871.9V907.4M1429.97 871.2V888.0M1431.22 841.2V894.6M1432.47 867.2V900.8M1433.72 883.1V895.3M1434.97 877.1V907.3M1436.22 888.1V926.6M1437.47 856.3V897.2M1438.72 896.1V941.3M1439.97 900.7V930.0M1441.22 874.1V917.9M1442.47 866.4V925.0M1443.72 886.2V921.7M1444.97 887.1V921.1M1446.22 866.0V909.4M1447.47 867.3V904.2M1448.72 880.0V915.8M1449.97 889.3V909.5M1451.22 888.7V924.4M1452.47 880.4V921.6M1453.72 855.9V909.5M1454.97 850.4V892.1M1456.22 859.0V905.4M1457.47 874.2V889.8M1458.72 855.1V882.6M1459.97 854.8V884.1M1461.22 873.9V893.9M1462.47 856.9V881.2M1463.72 855.5V893.8M1464.97 870.5V908.3M1466.22 869.4V887.2M1467.47 828.6V890.8M1468.72 808.9V843.6M1469.97 843.6V859.8M1471.22 842.1V891.0M1472.47 842.2V877.1M1473.72 845.0V879.9M1474.97 804.0V845.0M1476.22 823.2V867.0M1477.47 831.0V861.8M1478.72 805.6V845.9M1479.97 808.4V846.5M1481.22 836.8V857.4M1482.47 851.8V889.6M1483.72 829.2V879.9M1484.97 824.7V863.1M1486.22 835.3V882.8M1487.47 823.6V876.3M1488.72 846.3V881.3M1489.97 855.4V879.6M1491.22 852.8V877.7M1492.47 847.4V874.7M1493.72 841.1V860.3M1494.97 824.7V863.7M1496.22 847.1V881.8M1497.47 810.7V861.2M1498.72 818.2V852.0M1499.97 845.3V877.6M1501.22 857.9V878.2M1502.47 863.5V877.9M1503.72 855.8V873.1M1504.97 834.3V866.7M1506.22 851.9V916.7M1507.47 891.8V923.9M1508.72 860.6V895.0M1509.97 854.2V888.8M1511.22 829.0V856.1M1512.47 831.1V854.0M1513.72 822.4V863.5M1514.97 832.0V855.2M1516.22 842.3V881.1M1517.47 875.4V897.7M1518.72 871.3V911.5M1519.97 873.5V924.7M1521.22 853.6V880.8M1522.47 855.8V908.1M1523.72 871.8V897.4M1524.97 856.4V900.5M1526.22 868.1V906.1M1527.47 842.7V898.7M1528.72 816.7V865.2M1529.97 837.3V882.5M1531.22 881.2V901.2M1532.47 873.8V884.1M1533.72 843.7V877.4M1534.97 828.6V867.2M1536.22 823.5V846.8M1537.47 823.8V846.3M1538.72 835.5V847.6M1539.97 826.8V844.7M1541.22 838.4V851.2M1542.47 834.5V890.9M1543.72 854.5V884.0M1544.97 834.6V885.8M1546.22 832.1V868.4M1547.47 843.0V864.9M1548.72 847.4V887.2M1549.97 843.0V871.3M1551.22 839.9V873.0M1552.47 846.1V865.6M1553.72 848.5V862.1M1554.97 854.5V884.0M1556.22 832.8V872.8M1557.47 842.0V865.7M1558.72 847.2V871.3M1559.97 842.1V858.8M1561.22 834.2V874.0M1562.47 837.9V886.8M1563.72 817.8V856.6M1564.97 834.9V867.3M1566.22 838.6V875.2M1567.47 853.0V878.3M1568.72 845.3V868.8M1569.97 845.4V883.5M1571.22 838.4V871.7M1572.47 826.8V861.5M1573.72 853.6V895.5M1574.97 839.9V894.2M1576.22 839.1V889.3M1577.47 873.7V911.3M1578.72 871.2V902.9M1579.97 863.2V895.4M1581.22 853.0V885.9M1582.47 847.3V873.2M1583.72 853.5V866.0M1584.97 825.8V870.4M1586.22 841.6V854.2M1587.47 836.1V860.0M1588.72 849.1V880.1M1589.97 859.1V885.6M1591.22 840.2V896.5M1592.47 839.4V872.9M1593.72 828.2V865.6M1594.97 826.9V869.6M1596.22 851.7V877.0M1597.47 826.7V867.5M1598.72 832.8V880.4M1599.97 836.8V870.4M1601.22 832.6V863.4M1602.47 833.0V865.2M1603.72 833.9V857.5M1604.97 820.0V852.8M1606.22 839.6V850.4M1607.47 843.6V885.4M1608.72 864.7V888.5M1609.97 850.0V871.2M1611.22 840.5V909.7M1612.47 850.9V881.1M1613.72 846.4V874.2M1614.97 823.3V881.8M1616.22 842.7V865.2M1617.47 852.0V864.1M1618.72 837.0V855.3M1619.97 833.6V868.4M1621.22 860.5V883.0M1622.47 841.4V871.7M1623.72 857.7V870.5M1624.97 817.9V868.4M1626.22 817.2V873.3M1627.47 830.2V875.1M1628.72 808.8V842.1M1629.97 820.5V870.1M1631.22 858.0V877.2"/>
<path class="ti" d="M990.4 1025.5 V1016.5M1131.6 1025.5 V1016.5M1274.1 1025.5 V1016.5M1415.4 1025.5 V1016.5M1557.8 1025.5 V1016.5M988.1 807.0 H1005.6M988.1 858.9 H1005.6M988.1 910.8 H1005.6M988.1 962.6 H1005.6M988.1 1014.4 H1005.6M988.1 794.1 H996.6M988.1 820.0 H996.6M988.1 833.0 H996.6M988.1 845.9 H996.6M988.1 871.9 H996.6M988.1 884.8 H996.6M988.1 897.8 H996.6M988.1 923.7 H996.6M988.1 936.7 H996.6M988.1 949.6 H996.6M988.1 975.6 H996.6M988.1 988.5 H996.6M988.1 1001.5 H996.6"/>
<rect class="fr" x="988.1" y="789.4" width="643.4" height="236.1"/>
<text class="tk" text-anchor="middle" x="988.2" y="1043.9">13h15</text>
<text class="tk" text-anchor="middle" x="1130.9" y="1043.9">13h30</text>
<text class="tk" text-anchor="middle" x="1272.4" y="1043.9">13h45</text>
<text class="tk" text-anchor="middle" x="1415.1" y="1043.9">14h00</text>
<text class="tk" text-anchor="middle" x="1556.3" y="1043.9">14h15</text>
<text class="tk" text-anchor="end" x="982.1" y="813.8">0.18</text>
<text class="tk" text-anchor="end" x="982.1" y="865.6">0.16</text>
<text class="tk" text-anchor="end" x="982.1" y="917.5">0.14</text>
<text class="tk" text-anchor="end" x="982.1" y="969.3">0.12</text>
<text class="tk" text-anchor="end" x="982.1" y="1021.1">0.1</text>
<text class="bt" x="984.4" y="1088.2">1452950102.0000 Jan20 2026 13:14:44 UTC</text>
</g>
<g>
<text class="tt" style="font-size:28.80px" x="2156.8" y="772.5">EQB1_MAIN_PLL_PD1_DC_mean__TIME</text>
<text class="un" transform="translate(1734.8 789.1) rotate(-90)">V</text>
<path class="gr" d="M1840.2 1025.5 V789.4M1981.5 1025.5 V789.4M2123.9 1025.5 V789.4M2265.2 1025.5 V789.4M2407.7 1025.5 V789.4M1838.0 815.6 H2481.3M1838.0 897.6 H2481.3M1838.0 979.6 H2481.3"/>
<path class="cv" d="M1838.58 958.6V966.0M1839.83 956.1V962.7M1841.08 950.8V956.1M1842.33 943.5V953.2M1843.58 933.9V943.5M1844.83 916.3V934.8M1846.08 907.0V916.3M1847.33 893.5V909.4M1848.58 878.2V894.5M1849.83 869.5V879.7M1851.08 862.2V870.0M1852.33 849.5V863.6M1853.58 841.2V853.4M1854.83 826.8V841.3M1856.08 819.4V827.5M1857.33 814.5V819.7M1858.58 816.7V821.0M1859.83 812.0V818.6M1861.08 811.0V817.0M1862.33 811.6V814.8M1863.58 810.6V814.8M1864.83 812.9V816.7M1866.08 810.5V814.9M1867.33 809.1V816.1M1868.58 814.4V818.2M1869.83 814.1V816.8M1871.08 812.1V817.2M1872.33 815.0V819.2M1873.58 814.8V824.0M1874.83 816.1V825.6M1876.08 817.9V823.4M1877.33 820.9V825.0M1878.58 818.4V824.0M1879.83 824.0V828.8M1881.08 826.3V831.6M1882.33 827.2V831.7M1883.58 828.5V834.9M1884.83 831.0V838.5M1886.08 834.0V841.6M1887.33 840.9V845.5M1888.58 840.9V847.4M1889.83 847.4V858.9M1891.08 858.2V866.1M1892.33 866.1V875.2M1893.58 872.5V875.8M1894.83 862.3V872.5M1896.08 864.6V870.2M1897.33 862.5V869.6M1898.58 863.3V865.8M1899.83 863.9V869.4M1901.08 867.3V869.3M1902.33 867.0V872.2M1903.58 871.3V877.4M1904.83 877.4V884.2M1906.08 883.8V895.3M1907.33 891.6V897.6M1908.58 897.1V906.3M1909.83 906.3V910.7M1911.08 907.2V926.3M1912.33 926.3V931.4M1913.58 931.4V938.8M1914.83 938.8V950.1M1916.08 946.4V951.2M1917.33 948.0V955.4M1918.58 951.4V956.6M1919.83 955.0V959.2M1921.08 956.9V961.8M1922.33 957.4V964.1M1923.58 957.6V963.6M1924.83 962.4V965.3M1926.08 961.9V975.3M1927.33 975.3V985.6M1928.58 983.2V992.7M1929.83 991.3V998.7M1931.08 997.5V1004.5M1932.33 998.9V1004.1M1933.58 1001.3V1007.1M1934.83 1000.4V1005.8M1936.08 1001.4V1005.5M1937.33 999.4V1004.7M1938.58 997.9V1004.1M1939.83 998.4V1000.9M1941.08 994.2V999.5M1942.33 991.0V994.3M1943.58 991.6V993.7M1944.83 987.4V992.6M1946.08 979.9V987.4M1947.33 974.6V980.9M1948.58 970.4V975.0M1949.83 965.9V971.9M1951.08 969.2V975.3M1952.33 964.2V973.2M1953.58 967.5V971.3M1954.83 966.5V970.8M1956.08 968.4V971.6M1957.33 971.1V978.2M1958.58 978.2V983.8M1959.83 977.8V982.8M1961.08 972.5V979.9M1962.33 973.7V978.2M1963.58 970.3V979.6M1964.83 967.1V971.4M1966.08 964.8V971.1M1967.33 959.6V968.8M1968.58 959.8V965.4M1969.83 964.5V967.2M1971.08 963.9V967.7M1972.33 962.5V965.3M1973.58 959.7V963.9M1974.83 955.9V964.2M1976.08 957.4V960.6M1977.33 955.6V960.8M1978.58 947.0V957.3M1979.83 935.1V951.7M1981.08 921.5V935.1M1982.33 910.6V921.8M1983.58 903.0V910.6M1984.83 894.6V903.1M1986.08 881.6V894.6M1987.33 876.1V883.5M1988.58 875.3V877.9M1989.83 872.2V875.8M1991.08 869.3V876.6M1992.33 860.4V871.3M1993.58 856.2V861.4M1994.83 851.0V856.2M1996.08 851.8V859.0M1997.33 843.7V856.8M1998.58 845.7V848.8M1999.83 847.8V852.0M2001.08 851.8V857.1M2002.33 852.1V857.2M2003.58 852.2V855.3M2004.83 851.7V854.9M2006.08 851.6V858.2M2007.33 857.6V867.1M2008.58 867.1V876.0M2009.83 870.3V875.9M2011.08 867.8V872.8M2012.33 867.8V873.2M2013.58 868.3V872.0M2014.83 867.7V872.1M2016.08 868.0V873.8M2017.33 871.0V875.5M2018.58 873.7V878.6M2019.83 874.3V878.8M2021.08 864.8V874.3M2022.33 857.0V864.8M2023.58 850.7V857.0M2024.83 848.2V853.7M2026.08 844.2V850.6M2027.33 843.8V849.4M2028.58 845.8V856.1M2029.83 852.9V860.3M2031.08 860.1V866.7M2032.33 864.2V873.3M2033.58 870.2V875.1M2034.83 864.6V872.1M2036.08 861.6V869.1M2037.33 854.6V861.6M2038.58 849.5V857.3M2039.83 847.9V853.8M2041.08 843.6V848.3M2042.33 839.9V845.4M2043.58 837.8V840.3M2044.83 835.8V843.1M2046.08 834.1V836.7M2047.33 835.8V839.3M2048.57 835.7V842.1M2049.82 840.4V850.7M2051.07 847.6V852.6M2052.32 850.3V854.4M2053.57 849.5V856.7M2054.82 851.0V854.8M2056.07 846.9V851.0M2057.32 843.7V849.9M2058.57 847.4V850.4M2059.82 845.1V851.8M2061.07 846.5V851.7M2062.32 848.7V853.8M2063.57 849.9V854.4M2064.82 848.8V851.3M2066.07 849.8V852.2M2067.32 850.4V852.9M2068.57 849.2V854.3M2069.82 852.5V856.1M2071.07 854.9V858.2M2072.32 850.5V857.4M2073.57 852.6V856.6M2074.82 854.9V859.6M2076.07 854.6V860.3M2077.32 852.4V855.5M2078.57 847.1V854.5M2079.82 842.1V848.2M2081.07 836.3V844.0M2082.32 831.8V836.8M2083.57 824.6V833.0M2084.82 820.0V825.7M2086.07 822.5V827.0M2087.32 822.7V827.8M2088.57 825.4V833.2M2089.82 829.2V832.4M2091.07 831.5V836.6M2092.32 828.0V834.7M2093.57 831.1V836.4M2094.82 834.5V839.0M2096.07 832.1V837.6M2097.32 827.0V835.3M2098.57 824.7V831.4M2099.82 819.7V825.1M2101.07 813.8V821.4M2102.32 811.3V817.3M2103.57 814.5V824.2M2104.82 820.6V826.8M2106.07 823.6V829.5M2107.32 823.6V828.4M2108.57 822.5V825.9M2109.82 817.8V822.5M2111.07 810.6V818.7M2112.32 810.3V815.6M2113.57 807.5V814.8M2114.82 810.8V818.5M2116.07 810.5V815.5M2117.32 808.1V815.0M2118.57 812.7V818.1M2119.82 815.6V830.6M2121.07 827.6V833.8M2122.32 829.0V834.1M2123.57 829.1V832.9M2124.82 825.7V830.0M2126.07 829.0V834.6M2127.32 825.6V833.5M2128.57 828.7V834.6M2129.82 834.6V842.5M2131.07 833.5V837.9M2132.32 837.9V841.4M2133.57 841.1V852.7M2134.82 852.7V864.9M2136.07 864.9V873.1M2137.32 871.6V876.4M2138.57 876.3V888.5M2139.82 887.1V899.0M2141.07 898.3V905.3M2142.32 903.2V908.5M2143.57 906.8V912.0M2144.82 906.9V914.0M2146.07 911.8V917.0M2147.32 911.9V918.0M2148.57 916.8V919.4M2149.82 919.4V927.3M2151.07 925.9V929.6M2152.32 921.6V927.3M2153.57 921.3V925.0M2154.82 920.4V926.2M2156.07 921.2V924.8M2157.32 919.8V925.2M2158.57 909.7V919.8M2159.82 897.9V909.7M2161.07 883.3V897.9M2162.32 870.9V883.3M2163.57 864.3V870.9M2164.82 855.3V864.3M2166.07 853.4V858.7M2167.32 847.7V853.9M2168.57 839.3V849.9M2169.82 837.3V843.2M2171.07 828.5V838.2M2172.32 824.5V828.5M2173.57 824.3V826.5M2174.82 825.1V832.6M2176.07 830.7V833.8M2177.32 830.0V834.4M2178.57 829.1V835.5M2179.82 831.8V838.2M2181.07 834.7V838.5M2182.32 834.4V839.1M2183.57 833.5V839.3M2184.82 832.5V839.3M2186.07 837.4V843.4M2187.32 842.3V848.7M2188.57 848.3V850.2M2189.82 847.3V851.6M2191.07 848.3V852.4M2192.32 846.3V850.6M2193.57 846.4V849.7M2194.82 846.9V851.2M2196.07 850.6V856.4M2197.32 851.2V863.5M2198.57 863.5V870.5M2199.82 870.5V877.3M2201.07 876.6V882.6M2202.32 878.0V885.4M2203.57 883.8V887.0M2204.82 884.2V889.8M2206.07 888.0V893.8M2207.32 886.7V893.2M2208.57 881.2V887.1M2209.82 882.1V888.2M2211.07 880.8V884.4M2212.32 883.6V887.8M2213.57 885.4V891.7M2214.82 889.1V897.5M2216.07 897.5V902.6M2217.32 902.6V913.5M2218.57 913.4V920.2M2219.82 920.2V926.6M2221.07 926.6V944.4M2222.32 938.0V942.3M2223.57 935.6V941.2M2224.82 928.3V935.6M2226.07 921.4V929.3M2227.32 915.0V922.9M2228.57 904.1V915.0M2229.82 893.6V904.1M2231.07 883.0V893.6M2232.32 877.5V885.6M2233.57 877.6V883.8M2234.82 871.9V878.4M2236.07 869.5V873.3M2237.32 869.2V872.0M2238.57 866.6V874.3M2239.82 864.4V869.1M2241.07 858.8V867.4M2242.32 852.3V860.7M2243.57 848.6V854.2M2244.82 847.9V852.8M2246.07 851.6V858.2M2247.32 855.2V858.2M2248.57 858.2V864.6M2249.82 863.9V870.1M2251.07 867.7V871.5M2252.32 865.9V871.6M2253.57 867.9V870.3M2254.82 866.7V872.6M2256.07 868.4V872.4M2257.32 867.3V872.8M2258.57 871.1V882.6M2259.82 882.6V893.9M2261.07 893.9V901.5M2262.32 900.1V906.5M2263.57 906.5V912.0M2264.82 910.9V916.5M2266.07 915.7V926.4M2267.32 926.4V933.3M2268.57 933.3V941.0M2269.82 940.6V948.4M2271.07 947.0V953.1M2272.32 946.8V958.1M2273.57 952.6V956.0M2274.82 952.7V956.5M2276.07 951.9V956.1M2277.32 952.5V955.4M2278.57 952.7V962.9M2279.82 957.6V962.6M2281.07 962.1V970.3M2282.32 969.7V977.3M2283.57 976.3V981.5M2284.82 981.5V990.8M2286.07 983.7V988.1M2287.32 986.7V989.3M2288.57 983.7V989.0M2289.82 984.8V991.1M2291.07 989.4V992.6M2292.32 991.2V997.5M2293.57 993.3V997.0M2294.82 994.8V999.1M2296.07 996.2V1000.4M2297.32 999.3V1006.8M2298.57 1000.7V1003.1M2299.82 998.5V1002.9M2301.07 995.0V1001.0M2302.32 989.8V997.3M2303.57 990.8V994.7M2304.82 990.0V995.2M2306.07 990.5V996.8M2307.32 993.3V998.3M2308.57 995.8V1000.1M2309.82 991.9V998.3M2311.07 998.3V1003.9M2312.32 1000.5V1004.6M2313.57 995.3V1001.6M2314.82 996.1V998.9M2316.07 996.6V1001.5M2317.32 995.9V1000.5M2318.57 996.5V1000.5M2319.82 996.9V1002.3M2321.07 999.5V1003.4M2322.32 995.3V1003.6M2323.57 994.4V998.2M2324.82 991.6V996.4M2326.07 989.3V996.9M2327.32 988.5V991.3M2328.57 986.6V991.2M2329.82 980.2V987.0M2331.07 984.9V988.6M2332.32 983.4V989.3M2333.57 980.8V985.0M2334.82 981.0V988.8M2336.07 980.7V982.6M2337.32 976.8V986.4M2338.57 975.7V979.0M2339.82 971.4V977.5M2341.07 970.2V974.7M2342.32 966.5V972.8M2343.57 963.4V968.4M2344.82 961.3V968.4M2346.07 956.3V961.3M2347.32 947.6V959.3M2348.57 946.1V950.1M2349.82 936.2V946.6M2351.07 937.1V943.6M2352.32 943.6V949.6M2353.57 945.3V948.0M2354.82 948.0V952.4M2356.07 951.1V954.0M2357.32 950.5V954.6M2358.57 942.8V951.8M2359.82 933.7V942.8M2361.07 933.6V937.2M2362.32 930.1V933.6M2363.57 924.2V930.1M2364.82 921.4V925.7M2366.07 919.0V928.6M2367.32 917.8V921.3M2368.57 909.6V920.0M2369.82 903.4V909.6M2371.07 901.3V906.8M2372.32 903.1V910.1M2373.57 903.6V909.8M2374.82 907.1V913.9M2376.07 909.6V913.9M2377.32 909.2V913.3M2378.57 909.3V915.3M2379.82 909.7V915.3M2381.07 911.8V917.1M2382.32 911.8V917.3M2383.57 915.9V919.7M2384.82 913.5V919.9M2386.07 911.2V917.9M2387.32 910.1V915.8M2388.57 910.5V914.5M2389.82 911.8V917.5M2391.07 909.4V914.7M2392.32 909.1V913.1M2393.57 903.4V910.6M2394.82 903.8V908.6M2396.07 904.3V909.3M2397.32 906.9V910.7M2398.57 908.7V913.8M2399.82 913.0V915.9M2401.07 910.6V917.2M2402.32 908.1V923.0M2403.57 916.1V922.2M2404.82 912.4V919.2M2406.07 898.6V917.2M2407.32 890.2V899.3M2408.57 885.6V890.2M2409.82 874.9V885.6M2411.07 864.0V876.5M2412.32 856.1V864.7M2413.57 853.6V858.8M2414.82 852.4V857.6M2416.07 855.1V859.0M2417.32 856.7V860.4M2418.57 856.2V860.4M2419.82 854.6V860.0M2421.07 855.9V863.7M2422.32 860.6V868.3M2423.57 859.5V865.5M2424.82 854.8V860.1M2426.07 846.8V854.8M2427.32 841.2V850.5M2428.57 834.5V841.4M2429.82 829.7V834.5M2431.07 828.0V830.3M2432.32 828.7V839.4M2433.57 839.4V844.1M2434.82 843.6V848.0M2436.07 846.6V853.7M2437.32 849.6V855.4M2438.57 846.5V850.1M2439.82 842.2V848.0M2441.07 838.9V845.7M2442.32 836.5V839.1M2443.57 830.3V837.8M2444.82 826.8V831.9M2446.07 824.9V828.9M2447.32 818.0V825.6M2448.57 812.5V818.3M2449.82 812.2V816.0M2451.07 815.2V817.7M2452.32 817.5V823.6M2453.57 822.1V829.1M2454.82 828.0V832.5M2456.07 828.8V834.8M2457.32 834.8V839.5M2458.57 835.5V841.7M2459.82 841.7V846.7M2461.07 845.1V854.2M2462.32 854.2V861.7M2463.57 858.3V863.5M2464.82 862.1V874.7M2466.07 874.7V884.8M2467.32 884.8V893.9M2468.57 890.6V904.3M2469.82 904.3V912.1M2471.07 912.1V923.3M2472.32 923.3V929.8M2473.57 927.7V938.0M2474.82 937.0V945.8M2476.07 944.6V954.5M2477.32 951.7V954.4M2478.57 953.2V957.3M2479.82 950.5V956.5M2481.07 953.1V957.4"/>
<path class="ti" d="M1840.2 1025.5 V1016.5M1981.5 1025.5 V1016.5M2123.9 1025.5 V1016.5M2265.2 1025.5 V1016.5M2407.7 1025.5 V1016.5M1838.0 815.6 H1855.5M1838.0 897.6 H1855.5M1838.0 979.6 H1855.5M1838.0 799.2 H1846.5M1838.0 832.0 H1846.5M1838.0 848.4 H1846.5M1838.0 864.8 H1846.5M1838.0 881.2 H1846.5M1838.0 914.0 H1846.5M1838.0 930.4 H1846.5M1838.0 946.8 H1846.5M1838.0 963.2 H1846.5M1838.0 996.0 H1846.5M1838.0 1012.4 H1846.5"/>
<rect class="fr" x="1838.0" y="789.4" width="643.4" height="236.1"/>
<text class="tk" text-anchor="middle" x="1838.0" y="1043.9">13h15</text>
<text class="tk" text-anchor="middle" x="1980.8" y="1043.9">13h30</text>
<text class="tk" text-anchor="middle" x="2122.2" y="1043.9">13h45</text>
<text class="tk" text-anchor="middle" x="2264.9" y="1043.9">14h00</text>
<text class="tk" text-anchor="middle" x="2406.2" y="1043.9">14h15</text>
<text class="tk" text-anchor="end" x="1832.0" y="822.3">0.23</text>
<text class="tk" text-anchor="end" x="1832.0" y="904.3">0.225</text>
<text class="tk" text-anchor="end" x="1832.0" y="986.3">0.22</text>
<text class="bt" x="1834.2" y="1088.2">1452950102.0000 Jan20 2026 13:14:44 UTC</text>
</g>
<g>
<text class="tt" style="font-size:28.80px" x="3006.8" y="772.5">EQB1_MAIN_PLL_PD2_DC_mean__TIME</text>
<text class="un" transform="translate(2583.2 789.1) rotate(-90)">V</text>
<path class="gr" d="M2688.7 1025.5 V789.4M2829.9 1025.5 V789.4M2972.4 1025.5 V789.4M3113.7 1025.5 V789.4M3256.1 1025.5 V789.4M2686.4 845.8 H3329.8M2686.4 946.9 H3329.8"/>
<path class="cv" d="M2687.03 949.3V955.2M2688.28 947.2V953.7M2689.53 937.7V947.9M2690.78 940.7V944.2M2692.03 931.6V941.4M2693.28 915.9V931.6M2694.53 908.1V918.3M2695.78 894.0V908.1M2697.03 885.3V894.0M2698.28 873.8V885.3M2699.53 865.4V875.4M2700.78 853.3V865.4M2702.03 844.4V854.0M2703.28 832.1V846.5M2704.53 827.6V832.4M2705.78 819.9V827.6M2707.03 819.1V823.3M2708.28 817.5V826.8M2709.53 817.0V822.7M2710.78 817.0V824.3M2712.03 820.2V824.3M2713.28 821.8V829.0M2714.53 823.2V829.3M2715.78 826.1V830.9M2717.03 829.0V833.0M2718.28 830.2V836.8M2719.53 835.3V840.6M2720.78 833.7V838.1M2722.03 831.0V835.0M2723.28 834.7V836.6M2724.53 830.0V835.8M2725.78 826.6V836.6M2727.03 829.4V835.9M2728.28 834.4V838.2M2729.53 837.9V842.2M2730.78 840.7V853.9M2732.03 844.4V850.5M2733.28 846.3V851.0M2734.53 844.5V852.6M2735.78 852.6V859.5M2737.03 857.5V865.1M2738.28 863.9V871.2M2739.53 871.2V880.9M2740.78 879.1V887.2M2742.03 884.9V892.7M2743.28 887.2V892.8M2744.53 881.1V888.4M2745.78 877.5V881.1M2747.03 878.7V883.4M2748.28 876.6V880.7M2749.53 877.2V880.9M2750.78 876.9V883.4M2752.03 880.1V887.3M2753.28 885.1V894.5M2754.53 894.5V905.4M2755.78 904.7V911.1M2757.03 910.1V917.8M2758.28 917.8V927.0M2759.53 921.0V928.7M2760.78 928.7V944.7M2762.03 944.7V951.9M2763.28 950.1V958.0M2764.53 953.8V961.0M2765.78 955.3V962.3M2767.03 960.0V966.7M2768.28 963.5V969.3M2769.53 961.4V968.4M2770.78 958.3V968.2M2772.03 966.8V970.6M2773.28 969.3V972.4M2774.53 970.9V979.4M2775.78 977.9V988.3M2777.03 988.3V994.2M2778.28 991.8V1002.6M2779.53 993.9V998.0M2780.78 997.2V1002.0M2782.03 993.9V1000.9M2783.28 1000.9V1004.9M2784.53 1003.1V1004.9M2785.78 1001.6V1003.9M2787.03 1002.0V1008.7M2788.28 996.5V1008.6M2789.53 995.6V998.4M2790.78 995.5V1000.1M2792.03 995.1V999.3M2793.28 991.0V997.3M2794.53 985.5V994.2M2795.78 978.3V986.3M2797.03 974.6V978.3M2798.28 971.8V975.0M2799.53 967.4V975.6M2800.78 966.2V973.5M2802.03 968.0V973.1M2803.28 968.5V975.2M2804.53 968.1V971.9M2805.78 971.6V982.6M2807.03 977.9V981.2M2808.28 976.3V981.4M2809.53 973.6V983.9M2810.78 976.6V981.5M2812.03 975.6V979.1M2813.28 972.6V976.4M2814.53 965.2V974.1M2815.78 963.9V969.2M2817.03 965.3V970.0M2818.28 963.7V971.1M2819.53 960.6V965.5M2820.78 965.5V969.5M2822.03 963.4V973.3M2823.28 965.5V971.1M2824.53 963.0V972.1M2825.78 956.4V968.1M2827.03 949.2V956.4M2828.28 931.7V951.1M2829.53 920.3V931.7M2830.78 914.8V920.3M2832.03 904.1V916.5M2833.28 895.9V904.1M2834.53 890.3V898.0M2835.78 883.4V892.2M2837.03 881.5V887.0M2838.28 876.0V883.3M2839.53 872.5V878.3M2840.78 870.9V875.9M2842.03 862.5V872.5M2843.28 859.4V864.2M2844.53 859.0V862.5M2845.78 856.0V860.9M2847.03 852.1V856.3M2848.28 850.3V861.7M2849.53 859.5V864.3M2850.78 855.0V861.8M2852.03 855.0V861.9M2853.28 854.2V859.8M2854.53 854.4V857.3M2855.78 856.6V861.5M2857.03 859.4V871.2M2858.28 870.5V875.0M2859.53 867.1V873.2M2860.78 870.3V875.6M2862.03 866.6V873.7M2863.28 870.4V875.3M2864.53 869.0V876.9M2865.78 872.6V878.2M2867.03 877.8V884.2M2868.28 877.3V883.3M2869.53 873.3V879.5M2870.78 864.1V874.7M2872.03 861.4V864.8M2873.28 853.9V861.4M2874.53 853.4V857.1M2875.78 854.2V859.6M2877.03 856.2V862.7M2878.28 862.7V868.5M2879.53 865.6V873.2M2880.78 868.6V875.4M2882.03 871.4V877.3M2883.28 871.7V878.0M2884.53 870.1V874.7M2885.78 868.5V871.4M2887.03 864.0V870.7M2888.28 857.3V865.7M2889.53 851.1V862.3M2890.78 848.9V854.5M2892.03 850.3V855.6M2893.28 845.2V852.8M2894.53 847.0V849.9M2895.78 847.1V850.3M2897.03 849.9V854.6M2898.28 852.3V860.7M2899.53 856.2V862.6M2900.78 860.8V866.8M2902.03 861.1V867.6M2903.28 858.2V864.9M2904.53 861.3V864.9M2905.78 860.7V864.6M2907.03 863.3V869.8M2908.28 861.5V868.3M2909.53 861.5V865.1M2910.78 864.1V867.6M2912.03 862.2V867.5M2913.28 862.9V871.8M2914.53 867.9V874.8M2915.78 869.3V875.7M2917.03 873.2V875.7M2918.28 869.5V875.9M2919.53 872.7V875.6M2920.78 874.8V880.9M2922.03 868.9V875.4M2923.28 870.9V877.1M2924.53 869.8V875.1M2925.78 870.6V872.7M2927.03 869.3V873.6M2928.28 868.2V873.2M2929.53 854.1V872.1M2930.78 843.4V854.1M2932.03 838.8V845.6M2933.28 835.2V840.5M2934.53 831.2V837.5M2935.78 834.8V837.5M2937.03 832.1V838.7M2938.28 837.7V843.8M2939.53 838.3V846.4M2940.78 839.7V845.9M2942.03 845.2V849.7M2943.28 848.3V852.5M2944.53 844.8V851.8M2945.78 836.6V844.8M2947.03 829.0V837.1M2948.28 830.0V836.0M2949.53 827.0V832.0M2950.78 823.6V828.3M2952.03 820.1V824.2M2953.28 818.6V829.0M2954.53 828.8V834.9M2955.78 826.7V831.1M2957.03 824.3V828.2M2958.28 816.6V824.3M2959.53 814.5V821.3M2960.78 815.7V818.0M2962.03 815.9V819.6M2963.28 814.6V818.3M2964.53 814.0V821.2M2965.78 819.4V824.7M2967.03 821.0V825.6M2968.28 824.8V830.9M2969.53 830.1V836.7M2970.78 836.3V839.3M2972.03 835.7V841.4M2973.28 830.4V837.0M2974.53 832.8V834.8M2975.78 834.3V839.8M2977.03 836.5V840.5M2978.28 836.6V842.0M2979.53 841.0V848.4M2980.78 845.6V850.9M2982.03 847.0V854.2M2983.28 852.0V861.7M2984.53 860.7V869.5M2985.78 869.3V876.6M2987.03 876.2V883.5M2988.28 880.9V893.3M2989.53 893.3V901.0M2990.78 900.6V907.1M2992.03 901.9V904.7M2993.28 901.7V908.1M2994.53 904.7V909.6M2995.78 905.3V914.4M2997.03 906.9V913.4M2998.28 911.2V918.1M2999.53 913.3V917.8M3000.78 915.0V917.1M3002.03 915.3V919.3M3003.28 914.9V918.9M3004.53 917.9V923.7M3005.78 916.3V921.9M3007.03 908.0V918.3M3008.28 895.6V908.5M3009.53 883.0V895.6M3010.78 875.6V883.5M3012.03 867.4V878.2M3013.28 865.5V871.1M3014.53 854.3V865.5M3015.78 853.4V858.7M3017.03 850.3V853.4M3018.28 846.8V851.3M3019.53 843.0V847.5M3020.78 840.1V845.2M3022.03 836.8V846.8M3023.28 844.3V847.5M3024.53 846.0V849.9M3025.78 841.4V850.2M3027.03 844.7V852.4M3028.28 849.5V852.6M3029.53 847.0V852.6M3030.78 847.9V854.0M3032.03 847.1V850.8M3033.28 845.1V853.4M3034.53 848.3V853.6M3035.78 849.4V856.3M3037.03 852.6V857.4M3038.28 856.7V864.5M3039.53 860.3V864.0M3040.78 858.2V862.8M3042.03 857.5V859.7M3043.28 857.2V863.2M3044.53 863.2V869.2M3045.78 865.7V869.6M3047.03 866.7V878.2M3048.28 878.2V885.4M3049.53 883.8V889.3M3050.78 886.4V891.1M3052.03 889.6V893.4M3053.28 891.8V898.2M3054.53 891.9V897.2M3055.78 894.5V897.5M3057.03 890.0V897.9M3058.28 889.8V893.4M3059.53 887.4V892.2M3060.78 890.6V894.2M3062.03 891.5V895.9M3063.28 894.5V904.0M3064.53 903.3V910.3M3065.78 910.3V917.6M3067.03 915.2V927.2M3068.28 927.2V934.8M3069.53 930.7V942.4M3070.78 940.0V947.4M3072.03 942.1V948.0M3073.28 934.5V942.8M3074.53 924.1V934.5M3075.78 916.8V924.2M3077.03 909.2V916.8M3078.28 899.6V909.2M3079.53 895.8V901.7M3080.78 887.3V897.8M3082.03 883.6V891.0M3083.28 882.2V887.1M3084.53 880.1V883.7M3085.78 878.6V884.2M3087.03 878.3V884.2M3088.28 877.4V884.2M3089.53 874.4V882.1M3090.78 868.0V879.0M3092.03 866.1V875.9M3093.28 867.2V871.2M3094.53 868.1V875.7M3095.78 875.2V882.2M3097.03 878.8V882.5M3098.28 880.4V885.8M3099.53 885.4V887.9M3100.78 881.6V886.6M3102.03 886.2V889.2M3103.28 886.2V890.6M3104.53 886.0V892.4M3105.78 886.3V889.5M3107.03 885.6V897.7M3108.28 895.5V907.3M3109.53 902.2V913.3M3110.78 913.3V918.5M3112.03 918.5V925.5M3113.28 924.5V932.1M3114.53 932.1V945.6M3115.78 941.3V949.3M3117.03 948.7V958.8M3118.28 956.6V962.4M3119.53 960.7V964.3M3120.78 963.8V969.1M3122.03 960.8V965.8M3123.28 963.1V966.1M3124.53 959.4V966.1M3125.78 958.9V966.7M3127.03 964.4V969.2M3128.28 967.4V977.0M3129.53 973.0V979.3M3130.78 976.6V982.5M3132.03 979.9V987.5M3133.28 984.4V990.1M3134.53 988.5V994.0M3135.78 986.5V992.3M3137.03 989.7V992.3M3138.28 990.2V994.4M3139.53 989.2V993.3M3140.78 991.4V995.4M3142.03 993.0V996.7M3143.28 995.2V1001.0M3144.53 999.7V1004.6M3145.78 999.6V1007.6M3147.03 997.9V1005.6M3148.28 997.8V1008.3M3149.53 997.2V1001.4M3150.78 996.4V1002.2M3152.03 994.2V1000.0M3153.28 994.0V997.9M3154.53 992.0V999.2M3155.78 992.0V997.2M3157.03 992.8V998.3M3158.28 997.0V1002.1M3159.53 999.0V1002.4M3160.78 995.9V1000.6M3162.03 999.3V1003.0M3163.28 998.4V1003.9M3164.53 999.7V1003.8M3165.78 1000.9V1005.5M3167.03 999.4V1002.5M3168.28 999.1V1001.4M3169.53 997.2V1006.7M3170.78 998.6V1002.3M3172.03 994.8V998.7M3173.28 993.3V999.5M3174.53 995.7V997.9M3175.78 990.2V996.1M3177.03 988.5V992.1M3178.28 983.7V989.4M3179.53 980.4V986.7M3180.78 980.5V985.2M3182.03 978.5V983.4M3183.28 978.0V984.4M3184.53 978.5V982.2M3185.78 978.8V981.2M3187.03 974.1V981.4M3188.28 973.8V977.5M3189.53 971.6V974.7M3190.78 967.3V972.2M3192.03 966.6V971.5M3193.28 961.3V966.6M3194.53 962.0V964.2M3195.78 952.1V963.1M3197.03 946.4V954.3M3198.28 942.6V949.2M3199.53 938.7V944.0M3200.78 941.3V945.5M3202.03 945.5V948.7M3203.28 945.9V949.7M3204.53 948.8V951.4M3205.78 949.3V952.4M3207.03 943.7V949.3M3208.28 936.2V943.7M3209.53 930.0V936.2M3210.78 926.6V934.2M3212.03 919.6V926.6M3213.28 918.6V922.4M3214.53 915.8V920.7M3215.78 909.1V915.8M3217.03 905.6V909.9M3218.28 902.8V908.1M3219.53 900.9V908.1M3220.78 902.7V910.4M3222.03 910.4V913.6M3223.28 910.2V915.7M3224.53 909.8V914.3M3225.78 911.6V914.3M3227.03 912.9V915.8M3228.28 911.3V914.8M3229.53 910.8V914.6M3230.78 910.7V913.5M3232.03 911.4V916.7M3233.28 910.1V914.8M3234.53 913.2V921.1M3235.78 918.1V923.7M3237.03 918.3V923.5M3238.28 921.1V923.7M3239.53 918.0V923.0M3240.78 912.9V918.0M3242.03 914.2V917.4M3243.28 908.6V916.3M3244.53 906.8V911.1M3245.78 906.9V914.6M3247.03 906.7V913.9M3248.28 912.6V915.4M3249.53 915.0V921.5M3250.78 919.5V923.6M3252.03 919.1V922.9M3253.28 907.4V919.1M3254.53 901.8V907.4M3255.78 888.6V901.8M3257.03 887.7V894.6M3258.28 884.1V890.4M3259.53 871.3V884.1M3260.78 859.4V871.4M3262.03 858.1V862.6M3263.28 859.1V866.0M3264.53 855.4V863.8M3265.78 851.6V863.0M3267.03 849.5V857.2M3268.28 854.6V858.1M3269.53 854.3V859.3M3270.78 852.5V858.5M3272.03 848.6V858.7M3273.28 846.1V851.0M3274.53 844.3V847.1M3275.78 836.3V844.3M3277.03 832.2V838.0M3278.28 826.5V833.6M3279.53 825.8V828.0M3280.78 826.0V831.3M3282.03 831.0V839.5M3283.28 838.7V844.6M3284.53 840.5V848.8M3285.78 848.8V853.6M3287.03 847.5V852.6M3288.28 842.6V847.7M3289.53 839.5V848.6M3290.78 834.2V843.2M3292.03 834.3V839.8M3293.28 832.6V837.2M3294.53 823.0V834.5M3295.78 816.5V823.0M3297.03 805.6V816.5M3298.28 805.6V817.6M3299.53 813.2V821.9M3300.78 813.4V820.3M3302.03 820.3V825.8M3303.28 824.5V831.6M3304.53 829.6V833.3M3305.78 831.9V836.3M3307.03 832.9V836.4M3308.28 835.1V841.5M3309.53 841.5V851.8M3310.78 851.8V856.0M3312.03 855.6V860.1M3313.28 860.1V868.8M3314.53 868.8V879.2M3315.78 879.2V897.4M3317.03 893.8V900.3M3318.28 898.1V906.9M3319.53 906.8V917.3M3320.78 915.4V922.8M3322.03 922.8V931.7M3323.28 931.7V936.7M3324.53 935.9V943.0M3325.78 940.3V948.1M3327.03 946.3V949.3M3328.28 945.0V950.8M3329.53 945.9V947.7"/>
<path class="ti" d="M2688.7 1025.5 V1016.5M2829.9 1025.5 V1016.5M2972.4 1025.5 V1016.5M3113.7 1025.5 V1016.5M3256.1 1025.5 V1016.5M2686.4 845.8 H2703.9M2686.4 946.9 H2703.9M2686.4 805.4 H2694.9M2686.4 825.6 H2694.9M2686.4 866.1 H2694.9M2686.4 886.3 H2694.9M2686.4 906.5 H2694.9M2686.4 926.7 H2694.9M2686.4 967.2 H2694.9M2686.4 987.4 H2694.9M2686.4 1007.6 H2694.9"/>
<rect class="fr" x="2686.4" y="789.4" width="643.4" height="236.1"/>
<text class="tk" text-anchor="middle" x="2686.5" y="1043.9">13h15</text>
<text class="tk" text-anchor="middle" x="2829.2" y="1043.9">13h30</text>
<text class="tk" text-anchor="middle" x="2970.7" y="1043.9">13h45</text>
<text class="tk" text-anchor="middle" x="3113.4" y="1043.9">14h00</text>
<text class="tk" text-anchor="middle" x="3254.6" y="1043.9">14h15</text>
<text class="tk" text-anchor="end" x="2680.4" y="852.5">0.2</text>
<text class="tk" text-anchor="end" x="2680.4" y="953.6">0.195</text>
<text class="bt" x="2682.7" y="1088.2">1452950102.0000 Jan20 2026 13:14:44 UTC</text>
</g>
</svg>
</body></html>
